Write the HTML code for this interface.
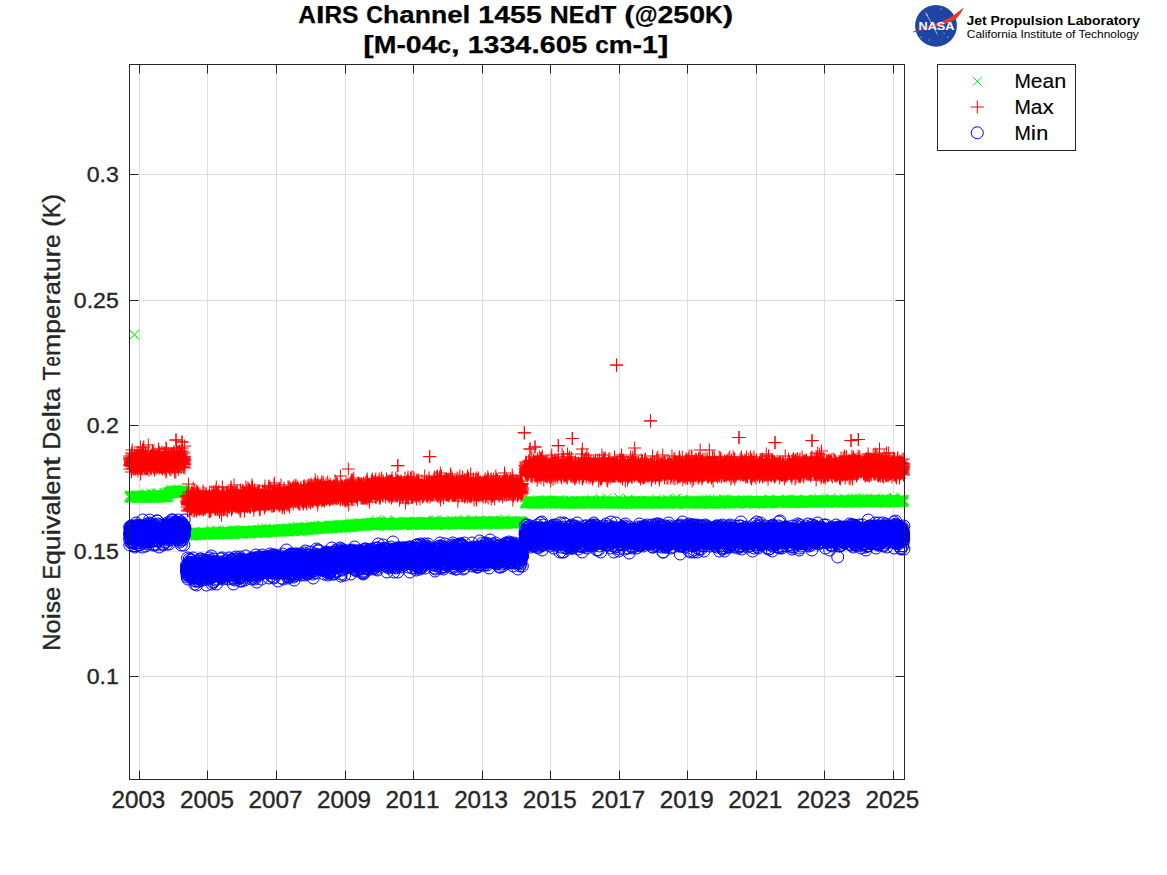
<!DOCTYPE html>
<html><head><meta charset="utf-8"><style>
html,body{margin:0;padding:0;background:#fff;overflow:hidden}
svg{display:block}
</style></head><body>
<svg width="1167" height="875" viewBox="0 0 1167 875">
<defs>
<marker id="mp" markerUnits="userSpaceOnUse" markerWidth="14" markerHeight="14" refX="7" refY="7" overflow="visible"><path d="M0.5 7H13.5M7 0.5V13.5" stroke="#f00" stroke-width="1" fill="none"/></marker>
<marker id="mx" markerUnits="userSpaceOnUse" markerWidth="14" markerHeight="14" refX="7" refY="7" overflow="visible"><path d="M2.5 2.5L11.5 11.5M11.5 2.5L2.5 11.5" stroke="#0f0" stroke-width="1" fill="none"/></marker>
<marker id="mo" markerUnits="userSpaceOnUse" markerWidth="14" markerHeight="14" refX="7" refY="7" overflow="visible"><circle cx="7" cy="7" r="6" stroke="#00f" stroke-width="1" fill="none"/></marker>
</defs>
<rect width="1167" height="875" fill="#fff"/>
<g stroke="#dfdfdf" stroke-width="1"><line x1="139.5" y1="64.5" x2="139.5" y2="779.5"/><line x1="207.5" y1="64.5" x2="207.5" y2="779.5"/><line x1="276.5" y1="64.5" x2="276.5" y2="779.5"/><line x1="345.5" y1="64.5" x2="345.5" y2="779.5"/><line x1="413.5" y1="64.5" x2="413.5" y2="779.5"/><line x1="482.5" y1="64.5" x2="482.5" y2="779.5"/><line x1="550.5" y1="64.5" x2="550.5" y2="779.5"/><line x1="619.5" y1="64.5" x2="619.5" y2="779.5"/><line x1="687.5" y1="64.5" x2="687.5" y2="779.5"/><line x1="756.5" y1="64.5" x2="756.5" y2="779.5"/><line x1="824.5" y1="64.5" x2="824.5" y2="779.5"/><line x1="893.5" y1="64.5" x2="893.5" y2="779.5"/><line x1="129.5" y1="174.5" x2="904.5" y2="174.5"/><line x1="129.5" y1="300.5" x2="904.5" y2="300.5"/><line x1="129.5" y1="425.5" x2="904.5" y2="425.5"/><line x1="129.5" y1="551.5" x2="904.5" y2="551.5"/><line x1="129.5" y1="676.5" x2="904.5" y2="676.5"/></g>
<path d="M129.5 497l.1-1 .1 1 .1 0 .1 0 .1-1 .1 0 .1 1 .1-2 0 1 .1 1 .1 0 .1 1 .1-1 .1 1 .1-2 .1 1 .1-1 .1 0 .1 2 .1-2 .1 0 .1 1 .1 0 .1 1 0 0 .1 0 .1 0 .1-1 .1 0 .1 1 .1-2 .1 2 .1-1 .1-1 .1 0 .1 1 .1 0 .1 0 .1 0 .1-1 0 1 .1-1 .1 1 .1 0 .1-1 .1 0 .1 1 .1 0 .1 0 .1-1 .1 0 .1 1 .1 0 .1 0 .1 0 .1-1 0 0 .1 1 .1 1 .1-2 .1-1 .1 2 .1 0 .1 0 .1 1 .1-1 .1-1 .1 1 .1-1 .1 1 .1 0 .1 0 0-1 .1 0 .1 0 .1 0 .1 1 .1 0 .1 1 .1-1 .1 0 .1 0 .1-1 .1 3 .1-2 .1-2 .1 2 .1 0 0-2 .1 1 .1 2 .1-2 .1 1 .1 1 .1-2 .1 0 .1 2 .1-1 .1-1 .1 2 .1-2 .1 2 .1-1 .1 1 0 0 .1-2 .1 0 .1 1 .1 0 .1 0 .1 1 .1 0 .1-2 .1 1 .1 0 .1 0 .1 0 .1 1 .1-2 .1 1 0 0 .1 0 .1-1 .1 1 .1-1 .1 2 .1-1 .1 0 .1-1 .1 0 .1-1 .1 1 .1 1 .1 0 .1 0 .1-1 .1 1 0 1 .1-2 .1 1 .1-1 .1 0 .1 2 .1-2 .1 0 .1 0 .1 0 .1 0 .1 2 .1-2 .1 0 .1 1 .1-1 0-1 .1 2 .1 0 .1-1 .1 0 .1 2 .1 0 .1-2 .1 1 .1 1 .1-2 .1 0 .1 1 .1-1 .1 1 .1-2 0 0 .1 1 .1 0 .1 0 .1 1 .1-2 .1 3 .1-2 .1-1 .1-2 .1 3 .1 0 .1 0 .1 0 .1 2 .1-1 0 0 .1-2 .1 3 .1-2 .1 1 .1-1 .1 0 .1 1 .1-1 .1 0 .1 1 .1-1 .1 1 .1 0 .1-1 .1 1 0 0 .1-1 .1 1 .1-1 .1 0 .1 2 .1-2 .1 2 .1-2 .1 1 .1-1 .1 1 .1-1 .1 1 .1 0 .1 0 0-1 .1 0 .1 1 .1 0 .1 1 .1-1 .1 0 .1 0 .1 0 .1-1 .1 0 .1 2 .1-5 .1 4 .1 0 .1-1 0 2 .1-1 .1-1 .1-1 .1 2 .1 0 .1 0 .1 0 .1-1 .1 1 .1-1 .1 1 .1-1 .1-1 .1 2 .1 0 0 1 .1-1 .1-1 .1 2 .1-1 .1 0 .1 0 .1 1 .1-1 .1-1 .1 0 .1 2 .1-2 .1 2 .1-1 .1 0 .1-1 0 0 .1 2 .1-1 .1-1 .1 1 .1 0 .1 0 .1-2 .1 2 .1-1 .1 0 .1 0 .1 0 .1 0 .1 0 .1 1 0 1 .1-2 .1 1 .1 0 .1-1 .1 0 .1-3 .1 2 .1 2 .1-2 .1 1 .1 1 .1-4 .1 5 .1-1 .1 0 0-1 .1 2 .1-1 .1 0 .1-1 .1 1 .1 1 .1-2 .1-1 .1 2 .1 0 .1 0 .1-1 .1 1 .1-1 .1 1 0-1 .1 0 .1 1 .1 1 .1-3 .1 2 .1 0 .1 1 .1-3 .1 1 .1 0 .1 1 .1-3 .1 3 .1 0 .1-1 0 0 .1 1 .1-1 .1 0 .1-1 .1 1 .1 0 .1 0 .1 1 .1-1 .1 1 .1-1 .1-1 .1 3 .1-1 .1 0 0 1 .1-2 .1 1 .1-2 .1 2 .1 0 .1-1 .1 1 .1-1 .1 1 .1 0 .1 0 .1 0 .1-1 .1-1 .1 1 0-1 .1 1 .1 1 .1-1 .1-3 .1 4 .1 0 .1-2 .1 2 .1-1 .1 1 .1-2 .1 3 .1-1 .1-1 .1 1 .1-4 0 3 .1 0 .1-1 .1 2 .1-1 .1 1 .1 0 .1-1 .1 1 .1 0 .1-1 .1 0 .1 1 .1-1 .1 0 .1 0 0 1 .1 0 .1-2 .1 1 .1 1 .1-5 .1 5 .1 0 .1 0 .1 1 .1-2 .1 0 .1 1 .1-1 .1 1 .1-1 0 0 .1-2 .1 1 .1-1 .1 0 .1 0 .1-2 .1 1 .1 0 .1 1 .1-1 .1 0 .1 0 .1 0 .1 0 .1 0 0-1 .1 0 .1 0 .1 1 .1-1 .1-1 .1 2 .1-1 .1 0 .1 0 .1 0 .1 0 .1-3 .1 4 .1 0 .1-1 0 0 .1 0 .1 0 .1 1 .1-2 .1 1 .1-1 .1 0 .1 1 .1-1 .1 2 .1 0 .1-2 .1 2 .1 0 .1-1 0 0 .1 0 .1 1 .1-1 .1-1 .1 1 .1 1 .1-2 .1 1 .1 0 .1 1 .1-2 .1 1 .1 1 .1-2 .1 1 0 1 .1-1 .1 0 .1-1 .1 2 .1-2 .1 2 .1-1 .1 1 .1-1 .1 0 .1-1 .1 1 .1-1 .1-1 .1 1 0 1 .1 0 .1 0 .1-1 .1 1 .1 0 .1 0 .1 0 .1 1 .1-3 .1 0 .1 1 .1 0 .1 2 .1-3 .1 2 .1 0 0 1 .1-2 .1 2 .1-2 .1 0 .1 2 .1-1 .1 0 .1 0 .1 0 .1-1 .1 1 .1 0 .1-1 .1 2 .1-2 0 1 .1 0 .1-1 .1 2 .1-3 .1 1 .1 0 .1 0 .1 1 .1 1 .1-2 .1 1 .1-1 .1 1 .1 0 .1 0 0 0 .1-1 .1 1 .1 0 .1-1 .1 0 .1 0 .1-1 .1 3 .1-2 .1 0 .1 1 .1-1 .1 2 .1-1 .1-1 0 0 .1 1 .1 0 .1 1 .1-3 .1 2 .1-1 .1 1 .1 1 .1-2 .1 1 .1-1 .1 1 .1-2 .1 1 .1 1 0-3 .1 2 .1 1 .1 1 .1 0 .1-2 .1 0 .1 0 .1-1 .1 2 .1 0 .1 0 .1-2 .1 1 .1 0 .1-1 0 1 .1 2 .1-1M186.5 536l.1-2 .1-1 .1 1 .1 0 .1 1 .1-1 .1 1 .1-2 0 1 .1 0 .1 0 .1 0 .1-1 .1 2 .1-1 .1 0 .1 1 .1-1 .1 0 .1 1 .1-1 .1 1 .1 0 .1 1 0-2 .1 0 .1 1 .1-2 .1 1 .1 0 .1 0 .1 0 .1 0 .1 1 .1-2 .1 2 .1-1 .1 0 .1 1 .1-1 0 1 .1 0 .1-1 .1 2 .1-3 .1 1 .1 0 .1 1 .1-1 .1 1 .1-2 .1 1 .1 1 .1-1 .1-1 .1 1 0 2 .1-1 .1-1 .1 0 .1 1 .1 1 .1-2 .1 0 .1-1 .1 0 .1 1 .1 1 .1 0 .1-1 .1 1 .1 0 0 0 .1-1 .1 1 .1-1 .1 1 .1-1 .1 1 .1-1 .1 2 .1-1 .1-1 .1-2 .1 2 .1-1 .1 2 .1-3 0 2 .1 1 .1-2 .1 0 .1 1 .1 0 .1 0 .1 0 .1 1 .1-2 .1 1 .1 1 .1 0 .1 1 .1-1 .1-1 0 0 .1-1 .1 1 .1 0 .1-1 .1 1 .1 0 .1 1 .1 0 .1 0 .1-3 .1 2 .1 0 .1 0 .1-1 .1 1 0 0 .1 0 .1-1 .1 2 .1-2 .1 1 .1 0 .1-1 .1 0 .1 2 .1-1 .1-1 .1 0 .1 1 .1 0 .1-1 .1 1 0 1 .1-1 .1-2 .1 2 .1-1 .1 0 .1 2 .1-2 .1 1 .1-2 .1 3 .1-2 .1 2 .1 0 .1 0 .1-1 0 0 .1 0 .1-1 .1 0 .1 1 .1-2 .1 2 .1 0 .1 0 .1 0 .1-2 .1 2 .1 0 .1-1 .1 1 .1 0 0 0 .1-1 .1 0 .1 1 .1 0 .1 0 .1-2 .1 0 .1 1 .1 1 .1 0 .1 1 .1-1 .1 0 .1 0 .1 0 0-1 .1 0 .1 2 .1-3 .1 2 .1 0 .1 0 .1 1 .1 0 .1-1 .1 0 .1-1 .1 1 .1 1 .1-1 .1 1 0 0 .1-2 .1 1 .1 0 .1 0 .1-1 .1 0 .1 1 .1-1 .1 1 .1-1 .1 1 .1-1 .1 0 .1 1 .1-1 0 2 .1-2 .1 1 .1-1 .1 1 .1 0 .1-1 .1 1 .1 0 .1 0 .1 1 .1-2 .1 1 .1 0 .1-1 .1 1 0-1 .1-1 .1 3 .1-1 .1 0 .1 0 .1 0 .1-1 .1 1 .1-1 .1 0 .1 0 .1 0 .1 0 .1 1 .1 0 0-1 .1 2 .1-2 .1 1 .1 0 .1-1 .1 2 .1-5 .1 3 .1 2 .1-3 .1 1 .1 0 .1 0 .1 1 .1 0 .1-1 0 1 .1 0 .1 0 .1-1 .1 1 .1 0 .1 0 .1-1 .1-1 .1 2 .1 0 .1 0 .1-1 .1 1 .1 0 .1-2 0 1 .1 0 .1 0 .1 2 .1-3 .1 1 .1 1 .1-1 .1 1 .1 0 .1-2 .1 1 .1 1 .1 0 .1-1 .1 1 0-1 .1 2 .1-3 .1 2 .1-1 .1 0 .1 1 .1-1 .1 1 .1 0 .1-1 .1-1 .1 0 .1 2 .1 0 .1-1 0 0 .1 0 .1-3 .1 2 .1 0 .1 2 .1 0 .1 1 .1-2 .1 1 .1-2 .1 1 .1 1 .1 0 .1 0 .1-1 0-1 .1 2 .1-1 .1 0 .1 1 .1-1 .1 1 .1-2 .1 1 .1 1 .1-2 .1 2 .1 0 .1-1 .1 2 .1-2 0 0 .1 0 .1 1 .1-2 .1 1 .1 0 .1 1 .1-2 .1 1 .1 0 .1-1 .1 2 .1 0 .1-1 .1 1 .1-1 0-1 .1 1 .1 0 .1 1 .1 0 .1 0 .1-1 .1-1 .1 2 .1-2 .1 2 .1-2 .1 2 .1 1 .1-1 .1-1 .1 0 0 0 .1 0 .1 0 .1 0 .1 1 .1 0 .1-2 .1 1 .1 0 .1 1 .1-1 .1-2 .1 2 .1 0 .1 1 .1-1 0-1 .1 1 .1 0 .1 0 .1 1 .1-1 .1 0 .1 0 .1 0 .1 0 .1-2 .1 2 .1 0 .1 1 .1 0 .1-1 0-1 .1 1 .1 0 .1-2 .1 2 .1-2 .1 3 .1-1 .1 0 .1-1 .1 1 .1 1 .1-1 .1-1 .1 0 .1 2 0-1 .1-1 .1 1 .1 0 .1-1 .1-2 .1 4 .1-2 .1 0 .1 0 .1 3 .1-2 .1 0 .1 0 .1 1 .1-1 0 0 .1 0 .1 0 .1 1 .1-1 .1-1 .1 1 .1 0 .1 0 .1 0 .1-1 .1 2 .1 0 .1-2 .1 2 .1-2 0 0 .1 1 .1 0 .1-1 .1 0 .1 1 .1 0 .1-1 .1 2 .1-1 .1 0 .1 1 .1-2 .1 0 .1 1 .1 0 0-1 .1 0 .1 1 .1 0 .1 0 .1 0 .1 0 .1-1 .1 0 .1 1 .1 0 .1 0 .1 0 .1-1 .1 0 .1 0 0-2 .1 2 .1 2 .1-4 .1 2 .1 2 .1-1 .1-1 .1 1 .1 0 .1-1 .1 2 .1-1 .1 1 .1-2 .1 0 .1 1 0 0 .1-1 .1 1 .1-1 .1 0 .1-1 .1 2 .1-1 .1 0 .1 1 .1 0 .1 1 .1 0 .1-1 .1 0 .1 0 0 1 .1-1 .1-1 .1 0 .1-1 .1 1 .1 1 .1-1 .1 1 .1 0 .1-2 .1 2 .1-2 .1 2 .1-2 .1 1 0 1 .1 0 .1-1 .1-1 .1 2 .1-1 .1 0 .1 0 .1-1 .1 0 .1 1 .1 1 .1 0 .1-3 .1 4 .1-2 0 0 .1 0 .1 1 .1 0 .1 1 .1-1 .1-1 .1 0 .1-2 .1 3 .1-1 .1 0 .1 1 .1 1 .1-2 .1 1 0-2 .1 2 .1-1 .1 2 .1-2 .1 1 .1 1 .1-2 .1 0 .1 0 .1-1 .1 2 .1 0 .1-1 .1 1 .1 0 0-1 .1 0 .1 0 .1-1 .1 3 .1-2 .1-1 .1 1 .1 1 .1-1 .1 2 .1 0 .1-1 .1-1 .1 1 .1 0 0-1 .1 0 .1-1 .1 1 .1-1 .1 0 .1 1 .1-2 .1 2 .1 1 .1-3 .1 3 .1-1 .1-1 .1 2 .1 0 0-1 .1 0 .1 0 .1 0 .1 0 .1 0 .1 1 .1 0 .1-1 .1 1 .1-1 .1 0 .1 0 .1-1 .1 3 .1-1 .1-1 0 0 .1 1 .1 0 .1-1 .1 0 .1 0 .1 0 .1 0 .1 0 .1 1 .1-2 .1 2 .1 0 .1-1 .1 1 .1 0 0 0 .1-1 .1-1 .1 2 .1 0 .1-1 .1 0 .1 0 .1 0 .1 0 .1 1 .1-1 .1-1 .1 1 .1 1 .1-1 0-1 .1 0 .1 1 .1 0 .1 2 .1-3 .1 3 .1-2 .1 1 .1 0 .1 0 .1-2 .1 2 .1-1 .1 0 .1 0 0 0 .1 0 .1 1 .1-1 .1 1 .1-1 .1 1 .1 0 .1 0 .1 0 .1-2 .1 0 .1 0 .1 1 .1 0 .1 0 0 0 .1-2 .1 2 .1 1 .1 0 .1-1 .1-1 .1-1 .1 1 .1 0 .1 1 .1 0 .1 0 .1 0 .1 0 .1 1 0-2 .1 1 .1 0 .1 0 .1 0 .1 0 .1-1 .1 0 .1 1 .1 1 .1-2 .1 0 .1 1 .1 1 .1-2 .1 1 0-1 .1 1 .1-1 .1 0 .1 0 .1 1 .1-1 .1-1 .1 2 .1 0 .1 0 .1 1 .1-1 .1 0 .1-1 .1 2 0-2 .1 1 .1 0 .1-1 .1 1 .1 0 .1 0 .1-1 .1 1 .1-2 .1 0 .1 2 .1-1 .1 1 .1 1 .1 0 .1-1 0 0 .1-2 .1 2 .1-2 .1 1 .1 1 .1 0 .1 0 .1-1 .1 1 .1-1 .1 1 .1 0 .1 0 .1 0 .1-1 0 1 .1-2 .1 0 .1 1 .1 1 .1 0 .1 0 .1 1 .1-1 .1-2 .1 2 .1-1 .1 1 .1-1 .1 1 .1 1 0-1 .1 0 .1-1 .1-1 .1 2 .1-4 .1 3 .1 0 .1 0 .1 0 .1 0 .1 0 .1 0 .1-1 .1 1 .1 1 0-1 .1 0 .1 1 .1-1 .1 0 .1 2 .1-2 .1 1 .1 1 .1-1 .1 0 .1 0 .1-1 .1 2 .1-1 .1-1 0 2 .1-1 .1 0 .1-1 .1 1 .1 1 .1-2 .1 1 .1 1 .1-2 .1 0 .1 1 .1-1 .1 2 .1-2 .1 0 0 0 .1-1 .1 2 .1-4 .1 2 .1 3 .1-2 .1 0 .1 0 .1-1 .1 0 .1 1 .1 1 .1 0 .1-1 .1 1 0 0 .1 0 .1-2 .1 1 .1 0 .1 1 .1-1 .1 0 .1 0 .1 0 .1-1 .1 1 .1 0 .1-1 .1 0 .1 1 .1 0 0 0 .1 1 .1-1 .1-2 .1 3 .1-1 .1 0 .1 1 .1-3 .1 1 .1 1 .1-1 .1 1 .1 0 .1 0 .1-1 0 1 .1-1 .1 1 .1 0 .1 0 .1 1 .1-1 .1 0 .1 1 .1 0 .1 0 .1-2 .1 2 .1-1 .1-1 .1 0 0 1 .1-1 .1 1 .1 0 .1 0 .1 0 .1 0 .1-1 .1 2 .1-1 .1-1 .1 1 .1 0 .1 0 .1-2 .1 2 0 0 .1 1 .1-2 .1 1 .1 0 .1 0 .1-1 .1 0 .1 2 .1-1 .1-1 .1 0 .1 0 .1 0 .1 1 .1-2 0 3 .1-2 .1 0 .1 1 .1 0 .1-1 .1 0 .1 1 .1 1 .1-1 .1 0 .1-1 .1 1 .1-1 .1 1 .1 0 0 0 .1 0 .1 0 .1-1 .1 0 .1 1 .1 0 .1-1 .1 0 .1 1 .1-1 .1 1 .1-1 .1-1 .1 3 .1-1 0 0 .1-1 .1 2 .1-1 .1-1 .1 1 .1-1 .1 0 .1 0 .1 0 .1 0 .1 1 .1-1 .1 2 .1-1 .1 0 0 0 .1-1 .1 1 .1 0 .1 0 .1-2 .1 1 .1 0 .1 1 .1 0 .1 0 .1 0 .1 0 .1 1 .1 0 .1-2 .1 0 0 1 .1-1 .1 2 .1-2 .1-1 .1 0 .1 1 .1 0 .1 0 .1-1 .1 2 .1-1 .1 0 .1-1 .1 2 .1-1 0 0 .1 1 .1-1 .1 0 .1-1 .1 1 .1 0 .1 0 .1 0 .1 0 .1 1 .1-1 .1 2 .1-2 .1-1 .1 3 0-1 .1 0 .1-2 .1 1 .1 0 .1-1 .1 0 .1 0 .1 1 .1 1 .1 0 .1 0 .1-1 .1 1 .1-1 .1-1 0 1 .1 0 .1 0 .1 1 .1 0 .1-1 .1 1 .1-1 .1 1 .1-2 .1-1 .1 2 .1 0 .1 0 .1-1 .1 2 0-1 .1 1 .1 1 .1-1 .1-3 .1 1 .1 1 .1 0 .1 1 .1 1 .1-3 .1 1 .1 0 .1-1 .1 1 .1 1 0 0 .1 0 .1-1 .1 0 .1 0 .1 1 .1-1 .1 1 .1-1 .1-1 .1 1 .1-1 .1 3 .1-3 .1 1 .1 0 0 0 .1 0 .1 0 .1 0 .1 0 .1-1 .1-1 .1 2 .1 0 .1 0 .1 0 .1-1 .1 0 .1 1 .1 0 .1-1 0 1 .1 0 .1 0 .1 1 .1-1 .1-1 .1 1 .1 0 .1 0 .1-1 .1 1 .1 1 .1-1 .1 0 .1-3 .1 3 .1 1 0-1 .1 1 .1 0 .1-3 .1 1 .1 1 .1 1 .1-1 .1-1 .1 0 .1 0 .1 2 .1-2 .1 0 .1 2 .1-1 0-1 .1 2 .1-1 .1-1 .1 1 .1-1 .1 0 .1 1 .1 0 .1 0 .1-2 .1 2 .1 0 .1 0 .1-1 .1 1 0-1 .1 0 .1 1 .1 0 .1 0 .1 0 .1-1 .1 0 .1 1 .1 0 .1 0 .1-4 .1 3 .1 2 .1-1 .1-3 0 2 .1 1 .1-1 .1 0 .1-1 .1 3 .1 0 .1-2 .1 0 .1 1 .1-1 .1 1 .1-1 .1 0 .1 0 .1 2 0 0 .1-2 .1 0 .1 0 .1 1 .1-1 .1 0 .1 1 .1-2 .1 2 .1-1 .1 1 .1 0 .1 1 .1-2 .1 0 0 2 .1-2 .1 2 .1-2 .1 0 .1 2 .1-2 .1 1 .1-2 .1 2 .1 1 .1-3 .1 0 .1 1 .1 1 .1 0 0-2 .1 1 .1 2 .1-3 .1 1 .1 1 .1-1 .1 0 .1 0 .1 1 .1-1 .1 1 .1 0 .1-2 .1 3 .1-1 0-1 .1 0 .1 0 .1 0 .1 0 .1-1 .1 1 .1-1 .1-1 .1 1 .1 0 .1 2 .1-1 .1-1 .1 0 .1 1 .1 0 0 0 .1 0 .1 0 .1 0 .1 0 .1 0 .1 1 .1 0 .1-1 .1-1 .1 2 .1-1 .1 0 .1-1 .1 1 .1 1 0 0 .1-1 .1 0 .1-1 .1 0 .1-1 .1 1 .1 1 .1 1 .1 0 .1-3 .1 3 .1-2 .1 2 .1-2 .1 1 0 0 .1 0 .1-1 .1 1 .1-1 .1 2 .1-1 .1-1 .1 0 .1 2 .1-2 .1 1 .1 0 .1 0 .1-1 .1 1 0-1 .1 0 .1 0 .1 1 .1-1 .1 0 .1 1 .1 1 .1-1 .1-4 .1 2 .1 2 .1 0 .1-1 .1 1 .1-1 0 1 .1 0 .1 0 .1-1 .1 0 .1 0 .1 0 .1 1 .1 1 .1-1 .1 0 .1 0 .1 0 .1-1 .1 0 .1 0 0 1 .1-1 .1 0 .1 0 .1 1 .1-2 .1 2 .1 0 .1-1 .1 2 .1-2 .1 1 .1-2 .1 1 .1 1 .1 0 0-1 .1 1 .1 0 .1-2 .1 1 .1 1 .1 0 .1-3 .1 3 .1-1 .1 0 .1 0 .1 0 .1 0 .1 0 .1 0 .1 1 0 0 .1-1 .1-1 .1 2 .1-1 .1 0 .1 1 .1 0 .1 0 .1-2 .1 0 .1 2 .1-1 .1 1 .1-1 .1 0 0-1 .1 1 .1 1 .1-2 .1 2 .1-2 .1 1 .1-1 .1 1 .1-1 .1 1 .1 0 .1-1 .1 1 .1 0 .1 0 0 0 .1-1 .1 1 .1-1 .1 2 .1-1 .1 1 .1-2 .1 1 .1 1 .1-1 .1 0 .1 0 .1 0 .1 0 .1 0 0 0 .1-2 .1 2 .1 1 .1-2 .1 1 .1 1 .1-1 .1-1 .1 1 .1-1 .1-1 .1 2 .1 0 .1-1 .1 1 0 0 .1 0 .1-3 .1 1 .1 2 .1-2 .1 1 .1 1 .1 0 .1-1 .1 0 .1 1 .1 1 .1-1 .1-1 .1 1 0 0 .1-2 .1 1 .1 1 .1-1 .1 2 .1-2 .1 0 .1 0 .1 1 .1-1 .1 0 .1 1 .1 1 .1-2 .1 0 0 0 .1 0 .1 1 .1-1 .1 0 .1 1 .1-1 .1 0 .1 0 .1 1 .1-1 .1 1 .1 0 .1-2 .1 2 .1 0 0-1 .1 1 .1-1 .1 1 .1 1 .1-1 .1 1 .1 0 .1-1 .1 0 .1-1 .1 1 .1-1 .1 1 .1 0 .1-2 .1 2 0-1 .1 0 .1 1 .1-1 .1 1 .1 0 .1-1 .1 1 .1 0 .1 0 .1-1 .1 1 .1-1 .1 0 .1 1 .1-1 0 0 .1 0 .1-2 .1 2 .1 0 .1 0 .1 0 .1 0 .1-1 .1 0 .1 1 .1 1 .1-2 .1 2 .1-1 .1 0 0 0 .1 0 .1 1 .1-2 .1 2 .1-1 .1-1 .1 1 .1-1 .1 0 .1 2 .1 1 .1-2 .1 0 .1 0 .1 0 0 0 .1 0 .1 0 .1-1 .1-1 .1 1 .1 3 .1-2 .1 0 .1-1 .1 0 .1 1 .1 0 .1 1 .1 0 .1 0 0-2 .1-1 .1 2 .1 0 .1 0 .1 0 .1 0 .1 0 .1-1 .1 1 .1 0 .1 0 .1 0 .1-1 .1 1 .1-1 0 1 .1 0 .1 0 .1 0 .1 0 .1 1 .1-1 .1-1 .1 1 .1 0 .1 0 .1 0 .1-1 .1 1 .1 0 .1-2 0 3 .1-2 .1 2 .1-1 .1-2 .1 2 .1-1 .1 1 .1 0 .1 0 .1 0 .1 1 .1 0 .1-1 .1 0 .1-1 0 1 .1 0 .1 0 .1-1 .1-1 .1 1 .1 0 .1 0 .1 1 .1-1 .1 0 .1 1 .1 1 .1-2 .1-1 .1 1 .1 0 0 1 .1-1 .1-1 .1 0 .1 0 .1 1 .1-1 .1 2 .1 0 .1-1 .1 1 .1-1 .1 2 .1-2 .1 1 .1-2 0 2 .1-1 .1 1 .1-1 .1 1 .1-1 .1 1 .1-1 .1 0 .1 1 .1-1 .1 0 .1 0 .1 1 .1-1 .1 2 0-1 .1-2 .1 2 .1 0 .1 0 .1 0 .1-1 .1-1 .1 2 .1-1 .1-1 .1 2 .1 0 .1 0 .1 0 .1 0 0-1 .1 1 .1 1 .1-3 .1 2 .1-1 .1 2 .1-1 .1-1 .1 0 .1 0 .1 0 .1 0 .1 0 .1-1 .1 1 0 1 .1-1 .1 1 .1-2 .1 1 .1 1 .1-1 .1 1 .1-1 .1 0 .1 1 .1-1 .1 1 .1 0 .1-2 .1 0 0 0 .1 1 .1 0 .1 0 .1 0 .1 1 .1 0 .1-1 .1-1 .1 0 .1 2 .1 0 .1-1 .1-1 .1 1 .1 0 0-1 .1 1 .1 0 .1-1 .1 3 .1-1 .1-2 .1 1 .1 0 .1-1 .1-1 .1 3 .1-1 .1-1 .1 1 .1 0 0 0 .1 0 .1 0 .1 0 .1-1 .1 2 .1-3 .1 3 .1-2 .1-1 .1 1 .1 1 .1 0 .1 0 .1 1 .1-4 .1 3 0-2 .1 1 .1 2 .1-2 .1 1 .1 0 .1 0 .1 0 .1-1 .1 0 .1 2 .1-2 .1 1 .1 0 .1 1 .1-2 0 0 .1 1 .1 0 .1 1 .1-1 .1 0 .1-1 .1 0 .1 1 .1 0 .1 0 .1-1 .1 0 .1-1 .1 1 .1 0 0 0 .1 0 .1 0 .1 1 .1 0 .1-1 .1-1 .1 0 .1 2 .1 0 .1 0 .1-2 .1 1 .1 0 .1 1 .1 0 0 0 .1 0 .1-2 .1 1 .1 0 .1 0 .1 1 .1-1 .1 0 .1 0 .1 0 .1-2 .1 1 .1 2 .1-1 .1 0 0 0 .1 1 .1-1 .1 0 .1 0 .1-1 .1 2 .1-1 .1 1 .1 0 .1-1 .1-2 .1 2 .1 0 .1 0 .1 0 0 0 .1 2 .1-3 .1 1 .1 0 .1 0 .1 0 .1-1 .1 1 .1-2 .1 2 .1 1 .1-1 .1 0 .1 0 .1 0 0 0 .1-1 .1 1 .1 0 .1 1 .1 0 .1-2 .1 0 .1 2 .1-2 .1 1 .1 0 .1-1 .1 0 .1 0 .1 1 .1 0 0 1 .1-2 .1 0 .1 1 .1 0 .1 0 .1 1 .1-2 .1 0 .1 1 .1-1 .1 0 .1 1 .1 1 .1-1 .1 0 0 1 .1-2 .1 0 .1 1 .1 0 .1-1 .1 0 .1 1 .1 0 .1-1 .1 1 .1-1 .1 1 .1-1 .1 0 .1 1 0-1 .1 2 .1-3 .1 2 .1-1 .1 1 .1 0 .1 1 .1-2 .1 0 .1 1 .1 0 .1-1 .1 1 .1-1 .1 0 0 0 .1 0 .1 1 .1 0 .1 0 .1-1 .1 0 .1 0 .1-1 .1 0 .1 1 .1 0 .1 0 .1 0 .1 1 .1-1 0 1 .1 0 .1 0 .1-1 .1 0 .1 1 .1 1 .1-1 .1 0 .1 0 .1-2 .1 1 .1 1 .1-1 .1 0 .1-1 0 1 .1 0 .1 0 .1 0 .1 0 .1-1 .1 2 .1-2 .1 2 .1-2 .1 1 .1 1 .1 0 .1 0 .1-2 .1 0 0 2 .1 0 .1-1 .1-1 .1-1 .1 2 .1 1 .1 0 .1-1 .1 0 .1 1 .1 0 .1 0 .1 0 .1 0 .1-1 0 0 .1 0 .1-1 .1 1 .1-1 .1 1 .1 0 .1 0 .1 0 .1 1 .1-1 .1-1 .1 2 .1-3 .1 2 .1-1 .1 0 0-1 .1 2 .1 0 .1 0 .1-1 .1 2 .1 0 .1-1 .1 0 .1 1 .1 1 .1-2 .1 0 .1-2 .1 2 .1 0 0-4 .1 6 .1-2 .1 1 .1-1 .1 0 .1 0 .1-2 .1 1 .1 1 .1-1 .1 0 .1-1 .1 2 .1 0 .1 0 0 0 .1-1 .1 0 .1 2 .1-1 .1 0 .1 0 .1 1 .1 0 .1-1 .1 1 .1-1 .1-1 .1 1 .1 0 .1-1 0 0 .1 1 .1 0 .1-1 .1 2 .1-1 .1-1 .1 1 .1 1 .1-2 .1 1 .1 0 .1 0 .1 1 .1-1 .1 0 0 0 .1 0 .1 0 .1-3 .1 3 .1 0 .1-1 .1 2 .1-1 .1 1 .1-2 .1 1 .1 0 .1 1 .1-1 .1 0 0-1 .1 0 .1 0 .1 1 .1-1 .1 1 .1-1 .1 2 .1 0 .1-1 .1 1 .1-1 .1 1 .1-1 .1 0 .1 0 0-1 .1 0 .1 0 .1 1 .1-1 .1 1 .1-1 .1 2 .1-1 .1 0 .1 0 .1-1 .1 0 .1 1 .1-1 .1 0 0 3 .1-2 .1-2 .1 2 .1 0 .1 0 .1 0 .1 0 .1 0 .1 0 .1-2 .1 2 .1-1 .1 1 .1 1 .1-1 .1-4 0 3 .1 1 .1 0 .1-1 .1 2 .1-2 .1 1 .1 0 .1-1 .1 1 .1 2 .1-1 .1 1 .1-4 .1-1 .1 3 0 0 .1 0 .1 0 .1 0 .1-1 .1 0 .1 0 .1 0 .1 0 .1 2 .1-1 .1 0 .1 0 .1 1 .1-1 .1 1 0-1 .1 1 .1-2 .1 0 .1 1 .1 0 .1-1 .1 0 .1 1 .1 0 .1 0 .1 0 .1 1 .1-1 .1 0 .1 0 0-1 .1 1 .1 0 .1-1 .1 3 .1-3 .1 0 .1 0 .1 0 .1 1 .1 0 .1-1 .1 0 .1 2 .1-2 .1 1 0-1 .1 2 .1-2 .1 1 .1 0 .1 0 .1 0 .1-1 .1 0 .1 2 .1-2 .1 0 .1 2 .1-1 .1-1 .1 1 0 1 .1 1 .1-2 .1 0 .1 0 .1 0 .1 0 .1-1 .1 1 .1-1 .1 1 .1 0 .1 0 .1-1 .1 1 .1-2 0 1 .1 0 .1 1 .1 0 .1-1 .1-2 .1 3 .1 0 .1 0 .1 0 .1-1 .1-1 .1 2 .1 0 .1 0 .1 1 0-2 .1 2 .1-1 .1 0 .1-1 .1 0 .1 1 .1 0 .1-2 .1 1 .1 2 .1-1 .1 0 .1-1 .1-1 .1 3 .1-2 0 1 .1 0 .1-1 .1 1 .1 0 .1 0 .1-1 .1 0 .1 1 .1 0 .1-1 .1 0 .1 1 .1 0 .1 0 .1 0 0-1 .1 1 .1 0 .1 0 .1 0 .1 0 .1-1 .1 0 .1 0 .1 0 .1 1 .1 0 .1-1 .1 2 .1-2 .1 1 0 1 .1 0 .1 0 .1-1 .1 1 .1-3 .1 3 .1-2 .1 1 .1-2 .1 1 .1 1 .1 0 .1 0 .1 0 .1-1 0 1 .1 0 .1 0 .1 0 .1-1 .1 0 .1 2 .1-1 .1 0 .1 0 .1-1 .1-1 .1 1 .1 1 .1 1 .1-1 0 0 .1 1 .1-2 .1 2 .1-1 .1-1 .1 0 .1-1 .1 2 .1-1 .1 0 .1 1 .1-1 .1 2 .1-1 .1-1 0 0 .1 1 .1 0 .1 0 .1-2 .1 3 .1-2 .1 1 .1-1 .1-2 .1 3 .1-2 .1 2 .1-1 .1 1 .1-1 0-1 .1 0 .1 2 .1-1 .1 0 .1 1 .1 0 .1-1 .1 0 .1 1 .1 0 .1 0 .1-1 .1 1 .1-2 .1 1 .1 1 0 0 .1 0 .1 0 .1-1 .1-1 .1 1 .1 1 .1 0 .1 0 .1 0 .1 0 .1 0 .1-1 .1 0 .1 1 .1 1 0-1 .1-1 .1 1 .1 0 .1 1 .1-3 .1 2 .1-1 .1 1 .1 0 .1 1 .1-2 .1 0 .1 0 .1 2 .1 0 0 0 .1-2 .1 2 .1-2 .1-1 .1 1 .1 0 .1 0 .1 0 .1 1 .1 0 .1 0 .1-1 .1 1 .1 0 .1 0 0-2 .1 3 .1-2 .1 1 .1 0 .1-1 .1-2 .1 2 .1 1 .1-2 .1 1 .1 2 .1-2 .1 1 .1 0 .1 0 0-1 .1 1 .1 1 .1-2 .1 0 .1 2 .1-2 .1 0 .1 2 .1-1 .1-1 .1-1 .1 2 .1 0 .1 0 .1-1 0 0 .1 1 .1-2 .1 0 .1 2 .1 0 .1-1 .1 2 .1-2 .1 0 .1 1 .1-1 .1 1 .1 0 .1-1 .1-1 0 2 .1-1 .1 0 .1 1 .1 0 .1 0 .1 0 .1 0 .1-2 .1 2 .1-1 .1 2 .1 0 .1 0 .1-1 .1-1 0 1 .1-1 .1 0 .1-1 .1 3 .1 0 .1-2 .1 0 .1-1 .1 2 .1-1 .1 2 .1-1 .1 1 .1-1 .1 0 .1 0 0 0 .1 0 .1-1 .1 0 .1-1 .1 2 .1-1 .1 1 .1-1 .1 0 .1 0 .1 2 .1-1 .1 0 .1-1 .1-1 0 3 .1-2 .1 0 .1 0 .1 2 .1-2 .1 0 .1 1 .1-1 .1 0 .1 0 .1 1 .1 0 .1 0 .1 0 .1-2 0 0 .1-1 .1 3 .1 0 .1 0 .1-2 .1 2 .1-2 .1 2 .1-1 .1 2 .1-1 .1 0 .1 0 .1-1 .1 0 0-1 .1 2 .1-1 .1 0 .1 0 .1 2 .1-1 .1-1 .1 0 .1 1 .1-1 .1-1 .1 2 .1-1 .1 0 .1-1 0 1 .1 0 .1-1 .1 0 .1 0 .1 2 .1-1 .1 1 .1 0 .1 0 .1-1 .1 2 .1-2 .1 0 .1 0 .1-1 0 2 .1-1 .1 1 .1 0 .1-1 .1-1 .1 1 .1 1 .1-1 .1 2 .1-2 .1 1 .1-1 .1 1 .1 0 .1 0 0-1 .1 0 .1 0 .1 0 .1 1 .1 0 .1 0 .1-2 .1 1 .1 0 .1 0 .1 2 .1-2 .1 1 .1-1 .1 0 0 0 .1 1 .1-1 .1 0 .1 0 .1 0 .1 0 .1-1 .1 2 .1 0 .1 0 .1-1 .1-1 .1 1 .1-3 .1 4 .1 0 0-3 .1 3 .1 0 .1-2 .1 0 .1 2 .1-2 .1 2 .1-1 .1-1 .1 1 .1 1 .1-1 .1 1 .1-3 .1 2 0 0 .1 0 .1 0 .1-2 .1 3 .1 0 .1 1 .1-1 .1 1 .1-1 .1 1 .1-2 .1 0 .1 1 .1-4 .1 3 0-1 .1 3 .1-3 .1 2 .1 0 .1 0 .1-1 .1 1 .1 0 .1 0 .1-1 .1 1 .1 0 .1 0 .1-1 .1 2 0-1 .1 0 .1 1 .1-1 .1 0 .1-2 .1 1 .1-1 .1 1 .1 1 .1-1 .1 1 .1-1 .1 0 .1 0 .1 1 0-1 .1 0 .1 0 .1-1 .1 2 .1-1 .1 0 .1 1 .1-1 .1 0 .1-1 .1 2 .1 0 .1-1 .1 1 .1-1 0 2 .1-2 .1 0 .1 0 .1-2 .1 2 .1 2 .1-2 .1 1 .1-2 .1 2 .1-1 .1 0 .1 0 .1-1 .1 0 0 1 .1 0 .1 1 .1-1 .1 0 .1-1 .1 2 .1 0 .1-1 .1 1 .1 1 .1-1 .1-1 .1 1 .1 0 .1-2 0 0 .1 2 .1 1 .1-1 .1-1 .1 0 .1-1 .1 1 .1 0 .1 2 .1 0 .1-1 .1-1 .1 2 .1-2 .1 0 .1 0 0 0 .1-1 .1 2 .1-1 .1 1 .1 0 .1-2 .1 0 .1 1 .1-1 .1 1 .1-1 .1 2 .1 1 .1-2 .1 1 0-1 .1 0 .1 0 .1 0 .1 0 .1 0 .1 0 .1 0 .1 0 .1 1 .1 0 .1-1 .1 1 .1 0 .1-2 .1 2 0-2 .1 0 .1 2 .1-1 .1 0 .1 1 .1 0 .1-1 .1-1 .1 2 .1-1 .1 0 .1 1 .1-2 .1 2 .1-2 0 0 .1 1 .1 0 .1 0 .1 0 .1 0 .1 0 .1 0 .1 0 .1 1 .1-1 .1-1 .1-2 .1 4 .1-1 .1 0 0 1 .1-1 .1 1 .1-1 .1 1 .1 0 .1-1 .1-1 .1 1 .1 1 .1-1 .1-1 .1 1 .1 0 .1 0 .1 1 0-1 .1-1 .1 1 .1 1 .1 0 .1 0 .1-2 .1 0 .1 1 .1-1 .1 1 .1 1 .1-1 .1 0 .1 0 .1 0 0 0 .1 0 .1-1 .1 1 .1 1 .1-1 .1 1 .1-3 .1 3 .1 0 .1-1 .1 0 .1 0 .1 1 .1 0 .1-2 .1 0 0 2 .1-1 .1-1 .1 1 .1 0 .1-2 .1 2 .1-1 .1 1 .1 0 .1 0 .1 1 .1-2 .1 0 .1 1 .1 1 0-1 .1 0 .1 0 .1 1 .1 0 .1 0 .1-2 .1 1 .1 0 .1 0 .1 1 .1-3 .1 2 .1 1 .1 0 .1 0 0-1 .1 0 .1 0 .1 1 .1 0 .1-1 .1-1 .1 3 .1-2 .1 0 .1-1 .1 3 .1-2 .1 0 .1 1 .1 0 0-2 .1 2 .1-1 .1 0 .1 0 .1 1 .1 0 .1-2 .1 0 .1 1 .1-2 .1 3 .1-1 .1 1 .1-1 .1-1 0-1 .1 2 .1 0 .1 1 .1-1 .1 0 .1 1 .1-1 .1-2 .1 3 .1-1 .1 0 .1-1 .1 0 .1 1 .1 0 0 0 .1-1 .1 0 .1 1 .1-4 .1 5 .1 0 .1-2 .1 1 .1 0 .1-1 .1 3 .1-3 .1 2 .1 0 .1-4 0 2 .1 1 .1 1 .1-1 .1 0 .1-1 .1 2 .1-1 .1 1 .1-1 .1 0 .1 1 .1 0 .1-2 .1 1 .1 0 0-1 .1 0 .1 0 .1 0 .1 1 .1 0 .1-1 .1 1 .1 0 .1 1 .1-2 .1 1 .1 0 .1 0 .1 1 .1-1 .1-1 0 1 .1-1 .1 3 .1-1 .1-1 .1 1 .1-1 .1 0 .1-1 .1 1 .1-1 .1 2 .1-1 .1 1 .1 0 .1-1 0 0 .1 0 .1 0 .1 0 .1 0 .1 1 .1-1 .1 2 .1-3 .1 2 .1-2 .1 1 .1 0 .1 0 .1 1 .1 0 0-1 .1-1 .1-1 .1 2 .1-1 .1 0 .1 1 .1 0 .1-1 .1 1 .1 0 .1 2 .1-2 .1 1 .1-1 .1 1 0-1 .1 0 .1-1 .1 1 .1 1 .1-3 .1 2 .1 0 .1-1 .1 2 .1-2 .1 2 .1 0 .1-1 .1 1 .1-1 0-1 .1 0 .1 0 .1-1 .1 4 .1-2 .1-2 .1 2 .1-1 .1 0 .1 0 .1 1 .1 0 .1-1 .1 1 .1 1 0 0 .1-1 .1 0 .1 0 .1 0 .1-1 .1 2 .1-1 .1-2 .1 2 .1 0 .1 1 .1 0 .1 0 .1-2 .1-1 0 2 .1-1 .1 1 .1-1 .1 3 .1-3 .1 1 .1-1 .1 0 .1 1 .1 0 .1 0 .1 0 .1 0 .1-1 .1 1 0 1 .1-1 .1 0 .1-3 .1 0 .1 3 .1 0 .1 0 .1 0 .1 0 .1 0 .1 0 .1-1 .1 2 .1-1 .1 1 .1-2 0 1 .1 0 .1-2 .1 2 .1-1 .1 1 .1 0 .1 1 .1-1 .1 0 .1 0 .1 0 .1 0 .1 0 .1 0 .1-2 0 2 .1-1 .1 0 .1 2 .1 0 .1-2 .1 2 .1-2 .1 1 .1 0 .1 0 .1 1 .1-1 .1-1 .1 0 .1 1 0-1 .1 1 .1 0 .1-1 .1 0 .1 1 .1 0 .1 1 .1-1 .1-1 .1 3 .1-2 .1-1 .1 0 .1 0 .1 1 0 1 .1-1 .1-1 .1 1 .1 0 .1 0 .1-1 .1 0 .1-1 .1 2 .1 0 .1-1 .1 1 .1 0 .1 0 .1 0 0 0 .1-1 .1 2 .1 0 .1-2 .1 1 .1-1 .1 0 .1 2 .1-2 .1 1 .1-2 .1 2 .1 0 .1 0 .1 1 0 0 .1-1 .1 0 .1-1 .1 0 .1 0 .1 1 .1 1 .1-1 .1-1 .1 0 .1 1 .1 0 .1 1 .1-2 .1-1 0 3 .1-2 .1-1 .1 1 .1 1 .1-1 .1 2 .1-1 .1 0 .1-1 .1 0 .1 0 .1 1 .1 1 .1-1 .1-1 0 1 .1-1 .1 1 .1 0 .1 1 .1-3 .1 1 .1 3 .1-2 .1 0 .1 0 .1 0 .1 0 .1-2 .1 1 .1-2 .1 2 0 0 .1 1 .1 0 .1 0 .1-2 .1 2 .1 1 .1-2 .1 1 .1-1 .1 2 .1-2 .1 0 .1 2 .1 0 .1-3 0 2 .1-1 .1 2 .1 0 .1-1 .1-1 .1 0 .1 0 .1-1 .1 3 .1 0 .1-1 .1 0 .1 1 .1-4 .1 4 0-2 .1 1 .1 0 .1 0 .1-2 .1 2 .1-1 .1 1 .1-1 .1 0 .1 0 .1 1 .1 0 .1 0 .1-1 .1 1 0 0 .1 0 .1 0 .1-1 .1 0 .1 1 .1 0 .1 1 .1-2 .1 1 .1 0 .1-1 .1 0 .1 1 .1-1 .1 2 0-2 .1 0 .1 2 .1-1 .1-2 .1 2 .1 0 .1 0 .1 0 .1 0 .1-2 .1 1 .1 1 .1-1 .1 0 .1 1 0 1 .1 0 .1-2 .1 0 .1 0 .1 1 .1-1 .1 2 .1-1 .1-1 .1 0 .1 1 .1-1 .1 1 .1 0 .1 1 0-2 .1-1 .1 2 .1-2 .1 3 .1-2 .1 2 .1-1 .1 0 .1 1 .1-2 .1 0 .1 2 .1-1 .1-1 .1-1 .1 2 0-1 .1 0 .1 0 .1 0 .1 1 .1 1 .1-2 .1 0 .1 2 .1-2 .1 1 .1 0 .1-1 .1 0 .1 2 .1-2 0 1 .1-4 .1 3 .1 0 .1 1 .1-1 .1 0 .1 0 .1 0 .1 1 .1-1 .1 0 .1 1 .1 1 .1-1 .1 1 0-2 .1 1 .1 0 .1 0 .1 1 .1-2 .1 1 .1-1 .1 2 .1-2 .1 1 .1-1 .1 1 .1-1 .1 1 .1 0 0-1 .1 2 .1-1 .1-2 .1 2 .1 0 .1-1 .1 1 .1 1 .1-2 .1 1 .1-1 .1 0 .1 0 .1 1 .1 0 0-1 .1 1 .1 0 .1-1 .1 0 .1 1 .1 0 .1 0 .1-1 .1 1 .1 0 .1 1 .1-1 .1-1 .1 0 .1 0 0 1 .1-2 .1 2 .1 0 .1-1 .1 0 .1 0 .1-1 .1 3 .1-2 .1 0 .1 1 .1 0 .1 0 .1 1 .1-2 0 0 .1 1 .1 0 .1-1 .1 2 .1-2 .1 1 .1 0 .1 0 .1-1 .1 1 .1 0 .1 1 .1-1 .1-1 .1 0 0 0 .1-1 .1 1 .1 0 .1 0 .1-1 .1 2 .1 0 .1 0 .1 0 .1-1 .1-1 .1 2 .1 0 .1 0 .1 0 .1 0 0 0 .1-1 .1 1 .1-1 .1 0 .1 0 .1 0 .1-1 .1 3 .1-1 .1-1 .1 0 .1 0 .1 0 .1 1 .1-1 0 0 .1 1 .1 0 .1 0 .1-1 .1 1 .1-1 .1-1 .1 2 .1 0 .1-1 .1 0 .1 1 .1-1 .1 1 .1-2 0 1 .1 0 .1 0 .1 1 .1 0 .1 0 .1 0 .1 0 .1 0 .1 0 .1 0 .1 0 .1-1 .1 0 .1 1 .1-1 0-1 .1 3 .1-2 .1-1 .1 2 .1-2 .1 2 .1-1 .1-1 .1 1 .1 1 .1 0 .1-2 .1 1 .1 0 .1 0 0 0 .1 1 .1-1 .1 1 .1-1 .1 0 .1 1 .1-1 .1 2 .1-1M525 503l.1 1 .1-1 .1-1 .1 1 .1-2 .1 3 .1-1 .1-1 0 0 .1-1 .1 2 .1 0 .1-1 .1 0 .1 0 .1 1 .1-2 .1 2 .1 1 .1-3 .1 1 .1-1 .1 1 .1 1 0-1 .1 1 .1-1 .1 0 .1 0 .1 1 .1-1 .1 0 .1 0 .1 2 .1-2 .1 1 .1-1 .1-1 .1 2 .1 0 0-1 .1 1 .1-1 .1 1 .1-1 .1 1 .1-1 .1-1 .1 2 .1 0 .1 0 .1 0 .1-1 .1 1 .1-1 .1 0 0 1 .1 0 .1 0 .1 0 .1 1 .1-1 .1-2 .1 1 .1 0 .1 0 .1 0 .1 0 .1 0 .1 1 .1-1 .1 1 0 0 .1 0 .1 1 .1-1 .1-2 .1 1 .1 0 .1 1 .1 1 .1-1 .1-1 .1 0 .1 0 .1 0 .1-1 .1 1 0 0 .1-1 .1 1 .1 0 .1 0 .1 1 .1 0 .1 1 .1-2 .1 0 .1 1 .1 1 .1-2 .1 1 .1 0 .1 0 0-1 .1 0 .1 1 .1 1 .1-3 .1 2 .1 1 .1-2 .1 1 .1-1 .1 1 .1-1 .1 1 .1 0 .1-1 .1 0 0 0 .1 1 .1-1 .1 1 .1-2 .1 1 .1 0 .1 1 .1-1 .1 0 .1 0 .1 1 .1-1 .1 1 .1 0 .1 1 .1-4 0 3 .1 1 .1-2 .1 0 .1 1 .1-1 .1 0 .1 1 .1-1 .1 0 .1 0 .1 0 .1 0 .1 1 .1-2 .1 2 0-1 .1 2 .1-2 .1 0 .1 2 .1-2 .1 1 .1-1 .1 1 .1 0 .1-3 .1 2 .1 0 .1 0 .1 0 .1 0 0 0 .1 0 .1 0 .1 0 .1 1 .1 0 .1-1 .1 1 .1-1 .1 0 .1 0 .1-1 .1 1 .1 1 .1-1 .1 2 0-1 .1-1 .1 0 .1 2 .1-3 .1 2 .1-1 .1 1 .1-1 .1-1 .1 1 .1 1 .1-2 .1 2 .1-1 .1-2 0 3 .1 0 .1-1 .1 0 .1 0 .1 0 .1 1 .1-3 .1 3 .1-1 .1 1 .1-2 .1 1 .1 2 .1-2 .1 1 0 0 .1-2 .1 2 .1-1 .1 2 .1-1 .1 0 .1 0 .1-1 .1 0 .1 1 .1-1 .1 0 .1-2 .1 1 .1 1 0 2 .1-1 .1-2 .1 3 .1-4 .1 2 .1 1 .1 0 .1 0 .1 0 .1-2 .1 2 .1 0 .1-1 .1 1 .1 0 0-2 .1 2 .1-2 .1 1 .1 1 .1-1 .1 0 .1 1 .1-1 .1-1 .1 0 .1 1 .1 0 .1 1 .1 0 .1 0 .1-1 0 0 .1 2 .1-1 .1-1 .1 1 .1 0 .1 0 .1-1 .1-1 .1 2 .1 0 .1-1 .1 1 .1-1 .1 2 .1-3 0 1 .1 1 .1-1 .1 1 .1 1 .1-2 .1 1 .1-1 .1 0 .1 1 .1 1 .1-1 .1-1 .1 1 .1 0 .1 0 0-1 .1 1 .1 0 .1-1 .1 0 .1 0 .1 1 .1-2 .1 0 .1 1 .1 1 .1 0 .1-1 .1 0 .1 0 .1-1 0 1 .1 1 .1 0 .1-1 .1 1 .1 0 .1 0 .1-2 .1 1 .1 1 .1-1 .1 1 .1-1 .1 1 .1-1 .1 0 0 0 .1-1 .1 2 .1 0 .1-1 .1 1 .1-2 .1 2 .1 1 .1-3 .1 1 .1-1 .1 2 .1 0 .1-2 .1 2 0-1 .1 2 .1-1 .1 0 .1 0 .1-2 .1 2 .1-3 .1 3 .1 0 .1 0 .1-1 .1 0 .1 0 .1 0 .1 0 0 0 .1 1 .1 0 .1 0 .1-1 .1 1 .1 1 .1-1 .1-1 .1 0 .1 0 .1-2 .1 3 .1-1 .1 1 .1-1 .1 0 0 1 .1 0 .1 0 .1 0 .1 0 .1 0 .1-1 .1-1 .1 1 .1 1 .1-2 .1 1 .1 1 .1 1 .1 0 .1-1 0-1 .1 1 .1-1 .1 1 .1-1 .1 1 .1-1 .1 0 .1-1 .1 1 .1 0 .1 0 .1 0 .1 0 .1 0 .1 1 0-3 .1 2 .1 0 .1 1 .1 0 .1-1 .1 1 .1 0 .1 0 .1 0 .1 1 .1-1 .1-1 .1 2 .1-1 .1-1 0 0 .1 1 .1 0 .1-1 .1 0 .1 1 .1 0 .1-1 .1 0 .1 1 .1-1 .1 0 .1 1 .1-1 .1 0 .1 0 0 0 .1 2 .1-2 .1 0 .1 1 .1-1 .1 1 .1-3 .1 2 .1 0 .1 1 .1-2 .1 0 .1 1 .1 1 .1 1 0-3 .1 3 .1-2 .1 1 .1 1 .1-1 .1-1 .1 0 .1 0 .1 0 .1 0 .1 1 .1-1 .1 1 .1 1 .1-1 0 0 .1-1 .1 1 .1 0 .1-1 .1 1 .1 0 .1 0 .1-2 .1 2 .1 0 .1 1 .1 0 .1-2 .1 1 .1 0 0 0 .1 1 .1-2 .1 1 .1 0 .1-2 .1 1 .1 1 .1-2 .1 2 .1-1 .1-1 .1 2 .1-1 .1 1 .1 1 .1-1 0 0 .1-1 .1 1 .1-1 .1 2 .1-3 .1 1 .1 1 .1 0 .1 1 .1-1 .1 1 .1-2 .1 2 .1-2 .1 2 0-1 .1 0 .1 0 .1-1 .1 0 .1 1 .1-1 .1 0 .1 1 .1 0 .1 0 .1 0 .1 0 .1-1 .1 1 .1 1 0-2 .1 2 .1-3 .1 1 .1 2 .1-2 .1 0 .1 1 .1-1 .1 2 .1-2 .1 0 .1 0 .1-1 .1 2 .1-1 0 1 .1 0 .1 0 .1 0 .1 0 .1-1 .1 1 .1 0 .1-1 .1 1 .1-2 .1 1 .1 0 .1 2 .1 0 .1 0 0-1 .1 0 .1-1 .1 1 .1-2 .1 2 .1-1 .1 0 .1 1 .1-1 .1 2 .1 0 .1-2 .1 1 .1 0 .1 0 0 0 .1 0 .1 1 .1-3 .1 2 .1-1 .1 1 .1 0 .1-1 .1 0 .1 1 .1 0 .1-1 .1 1 .1 1 .1-2 0 1 .1-1 .1-1 .1 1 .1 0 .1 1 .1 0 .1-1 .1 0 .1-1 .1 2 .1 0 .1-1 .1 0 .1 1 .1 0 0-2 .1 0 .1 2 .1 0 .1-1 .1-1 .1 2 .1-1 .1 1 .1-1 .1 1 .1 0 .1 0 .1-1 .1 0 .1 1 .1 0 0-1 .1 1 .1-2 .1 2 .1-1 .1 1 .1-1 .1 0 .1 0 .1 2 .1 0 .1-2 .1 1 .1-1 .1-1 .1 0 0 1 .1 1 .1 0 .1-1 .1 0 .1 1 .1-1 .1-1 .1 3 .1-2 .1 0 .1 0 .1 0 .1 0 .1 1 .1 0 0 0 .1-2 .1 1 .1-1 .1 2 .1-1 .1 1 .1 0 .1 1 .1-2 .1 0 .1 0 .1 1 .1-1 .1 1 .1-1 0 0 .1-1 .1 1 .1 0 .1 1 .1-1 .1-1 .1 1 .1-1 .1 1 .1 0 .1 2 .1-1 .1 0 .1-2 .1 3 0-2 .1 0 .1 1 .1-2 .1 1 .1 1 .1 0 .1 0 .1 0 .1 0 .1-4 .1 3 .1 0 .1 1 .1 0 .1 0 0 1 .1-3 .1 1 .1 1 .1 0 .1-1 .1-1 .1 1 .1 1 .1 0 .1-2 .1 2 .1 0 .1 0 .1-1 .1 1 0 0 .1-1 .1 0 .1-1 .1 2 .1-1 .1 1 .1-2 .1 1 .1 1 .1-1 .1 0 .1 0 .1 1 .1 0 .1 0 0 0 .1-1 .1 1 .1 0 .1-1 .1 0 .1 1 .1 0 .1 1 .1-1 .1-1 .1 1 .1-1 .1 1 .1-1 .1 1 .1-1 0 0 .1 1 .1 0 .1 0 .1-1 .1 2 .1-2 .1 0 .1-1 .1 0 .1 2 .1-1 .1 1 .1-2 .1 2 .1 1 0 0 .1-2 .1 1 .1 0 .1-1 .1 0 .1 1 .1 1 .1-1 .1-1 .1 1 .1-2 .1 2 .1-1 .1 1 .1-1 0 1 .1-1 .1 1 .1 0 .1-2 .1 1 .1 1 .1 0 .1 0 .1 0 .1-1 .1 0 .1 1 .1-4 .1 3 .1 1 0 0 .1-1 .1 0 .1 0 .1 0 .1-1 .1 3 .1-2 .1-1 .1 2 .1-1 .1 0 .1 0 .1 1 .1-2 .1 2 0 1 .1-2 .1 1 .1-1 .1 0 .1 0 .1 0 .1 2 .1 0 .1-1 .1-1 .1 1 .1-1 .1 1 .1 0 .1 0 0-1 .1 0 .1 0 .1 1 .1-1 .1 1 .1 0 .1 0 .1-1 .1 0 .1-1 .1 3 .1-1 .1 1 .1-2 .1 2 0-2 .1-1 .1 2 .1 0 .1-1 .1 1 .1-1 .1 0 .1-1 .1-3 .1 5 .1-2 .1 1 .1 1 .1 0 .1-1 .1 1 0-1 .1-1 .1 1 .1 1 .1 0 .1-1 .1-1 .1 2 .1 0 .1-2 .1 1 .1 0 .1 0 .1-1 .1 1 .1 1 0 0 .1-1 .1 0 .1 0 .1 1 .1-1 .1 0 .1 1 .1 0 .1-1 .1 1 .1-1 .1 1 .1 0 .1-1 .1-1 0 1 .1 1 .1-1 .1 2 .1 0 .1-2 .1 0 .1-1 .1 1 .1 0 .1 0 .1 0 .1 1 .1 0 .1-2 .1 1 0 1 .1-1 .1 0 .1 1 .1 0 .1 0 .1 0 .1-1 .1 0 .1 0 .1 0 .1 0 .1 0 .1 1 .1 1 .1-1 0 0 .1-1 .1 0 .1-1 .1 0 .1 2 .1-1 .1 1 .1 0 .1 0 .1 0 .1 1 .1-2 .1 2 .1-1 .1-1 0 1 .1-1 .1 1 .1 0 .1 0 .1 0 .1-1 .1 1 .1-2 .1 2 .1 0 .1-1 .1 0 .1 0 .1 0 .1 0 0 1 .1 0 .1 0 .1-1 .1 0 .1 2 .1-2 .1-1 .1 2 .1 0 .1 1 .1-1 .1 0 .1-1 .1 0 .1 0 0 0 .1 0 .1 1 .1 0 .1 0 .1 1 .1 0 .1-2 .1 1 .1 1 .1-1 .1-5 .1 5 .1-1 .1 0 .1 0 .1 0 0 0 .1 0 .1 0 .1 0 .1 0 .1 1 .1 0 .1-1 .1 1 .1-1 .1 1 .1 0 .1-2 .1 1 .1-2 .1 3 0-1 .1 0 .1 2 .1-2 .1 0 .1 0 .1 0 .1 1 .1-1 .1 2 .1-2 .1 2 .1-2 .1 0 .1-1 .1 1 0 1 .1 0 .1 0 .1 1 .1-1 .1 0 .1-2 .1 3 .1 0 .1-1 .1-2 .1 1 .1 1 .1-1 .1 0 .1 0 0 1 .1 0 .1-1 .1 0 .1 1 .1-1 .1 1 .1-2 .1 0 .1 1 .1 0 .1 0 .1 0 .1 0 .1 2 .1-2 0 0 .1 0 .1 0 .1 2 .1-2 .1 1 .1-1 .1 1 .1 1 .1-2 .1 2 .1-2 .1-1 .1 2 .1-1 .1 0 0 0 .1 2 .1 0 .1-2 .1 0 .1 1 .1-1 .1 0 .1 1 .1-4 .1 3 .1 0 .1 0 .1-1 .1 1 .1 0 0 0 .1 0 .1 0 .1 0 .1-2 .1 2 .1 1 .1 1 .1-1 .1 0 .1 0 .1 1 .1-2 .1 1 .1 0 .1-1 0 0 .1 0 .1 0 .1 1 .1-1 .1 1 .1-1 .1 1 .1 0 .1-1 .1 2 .1-1 .1 0 .1 0 .1-1 .1 0 .1 0 0 0 .1-1 .1 1 .1 1 .1-1 .1 0 .1 0 .1 2 .1-1 .1 0 .1 0 .1 1 .1-2 .1 0 .1 0 .1 0 0 0 .1 1 .1-1 .1 0 .1 1 .1 0 .1 0 .1 0 .1-1 .1-1 .1 2 .1-1 .1 1 .1-1 .1 2 .1-2 0 0 .1 0 .1 1 .1 0 .1-1 .1 1 .1 0 .1-2 .1 1 .1 0 .1-1 .1 1 .1 0 .1-1 .1 1 .1 0 0 1 .1-3 .1 4 .1 0 .1-1 .1-1 .1 0 .1-1 .1 1 .1 1 .1-1 .1 2 .1-1 .1 0 .1 0 .1-1 0 0 .1 1 .1 0 .1 0 .1-2 .1 3 .1-2 .1-1 .1 2 .1-1 .1 1 .1 0 .1-2 .1 0 .1 1 .1 0 0-1 .1 1 .1 1 .1 0 .1-1 .1 1 .1-1 .1 1 .1-2 .1 0 .1 3 .1-2 .1-1 .1 2 .1 0 .1-1 0 2 .1-1 .1-2 .1 2 .1-1 .1 1 .1 1 .1-3 .1 2 .1-1 .1 1 .1 0 .1 1 .1-1 .1 0 .1-1 0 1 .1-1 .1 1 .1 0 .1-1 .1 1 .1 0 .1 0 .1 1 .1-1 .1-2 .1 1 .1 1 .1-1 .1 0 .1 0 .1 0 0 0 .1-1 .1 1 .1 0 .1 2 .1-1 .1-1 .1 0 .1 1 .1-1 .1 0 .1 0 .1 1 .1-2 .1 1 .1 0 0 1 .1 0 .1-1 .1 1 .1 0 .1 0 .1 0 .1 0 .1 0 .1-2 .1 1 .1 0 .1 0 .1 1 .1 0 .1 0 0-1 .1 0 .1 1 .1 0 .1 0 .1-1 .1-1 .1 1 .1 1 .1-1 .1 0 .1 1 .1 0 .1-2 .1 3 .1-1 0 1 .1-1 .1 0 .1 0 .1-1 .1 2 .1-2 .1 0 .1 0 .1 1 .1-2 .1 0 .1 1 .1 0 .1 0 .1-1 0 1 .1 0 .1 0 .1-1 .1 2 .1-1 .1-1 .1 2 .1 0 .1 0 .1-2 .1 1 .1 0 .1 0 .1 1 .1-1 0 0 .1 0 .1 1 .1 0 .1 0 .1-2 .1 1 .1 1 .1-1 .1 2 .1-2 .1 0 .1 1 .1-1 .1 1 .1 0 0-1 .1 1 .1-1 .1 2 .1-2 .1 0 .1 1 .1-1 .1 1 .1-1 .1 2 .1-1 .1-1 .1 0 .1 0 .1 0 .1-1 0 2 .1-1 .1 2 .1-1 .1 0 .1-1 .1 0 .1-1 .1 1 .1 2 .1 0 .1-2 .1 1 .1-2 .1 2 .1-1 0 0 .1 0 .1 1 .1-1 .1-3 .1 4 .1 1 .1 0 .1 0 .1-2 .1 0 .1-1 .1 2 .1-1 .1 1 .1 0 0 0 .1 0 .1 0 .1-1 .1 0 .1 2 .1-1 .1 0 .1-1 .1 0 .1 2 .1-1 .1-1 .1 1 .1 0 .1-1 0 0 .1 0 .1 0 .1 1 .1 0 .1 0 .1 0 .1 0 .1 0 .1 1 .1-2 .1 0 .1 0 .1 0 .1 0 .1 1 0 0 .1-1 .1-1 .1 1 .1 1 .1-2 .1 1 .1 1 .1 1 .1-2 .1 1 .1-2 .1 1 .1 1 .1-1 .1 1 0-1 .1 1 .1 0 .1 0 .1 0 .1-1 .1 1 .1 0 .1 0 .1-1 .1 1 .1 0 .1-1 .1-1 .1 1 .1 1 0-2 .1 0 .1 2 .1 1 .1-2 .1-1 .1 1 .1 0 .1 1 .1 0 .1 0 .1 0 .1-1 .1 0 .1 2 .1-1 0 0 .1 0 .1-1 .1 0 .1 1 .1 0 .1 0 .1 0 .1-1 .1 0 .1 0 .1 0 .1 0 .1 1 .1-2 .1 1 .1 1 0-1 .1 1 .1 0 .1 0 .1 0 .1-1 .1 1 .1-1 .1 0 .1-1 .1 2 .1-3 .1-1 .1 4 .1-1 .1 0 0 0 .1-1 .1 1 .1 0 .1 0 .1 1 .1 0 .1 1 .1-1 .1-1 .1 1 .1 0 .1 0 .1-2 .1 1 .1 0 0-1 .1 1 .1 1 .1 1 .1-1 .1 0 .1-2 .1 1 .1 1 .1-1 .1 0 .1 1 .1 0 .1 0 .1-2 .1 2 0 0 .1 0 .1-1 .1 0 .1 1 .1 1 .1-2 .1 1 .1 0 .1-1 .1 1 .1 0 .1-1 .1 0 .1 1 .1-1 0 0 .1 1 .1-1 .1 0 .1 0 .1 0 .1 0 .1 1 .1 0 .1-1 .1 1 .1 0 .1-3 .1 4 .1-1 .1 0 0 0 .1-2 .1 2 .1-3 .1 3 .1-1 .1 0 .1 1 .1-2 .1-2 .1 5 .1-2 .1 0 .1 1 .1-1 .1 2 0-2 .1 0 .1 1 .1 0 .1-1 .1 0 .1 1 .1 1 .1-2 .1 1 .1 0 .1 1 .1-1 .1 0 .1-5 .1 6 0-2 .1 2 .1-2 .1 2 .1-2 .1 1 .1-1 .1 0 .1 1 .1 0 .1-2 .1 1 .1 1 .1-2 .1 2 .1 1 .1-2 0 0 .1 0 .1 1 .1-1 .1 0 .1 1 .1-2 .1 2 .1 0 .1 0 .1 1 .1-3 .1 1 .1 1 .1-1 .1 1 0 0 .1 0 .1-1 .1 0 .1 1 .1 0 .1 0 .1 0 .1-1 .1 1 .1 0 .1 0 .1-1 .1 1 .1-1 .1 0 0 0 .1 1 .1-1 .1 1 .1-1 .1 1 .1 0 .1-1 .1-1 .1 1 .1 0 .1 0 .1 1 .1-1 .1-3 .1 4 0-1 .1 0 .1 1 .1-1 .1 1 .1 0 .1-2 .1 3 .1-2 .1-1 .1 1 .1 1 .1-1 .1 1 .1-1 .1 0 0 1 .1 0 .1-1 .1 0 .1 2 .1-1 .1-1 .1 0 .1 1 .1-1 .1 0 .1 0 .1 0 .1-1 .1 1 .1 1 0-1 .1 1 .1 0 .1-1 .1 0 .1 1 .1 0 .1-1 .1 1 .1 0 .1-1 .1 2 .1-1 .1 0 .1-1 .1 1 0 0 .1 0 .1-1 .1 0 .1 0 .1 0 .1 2 .1-2 .1 0 .1 1 .1-1 .1 1 .1-1 .1 1 .1-1 .1-1 0 1 .1-1 .1 2 .1 0 .1 0 .1-1 .1 0 .1 1 .1 1 .1-2 .1-2 .1 3 .1-1 .1 1 .1 0 .1 0 .1-2 0 1 .1 1 .1 1 .1-2 .1 1 .1 0 .1 0 .1 0 .1-1 .1-1 .1 2 .1-1 .1 1 .1-2 .1 1 .1 0 0 1 .1-1 .1 0 .1 1 .1 0 .1-1 .1 0 .1-2 .1 2 .1 0 .1 0 .1 1 .1 0 .1 0 .1 0 .1-2 0 2 .1-1 .1 2 .1-2 .1 1 .1 0 .1 0 .1-1 .1 1 .1-1 .1 0 .1 0 .1-1 .1 3 .1-1 .1-1 0 0 .1 0 .1 0 .1 1 .1-3 .1 3 .1-1 .1 1 .1-2 .1 2 .1-1 .1 1 .1-1 .1 0 .1-1 .1 0 0 2 .1-1 .1 1 .1-1 .1 1 .1-1 .1 0 .1 1 .1-1 .1 0 .1 0 .1 2 .1-1 .1 0 .1 0 .1 0 0 0 .1-1 .1 1 .1 0 .1-1 .1 0 .1-1 .1 2 .1-1 .1 1 .1-1 .1 0 .1 1 .1-1 .1 1 .1 0 0 0 .1-1 .1 0 .1 0 .1 2 .1 0 .1-3 .1 1 .1 1 .1-2 .1 3 .1-3 .1 2 .1 1 .1-1 .1 0 .1 0 0-1 .1 1 .1-1 .1 2 .1-1 .1 0 .1-1 .1 1 .1 0 .1-1 .1 0 .1 1 .1 0 .1-1 .1 0 .1 1 0 0 .1 0 .1-1 .1 1 .1 1 .1-1 .1-2 .1 2 .1 0 .1-2 .1 1 .1 1 .1 0 .1-1 .1 0 .1 1 0 1 .1-2 .1 1 .1 0 .1 0 .1-1 .1-2 .1 2 .1-1 .1 2 .1 0 .1 1 .1 0 .1-2 .1 0 .1 1 0-1 .1 0 .1 1 .1-1 .1 0 .1-1 .1-2 .1 3 .1 0 .1 0 .1 0 .1-1 .1 2 .1 0 .1 0 .1-1 0 0 .1 1 .1 0 .1-2 .1 1 .1 0 .1 2 .1-2 .1-1 .1 2 .1-1 .1 1 .1 1 .1-1 .1-1 .1 1 0-1 .1 1 .1-2 .1 1 .1 0 .1 0 .1 1 .1-1 .1 0 .1 1 .1-2 .1 0 .1-2 .1 4 .1 0 .1-1 0-1 .1 1 .1 2 .1-2 .1 0 .1 0 .1 0 .1-1 .1 2 .1 0 .1-1 .1 0 .1 1 .1 1 .1-1 .1-2 0 3 .1-2 .1 1 .1 0 .1 0 .1 0 .1 0 .1-1 .1-2 .1 3 .1-1 .1 1 .1-1 .1 0 .1 1 .1-1 .1 1 0 0 .1 1 .1-2 .1-1 .1 1 .1 0 .1 1 .1-1 .1-1 .1 1 .1 1 .1 0 .1 0 .1 0 .1-1 .1 0 0 1 .1-1 .1-1 .1 1 .1 1 .1-1 .1 1 .1-2 .1 2 .1-1 .1 0 .1-1 .1 0 .1 1 .1-1 .1 1 0 1 .1 0 .1-1 .1 1 .1-1 .1-1 .1 1 .1 2 .1-2 .1 1 .1 0 .1 0 .1 0 .1-1 .1 0 .1 0 0 0 .1-1 .1 1 .1 1 .1 0 .1-1 .1 1 .1 0 .1 0 .1 0 .1-1 .1 2 .1-1 .1-1 .1 0 .1 1 0 0 .1 1 .1-2 .1 1 .1-2 .1 1 .1 0 .1 1 .1 0 .1 0 .1 0 .1 0 .1-1 .1 0 .1 1 .1 0 0-1 .1 2 .1-3 .1 1 .1 0 .1 2 .1 0 .1-1 .1-1 .1 0 .1 0 .1 1 .1-1 .1 0 .1 0 .1-1 0 1 .1 0 .1 0 .1-1 .1 1 .1 0 .1-1 .1 2 .1 0 .1-1 .1 0 .1-3 .1 4 .1 0 .1-2 .1 3 0 0 .1-1 .1-3 .1 3 .1-1 .1-3 .1 3 .1 0 .1 0 .1-1 .1 1 .1 0 .1 1 .1-2 .1 2 .1-1 .1 2 0-2 .1 0 .1-2 .1 3 .1-1 .1 0 .1 1 .1-1 .1 1 .1 0 .1-1 .1 1 .1 0 .1-1 .1 0 .1 1 0-1 .1-1 .1 2 .1-1 .1 1 .1-1 .1-1 .1-2 .1 3 .1-1 .1 1 .1 1 .1-1 .1 0 .1 1 .1-1 0 0 .1 0 .1 1 .1-3 .1 2 .1 1 .1-1 .1 1 .1-1 .1 1 .1-1 .1-1 .1 2 .1 1 .1-3 .1 2 0 0 .1-1 .1-1 .1 1 .1 1 .1 0 .1-1 .1-1 .1 2 .1-1 .1 0 .1 0 .1-1 .1 0 .1-1 .1 2 0 0 .1 0 .1 0 .1 0 .1 0 .1 1 .1-1 .1 1 .1-1 .1 0 .1 0 .1 0 .1 1 .1 0 .1 0 .1-1 0 0 .1 1 .1-1 .1 1 .1-1 .1-1 .1 1 .1 1 .1-1 .1 0 .1-1 .1 3 .1-2 .1-2 .1 2 .1 1 0-2 .1 0 .1 1 .1 1 .1-2 .1 1 .1 0 .1 0 .1-1 .1 0 .1 1 .1 1 .1 0 .1-1 .1 0 .1-1 0 1 .1 1 .1-1 .1 2 .1-1 .1 0 .1-2 .1 1 .1 0 .1 0 .1-1 .1 2 .1-1 .1-1 .1 1 .1 1 .1 0 0 0 .1-1 .1 0 .1 0 .1 1 .1-1 .1 0 .1-1 .1 1 .1 0 .1 2 .1-2 .1 0 .1-1 .1 0 .1 1 0 1 .1 1 .1-2 .1 1 .1-1 .1 0 .1 1 .1-1 .1 0 .1 1 .1-2 .1 2 .1-1 .1 0 .1-1 .1 2 0-1 .1-1 .1 2 .1-1 .1 0 .1 0 .1 1 .1-3 .1 2 .1 1 .1-1 .1 0 .1 0 .1 1 .1 0 .1-2 0 1 .1 0 .1 0 .1 0 .1 0 .1 0 .1 0 .1 0 .1 0 .1 0 .1-2 .1 2 .1 0 .1-1 .1-1 .1 2 0-1 .1 1 .1 1 .1-1 .1 0 .1 1 .1 0 .1-2 .1-1 .1 3 .1-1 .1-1 .1 1 .1 0 .1 0 .1 0 0-1 .1 1 .1 0 .1 1 .1-1 .1 1 .1-1 .1 0 .1 1 .1 0 .1 0 .1 0 .1-1 .1 0 .1-1 .1 3 0-2 .1-1 .1 1 .1 1 .1 0 .1 0 .1 0 .1 0 .1-2 .1 1 .1-3 .1 3 .1-1 .1 1 .1 1 .1-2 .1 1 0 0 .1-1 .1 1 .1 1 .1 0 .1 0 .1-2 .1 2 .1-1 .1 1 .1-1 .1 0 .1 0 .1 0 .1 0 .1 1 0-2 .1 1 .1 0 .1-1 .1 1 .1 1 .1-1 .1 1 .1 0 .1 0 .1-1 .1 1 .1-1 .1 0 .1 1 .1-1 0 0 .1 0 .1 1 .1 0 .1-2 .1 1 .1 0 .1 0 .1-1 .1 1 .1 0 .1 1 .1-1 .1 1 .1-1 .1 1 0-2 .1 1 .1-1 .1 1 .1 1 .1-1 .1-1 .1 2 .1-1 .1-2 .1 2 .1 1 .1-1 .1 0 .1 2 .1-1 0 0 .1 0 .1-2 .1 3 .1-2 .1 1 .1 1 .1-1 .1 0 .1-1 .1 0 .1-1 .1 3 .1-2 .1-1 .1 1 0 1 .1 0 .1-1 .1 0 .1 1 .1 0 .1 0 .1 0 .1 0 .1-2 .1 2 .1-2 .1 1 .1-1 .1 1 .1 1 0-1 .1-1 .1 1 .1 1 .1 0 .1-2 .1 2 .1 0 .1-2 .1 0 .1 1 .1 0 .1 1 .1-1 .1-1 .1 2 0 0 .1-1 .1 0 .1 1 .1 0 .1-2 .1 0 .1 2 .1-1 .1 1 .1-1 .1 0 .1-1 .1 1 .1 1 .1-1 .1-1 0 1 .1 0 .1-2 .1 3 .1-2 .1 1 .1 0 .1 1 .1-1 .1 1 .1-1 .1-1 .1 0 .1 0 .1 1 .1 0 0 0 .1 0 .1-2 .1 2 .1 0 .1 0 .1 0 .1-1 .1 2 .1-2 .1 1 .1 0 .1 1 .1-1 .1 1 .1-1 0 0 .1-1 .1 1 .1 1 .1-1 .1 0 .1 0 .1 0 .1-1 .1 1 .1-1 .1-1 .1 2 .1 0 .1 0 .1-1 0 2 .1 0 .1-1 .1 0 .1-1 .1 2 .1-1 .1 1 .1-1 .1 1 .1-1 .1-1 .1 0 .1 1 .1 1 .1-1 0 1 .1-2 .1 1 .1 0 .1 1 .1 1 .1-1 .1 1 .1-2 .1 0 .1 1 .1-2 .1 1 .1-1 .1 2 .1 1 0-1 .1-1 .1-1 .1 1 .1 0 .1-1 .1 2 .1 0 .1-1 .1-1 .1 1 .1 0 .1 1 .1 1 .1-5 .1 3 0-2 .1 1 .1 2 .1 0 .1 0 .1-1 .1 0 .1-1 .1 2 .1-1 .1 0 .1 0 .1 2 .1-1 .1 0 .1-2 0 1 .1 0 .1-1 .1 2 .1-1 .1 0 .1-2 .1 3 .1-2 .1 1 .1 1 .1 0 .1-1 .1 0 .1-1 .1 0 .1 1 0-1 .1 1 .1 0 .1-1 .1 1 .1 0 .1 0 .1 0 .1 1 .1-1 .1 1 .1-1 .1 0 .1-1 .1 2 .1-2 0 0 .1 0 .1 0 .1 1 .1 0 .1 0 .1 0 .1-1 .1 0 .1 1 .1 1 .1-1 .1-1 .1 1 .1-1 .1 1 0-1 .1 1 .1 0 .1 0 .1 0 .1 0 .1-1 .1 2 .1-1 .1 1 .1-1 .1-1 .1-1 .1 1 .1 1 .1 0 0 0 .1 0 .1 0 .1-1 .1 1 .1-1 .1 1 .1 0 .1-1 .1 0 .1 0 .1 2 .1 0 .1-1 .1 1 .1-1 0-2 .1 2 .1-1 .1 1 .1-2 .1 2 .1 1 .1-1 .1 1 .1-2 .1 1 .1 0 .1-1 .1 0 .1 1 .1 0 0 0 .1 0 .1-1 .1 0 .1 0 .1 1 .1 0 .1 0 .1 1 .1 0 .1 0 .1 0 .1 0 .1-1 .1-1 .1 1 0 0 .1 0 .1-1 .1 0 .1 0 .1 2 .1-1 .1 0 .1-1 .1 1 .1 0 .1-1 .1-1 .1 2 .1-1 .1 1 0-1 .1 2 .1-1 .1 0 .1 0 .1 0 .1 0 .1-1 .1 1 .1 0 .1 0 .1 0 .1 0 .1-1 .1 1 .1 1 .1-2 0 1 .1 0 .1 0 .1 0 .1-1 .1 1 .1-1 .1 1 .1 0 .1-1 .1 1 .1 0 .1 0 .1 0 .1-1 .1-1 0 1 .1 1 .1 1 .1-1 .1 0 .1 0 .1-3 .1 3 .1 0 .1 1 .1-2 .1 2 .1-1 .1-1 .1 0 .1 1 0 0 .1 0 .1 0 .1-2 .1 1 .1 0 .1 2 .1-1 .1-1 .1-1 .1 2 .1-2 .1 0 .1 3 .1-1 .1-1 0 0 .1 1 .1 0 .1-1 .1 1 .1-1 .1 0 .1 1 .1 0 .1 0 .1-1 .1 2 .1-1 .1 0 .1-1 .1 1 0-1 .1 2 .1-1 .1-1 .1 0 .1 0 .1 0 .1 1 .1 1 .1-2 .1 1 .1-3 .1 2 .1 0 .1 1 .1 0 0-1 .1 0 .1 1 .1-1 .1 1 .1 1 .1-1 .1 1 .1-1 .1 0 .1 0 .1 0 .1 1 .1 0 .1-2 .1 1 0 0 .1 0 .1 0 .1 1 .1-3 .1 2 .1 1 .1-2 .1 0 .1 1 .1-1 .1 1 .1 2 .1-1 .1-3 .1 1 .1 1 0-1 .1 0 .1 1 .1 0 .1 0 .1 1 .1-1 .1-1 .1 1 .1-1 .1-1 .1 0 .1 2 .1 0 .1 0 .1-1 0 0 .1 1 .1 0 .1 1 .1-1 .1-1 .1 1 .1-1 .1-1 .1 1 .1 1 .1 1 .1-2 .1 1 .1 0 .1 1 0-1 .1 0 .1-1 .1 2 .1-2 .1 1 .1 0 .1-1 .1 2 .1-1 .1 0 .1 0 .1-1 .1 2 .1-1 .1-1 0 1 .1 0 .1 0 .1 0 .1-1 .1 2 .1-1 .1-1 .1 2 .1-1 .1 1 .1-1 .1-2 .1 3 .1-2 .1 0 0 1 .1 1 .1-1 .1 1 .1-2 .1 1 .1-1 .1 0 .1 1 .1-1 .1 0 .1 2 .1-1 .1 0 .1-1 .1 1 0-2 .1 2 .1 0 .1 0 .1 1 .1-1 .1-1 .1 1 .1 0 .1-1 .1 0 .1 1 .1 0 .1 0 .1-1 .1 1 0 0 .1-1 .1 1 .1 1 .1-2 .1 0 .1 1 .1-2 .1 0 .1 3 .1 0 .1-1 .1-2 .1 2 .1 0 .1-1 0-1 .1-1 .1 3 .1 0 .1 0 .1 0 .1 0 .1 1 .1-1 .1-1 .1 0 .1 1 .1-2 .1 0 .1 3 .1-3 .1 3 0-1 .1 0 .1 0 .1 0 .1 0 .1 0 .1-1 .1 0 .1 1 .1-2 .1 2 .1 1 .1-1 .1 0 .1 0 .1 0 0-1 .1 0 .1-1 .1 1 .1 1 .1 1 .1-1 .1-1 .1 0 .1 1 .1 1 .1-1 .1 0 .1 1 .1-2 .1 1 0-1 .1 0 .1-1 .1 1 .1 0 .1 1 .1-1 .1 1 .1-1 .1 1 .1-1 .1 1 .1 1 .1-2 .1 1 .1 1 0-2 .1 0 .1 1 .1 0 .1 0 .1-1 .1 2 .1-2 .1 2 .1-1 .1-1 .1 0 .1 2 .1-1 .1 0 .1 1 0-1 .1 0 .1 0 .1 1 .1-1 .1 0 .1-1 .1 0 .1 1 .1-2 .1 2 .1-1 .1-1 .1 1 .1 1 .1-1 0 1 .1 0 .1 0 .1 0 .1-1 .1 1 .1 0 .1-2 .1 2 .1 1 .1-2 .1-1 .1 2 .1 0 .1 1 .1-3 0 2 .1 0 .1-1 .1 1 .1-1 .1 1 .1 0 .1 0 .1 0 .1-1 .1 1 .1-2 .1 1 .1-1 .1 2 .1-1 0 0 .1 1 .1-1 .1 2 .1-2 .1 0 .1 1 .1 0 .1 0 .1 1 .1-1 .1-4 .1 3 .1 0 .1 0 .1 1 .1 0 0 0 .1 0 .1-1 .1 0 .1 1 .1-1 .1 1 .1 0 .1 0 .1 0 .1-2 .1 2 .1-2 .1 3 .1-1 .1-1 0 1 .1-1 .1 1 .1 0 .1 0 .1-1 .1 0 .1 0 .1 1 .1 0 .1-1 .1 0 .1 1 .1 1 .1-3 .1 2 0 0 .1 1 .1-2 .1 1 .1-2 .1 1 .1-1 .1 2 .1-1 .1-1 .1 3 .1-2 .1 1 .1 0 .1 0 .1 0 0-1 .1 0 .1 2 .1 0 .1-3 .1 1 .1 0 .1 0 .1 1 .1-1 .1 2 .1-2 .1 2 .1-1 .1 0 .1-1 0 0 .1 0 .1-1 .1 2 .1 0 .1-1 .1 1 .1-1 .1 1 .1 1 .1-1 .1 1 .1-1 .1-1 .1 0 .1 1 0-1 .1-1 .1 1 .1 2 .1-2 .1 0 .1 1 .1 0 .1 0 .1-1 .1-1 .1 1 .1 0 .1 1 .1-1 .1 0 0 1 .1-1 .1 1 .1 0 .1 1 .1-1 .1 1 .1-2 .1 1 .1-1 .1 0 .1 0 .1-1 .1 1 .1-2 .1 2 0 0 .1 1 .1-1 .1 1 .1 0 .1-1 .1 0 .1-1 .1 1 .1 1 .1 0 .1-4 .1 3 .1 0 .1 0 .1-1 .1 2 0-1 .1 0 .1 0 .1 1 .1-1 .1 1 .1-2 .1 1 .1 1 .1 0 .1-1 .1 1 .1-1 .1 0 .1 1 .1-1 0 1 .1-1 .1 0 .1 1 .1 0 .1-2 .1 0 .1 1 .1-1 .1 1 .1 0 .1 1 .1 0 .1 0 .1-1 .1 1 0-1 .1 1 .1 1 .1 0 .1-1 .1-1 .1 0 .1 1 .1-1 .1 0 .1 1 .1 0 .1-1 .1 1 .1-2 .1 2 0-1 .1 1 .1-2 .1 2 .1-1 .1 0 .1-1 .1 0 .1 1 .1 0 .1-1 .1 2 .1-1 .1 2 .1 0 .1-1 0-1 .1 2 .1-1 .1-1 .1 1 .1 0 .1-2 .1 0 .1 1 .1 1 .1 0 .1 0 .1 0 .1-1 .1 1 .1-1 0 1 .1 0 .1 0 .1-1 .1 1 .1 0 .1-1 .1 1 .1-2 .1 1 .1 1 .1 0 .1 0 .1-1 .1 0 .1 1 0-1 .1 0 .1 1 .1 0 .1-1 .1-1 .1 2 .1 1 .1-2 .1 1 .1-1 .1 2 .1-1 .1-1 .1 1 .1 0 .1 0 0-2 .1 2 .1 1 .1-2 .1 1 .1 0 .1 0 .1 1 .1-2 .1 0 .1 0 .1 0 .1 0 .1 1 .1 0 .1-1 0 1 .1-1 .1 1 .1-1 .1-1 .1 1 .1 0 .1 1 .1 0 .1 1 .1-2 .1 1 .1 0 .1-4 .1 3 .1-1 0 2 .1 0 .1-2 .1 2 .1-2 .1 0 .1 1 .1 0 .1 0 .1-1 .1 2 .1 0 .1 0 .1-1 .1 1 .1-1 0 0 .1 0 .1-1 .1 1 .1 0 .1-1 .1 2 .1-1 .1 1 .1-1 .1-1 .1 1 .1 1 .1-1 .1-1 .1 3 0-2 .1-1 .1 3 .1-2 .1 1 .1-1 .1 2 .1-1 .1 0 .1-1 .1 2 .1-1 .1 0 .1 1 .1-3 .1 1 0 0 .1 0 .1-1 .1 1 .1 0 .1 0 .1 0 .1 1 .1 0 .1-1 .1 0 .1 1 .1 0 .1-1 .1 2 .1-3 0 2 .1-1 .1-1 .1 1 .1 1 .1 0 .1-3 .1 3 .1 0 .1-1 .1 1 .1-2 .1 1 .1 0 .1 1 .1 0 0 0 .1 1 .1-1 .1-1 .1 1 .1-1 .1 1 .1-1 .1 1 .1-1 .1 1 .1 0 .1 0 .1 0 .1-1 .1 0 .1 0 0 0 .1 2 .1-2 .1 1 .1-1 .1 1 .1 0 .1-2 .1 3 .1-1 .1-1 .1 1 .1-1 .1 0 .1 1 .1 0 0-4 .1 3 .1 1 .1 1 .1-2 .1 1 .1-1 .1 1 .1 1 .1-1 .1-1 .1 0 .1 0 .1 0 .1 0 .1 0 0 0 .1-1 .1 1 .1 0 .1-1 .1 2 .1-2 .1 1 .1-2 .1 2 .1 0 .1 0 .1 0 .1 0 .1 0 .1 0 0 0 .1 1 .1 0 .1 0 .1-1 .1 1 .1-1 .1 1 .1-1 .1 1 .1-1 .1-3 .1 3 .1 0 .1 0 .1 0 0-1 .1 1 .1 1 .1-1 .1 0 .1-1 .1 1 .1 0 .1 1 .1-1 .1 0 .1 0 .1 1 .1-1 .1 0 .1-1 0 2 .1 0 .1-1 .1 2 .1-1 .1-2 .1 1 .1 0 .1 0 .1 1 .1 0 .1-1 .1 1 .1-1 .1 1 .1-1 0 1 .1-4 .1 3 .1 0 .1-1 .1 2 .1 0 .1-1 .1 1 .1-1 .1-1 .1 2 .1 0 .1 0 .1 0 .1-3 0 3 .1-1 .1 1 .1-2 .1 1 .1 0 .1 0 .1-1 .1 1 .1 1 .1-1 .1 1 .1 0 .1 0 .1 0 .1-2 .1 2 0-1 .1 0 .1 0 .1 2 .1-2 .1 0 .1 1 .1-1 .1 0 .1 1 .1 0 .1-1 .1 1 .1 0 .1-2 .1 0 0 1 .1 0 .1 1 .1 0 .1-1 .1 0 .1 1 .1-1 .1 0 .1-2 .1 1 .1 1 .1 0 .1 1 .1 0 .1 0 0 0 .1-1 .1 0 .1 1 .1-1 .1 1 .1 0 .1-1 .1 2 .1-1 .1 0 .1 0 .1-1 .1 0 .1 0 .1-1 0 2 .1-1 .1 1 .1-1 .1-1 .1 1 .1 0 .1 1 .1 0 .1 0 .1-2 .1 2 .1 0 .1-1 .1 1 .1-1 0 0 .1 0 .1-1 .1 0 .1 0 .1 1 .1 1 .1-1 .1-1 .1 0 .1 1 .1 1 .1 1 .1-1 .1-1 .1-1 0 1 .1 1 .1-2 .1 2 .1 0 .1-1 .1 0 .1-1 .1 2 .1-1 .1-1 .1 2 .1 0 .1-4 .1 4 .1-2 0 1 .1-1 .1 2 .1 0 .1-1 .1 0 .1 0 .1 2 .1-1 .1-2 .1 0 .1 1 .1 0 .1 0 .1 0 .1-1 0 0 .1 2 .1-1 .1 0 .1 0 .1 1 .1-1 .1 1 .1 1 .1-2 .1 1 .1 1 .1-1 .1 0 .1-1 .1 0 .1 1 0-1 .1 0 .1 0 .1-1 .1 1 .1-2 .1 2 .1-1 .1 2 .1-2 .1 2 .1-1 .1 1 .1 0 .1 0 .1 0 0-1 .1 0 .1 1 .1 0 .1-1 .1 0 .1-1 .1-1 .1 4 .1-1 .1-1 .1 0 .1-1 .1 1 .1 1 .1 0 0-1 .1 0 .1 0 .1 0 .1 0 .1 0 .1 0 .1 1 .1-1 .1-1 .1 0 .1 1 .1 0 .1 1 .1-1 .1-1 0 3 .1-2 .1-2 .1 0 .1 2 .1-1 .1 0 .1 2 .1 0 .1-1 .1 1 .1-1 .1 0 .1 0 .1 1 .1-1 0 2 .1-1 .1-1 .1 0 .1 0 .1 2 .1 0 .1-2 .1 0 .1 0 .1 1 .1-1 .1 1 .1-2 .1 2 .1-4 0 3 .1 1 .1-1 .1 0 .1 0 .1-1 .1 3 .1-1 .1-1 .1 1 .1 0 .1-1 .1-1 .1 1 .1-1 .1 1 0 0 .1 0 .1 0 .1 0 .1 0 .1 0 .1 1 .1-1 .1-1 .1 1 .1 0 .1-1 .1 1 .1 0 .1 0 .1 0 .1 1 0-1 .1 1 .1-1 .1 0 .1 0 .1 0 .1 0 .1 0 .1-1 .1 1 .1-1 .1 0 .1 1 .1 0 .1 0 .1-1 0 1 .1 0 .1 0 .1 0 .1 1 .1-1 .1-1 .1 2 .1-2 .1 0 .1 2 .1-1 .1 0 .1-1 .1 3 .1-2 0 0 .1 0 .1 0 .1 0 .1 1 .1-1 .1 0 .1 0 .1 1 .1 0 .1-1 .1-1 .1 2 .1-1 .1-1 .1 1 0 1 .1 0 .1-2 .1-3 .1 4 .1 0 .1-3 .1 1 .1 3 .1-1 .1 0 .1-2 .1 3 .1 0 .1-1 .1-1 0 3 .1-3 .1 0 .1 2 .1-1 .1-2 .1 0 .1 3 .1-2 .1 2 .1-1 .1 0 .1 0 .1 0 .1 1 .1 0 0-2 .1 2 .1-1 .1 0 .1 0 .1 0 .1 0 .1 1 .1-1 .1 0 .1 0 .1 1 .1-1 .1 0 .1 1 .1-2 0 1 .1 1 .1-1 .1 0 .1 0 .1 0 .1 0 .1 0 .1 0 .1-1 .1 0 .1 2 .1 0 .1-1 .1 2 .1-3 0 1 .1 0 .1 0 .1 0 .1-1 .1 0 .1 1 .1 1 .1-1 .1 0 .1 0 .1-1 .1 0 .1 0 .1 1 .1 1 .1-1 0-1 .1 2 .1-2 .1 1 .1 0 .1 1 .1-1 .1 0 .1-1 .1 3 .1-2 .1 0 .1-2 .1 3 .1-1 .1 0 0 0 .1 1 .1-2 .1 1 .1 0 .1 0 .1 0 .1-1 .1 0 .1 3 .1-1 .1 0 .1-2 .1 0 .1 0 .1 1M134.4 334.7l0 0" fill="none" stroke="none" marker-start="url(#mx)" marker-mid="url(#mx)" marker-end="url(#mx)"/>
<path d="M129.5 458l.1 0 .1 2 .1 5 .1 4 .1-4 .1-9 .1 9 .1 1 0-4 .1-2 .1 3 .1 0 .1-1 .1 3 .1-5 .1 3 .1-1 .1 1 .1-2 .1 3 .1 8 .1-7 .1-12 .1 13 0-4 .1-6 .1 9 .1-11 .1-4 .1 9 .1-1 .1 2 .1 0 .1-1 .1 7 .1 2 .1-6 .1 4 .1 3 .1-5 0-2 .1-3 .1 6 .1 1 .1-5 .1 8 .1-11 .1 8 .1 0 .1-3 .1-5 .1 7 .1-10 .1 3 .1 6 .1 2 0-10 .1 11 .1-9 .1 9 .1-1 .1-1 .1 4 .1-4 .1 0 .1-5 .1 1 .1-5 .1 1 .1 2 .1 0 .1 5 0 4 .1-5 .1-1 .1-4 .1 7 .1-2 .1-6 .1 5 .1-4 .1-5 .1 12 .1-5 .1 7 .1-11 .1 3 .1 1 0 2 .1 9 .1-8 .1-3 .1-2 .1 5 .1 1 .1 1 .1-3 .1-4 .1 4 .1 6 .1-11 .1 7 .1-9 .1 8 0-5 .1 9 .1-7 .1 4 .1-3 .1-2 .1 1 .1 7 .1 0 .1 1 .1-6 .1-15 .1 15 .1 12 .1-11 .1 2 0-4 .1-2 .1 5 .1 4 .1-8 .1 6 .1 1 .1-5 .1-7 .1 9 .1-7 .1 7 .1 5 .1-3 .1-9 .1 6 .1 3 0-8 .1-8 .1 14 .1 1 .1-14 .1 6 .1 5 .1 4 .1-5 .1 5 .1-18 .1 10 .1 2 .1 3 .1-16 .1 17 0-7 .1 7 .1 0 .1 1 .1 2 .1-8 .1-2 .1 5 .1 6 .1-8 .1 0 .1-2 .1 2 .1 2 .1-3 .1 4 0-2 .1 0 .1 0 .1-7 .1 10 .1 4 .1-4 .1 5 .1-9 .1 8 .1-6 .1 2 .1-6 .1 6 .1-2 .1-1 0-1 .1-4 .1 9 .1-3 .1-3 .1-2 .1 10 .1 2 .1-5 .1-4 .1 4 .1-1 .1 3 .1-3 .1-18 .1 18 0-1 .1 1 .1 2 .1-5 .1 4 .1 2 .1-5 .1 9 .1-8 .1-3 .1 2 .1 0 .1 2 .1-4 .1 3 .1 1 0 0 .1 1 .1-1 .1-6 .1 2 .1 2 .1-5 .1 1 .1 10 .1 0 .1-5 .1 7 .1-7 .1 6 .1-3 .1-2 0-8 .1 11 .1-8 .1 5 .1-5 .1 3 .1-4 .1 2 .1 2 .1-4 .1 8 .1-14 .1 6 .1 5 .1 2 .1-3 0-4 .1-5 .1 15 .1-2 .1-3 .1-2 .1-6 .1 13 .1-14 .1 8 .1 6 .1-10 .1 11 .1-4 .1-4 .1 3 .1 3 0 4 .1-9 .1 3 .1 2 .1 3 .1-7 .1-8 .1 5 .1-2 .1 7 .1-2 .1 3 .1-5 .1 6 .1 1 .1-8 0-1 .1-3 .1 3 .1 6 .1-4 .1 1 .1-1 .1 8 .1-11 .1 8 .1-3 .1-7 .1 3 .1 2 .1 3 .1 3 0-7 .1 7 .1 1 .1 0 .1-10 .1 1 .1 6 .1 1 .1 1 .1-4 .1-3 .1-10 .1 9 .1-2 .1 10 .1-3 0-4 .1-5 .1-2 .1 11 .1-2 .1 7 .1-6 .1 5 .1-5 .1-8 .1 1 .1 6 .1 0 .1 6 .1-3 .1-3 0 5 .1-3 .1-1 .1 0 .1 0 .1 0 .1-4 .1 3 .1 0 .1 4 .1-4 .1 7 .1-7 .1 2 .1 3 .1-14 0 14 .1-5 .1 2 .1-2 .1 8 .1-3 .1-3 .1-4 .1 5 .1-7 .1 9 .1-2 .1-1 .1-1 .1-1 .1 6 0-3 .1-6 .1 7 .1-6 .1 3 .1 4 .1-13 .1 10 .1-10 .1 11 .1-4 .1 0 .1-1 .1 10 .1-7 .1 5 .1-11 0 2 .1 3 .1 6 .1-11 .1 5 .1-3 .1-1 .1 1 .1-10 .1 24 .1-6 .1-3 .1 8 .1-8 .1-3 .1 2 0-13 .1 17 .1-2 .1 1 .1-5 .1 5 .1-7 .1 2 .1 0 .1 4 .1 1 .1-4 .1-3 .1 3 .1-3 .1-4 0 1 .1 7 .1 5 .1-13 .1 10 .1-8 .1 1 .1 1 .1 1 .1-3 .1 10 .1-9 .1 10 .1-10 .1 8 .1-4 0 2 .1 6 .1-5 .1-4 .1-3 .1 2 .1-4 .1 4 .1 5 .1 0 .1-6 .1 6 .1 6 .1-12 .1 2 .1 1 0 3 .1-7 .1 1 .1 3 .1-1 .1 1 .1-6 .1-1 .1 8 .1-1 .1 7 .1-5 .1-4 .1 6 .1-7 .1 9 0-6 .1 6 .1-5 .1-6 .1-2 .1 3 .1 8 .1-3 .1 1 .1-4 .1 3 .1-7 .1-3 .1 4 .1 1 .1 2 0 4 .1-8 .1-2 .1 13 .1-5 .1 11 .1-8 .1 1 .1-5 .1 0 .1-5 .1 13 .1-5 .1-3 .1 1 .1 0 0 1 .1-3 .1 13 .1-9 .1-6 .1-1 .1 6 .1-1 .1-13 .1 5 .1 9 .1 1 .1-7 .1 7 .1-4 .1 1 .1-3 0 10 .1-4 .1 0 .1-2 .1-2 .1 5 .1-12 .1 7 .1 5 .1-12 .1 11 .1 3 .1 3 .1-6 .1-2 .1 1 0 3 .1-2 .1 2 .1 1 .1-1 .1-5 .1 2 .1-2 .1-7 .1-2 .1 11 .1-3 .1 2 .1 1 .1-2 .1-5 0 0 .1 9 .1-2 .1 0 .1-6 .1 4 .1-1 .1 8 .1-7 .1-3 .1-3 .1 13 .1-6 .1-3 .1-3 .1 4 0 2 .1-9 .1 9 .1 0 .1 1 .1-11 .1-3 .1 16 .1 0 .1-4 .1 3 .1 0 .1-1 .1-1 .1-3 .1 2 0 2 .1 5 .1-10 .1 7 .1-5 .1 8 .1-14 .1 7 .1 4 .1-1 .1 1 .1-3 .1-4 .1 0 .1-11 .1 13 0 6 .1-5 .1 8M186.5 497l.1-1 .1 6 .1-6 .1 5 .1 6 .1-11 .1 6 .1-3 0 5 .1 0 .1 7 .1-7 .1-1 .1 2 .1 5 .1-6 .1-3 .1-3 .1 1 .1-15 .1 10 .1-2 .1 10 .1 2 0-5 .1 4 .1-7 .1 5 .1 1 .1-1 .1 1 .1 0 .1 7 .1-4 .1 4 .1 2 .1-9 .1-6 .1 12 .1 1 0-5 .1 0 .1-8 .1 7 .1 1 .1-6 .1 4 .1 0 .1-1 .1 2 .1-5 .1 7 .1 4 .1-2 .1-15 .1 13 0-2 .1 3 .1-7 .1 2 .1 3 .1-5 .1-6 .1 14 .1-6 .1 0 .1-5 .1 8 .1 2 .1 5 .1-23 .1 10 0 5 .1-5 .1 6 .1-5 .1 4 .1 4 .1-5 .1 0 .1-7 .1 9 .1-5 .1 8 .1 1 .1 3 .1-8 .1-13 0 15 .1-8 .1-2 .1 11 .1 3 .1-6 .1 3 .1 0 .1-2 .1-2 .1-3 .1 7 .1-3 .1 5 .1-5 .1 2 0-8 .1 8 .1-5 .1 11 .1-20 .1 13 .1-5 .1 2 .1-6 .1 5 .1 6 .1 3 .1-16 .1 13 .1-14 .1 3 0 0 .1 3 .1 8 .1-4 .1-7 .1 0 .1 3 .1 7 .1-5 .1 5 .1 1 .1 3 .1-9 .1 9 .1-7 .1 4 .1-8 0 2 .1 5 .1 4 .1-1 .1-11 .1 11 .1-13 .1 10 .1 3 .1-7 .1 7 .1-10 .1 10 .1 0 .1-9 .1 4 0-2 .1 0 .1 0 .1 8 .1-6 .1 0 .1 2 .1 1 .1-6 .1-1 .1 6 .1-7 .1 5 .1-1 .1-2 .1-2 0 11 .1-5 .1-2 .1 2 .1 4 .1-15 .1 12 .1-14 .1 14 .1-6 .1 0 .1 11 .1-2 .1-11 .1 8 .1-4 0-3 .1 2 .1 5 .1-3 .1-2 .1 2 .1 5 .1-8 .1 5 .1-1 .1 2 .1-12 .1 15 .1 1 .1-3 .1-7 0 2 .1-5 .1 1 .1 5 .1 5 .1-5 .1-2 .1 5 .1-7 .1-4 .1 3 .1 2 .1 4 .1-4 .1-2 .1 10 0-8 .1 5 .1-4 .1 6 .1 0 .1-5 .1-3 .1 6 .1-2 .1 0 .1 4 .1-6 .1-2 .1 8 .1-4 .1 4 0 0 .1-3 .1-6 .1 1 .1-2 .1 4 .1 11 .1-8 .1-6 .1 9 .1 0 .1 5 .1-15 .1-4 .1 20 .1-9 0 3 .1-3 .1 3 .1-3 .1-2 .1 1 .1 4 .1-2 .1 2 .1 5 .1-1 .1-7 .1-4 .1 3 .1 4 .1-2 .1-4 0-3 .1 7 .1-1 .1 4 .1-15 .1 9 .1 4 .1 2 .1-11 .1 3 .1 6 .1-9 .1 6 .1-1 .1-5 .1 11 0-8 .1 5 .1-1 .1 1 .1-12 .1 8 .1 0 .1 2 .1-6 .1 0 .1 5 .1-1 .1 0 .1 1 .1 3 .1 3 0-1 .1 2 .1-13 .1 7 .1-9 .1 11 .1 1 .1-14 .1 18 .1-7 .1 4 .1-3 .1 6 .1-8 .1-3 .1 5 0-1 .1 2 .1-2 .1-15 .1 16 .1 4 .1-9 .1 6 .1-9 .1 6 .1-5 .1 4 .1-7 .1 1 .1 8 .1 1 0 5 .1 1 .1-8 .1-1 .1 4 .1-1 .1-6 .1 11 .1-6 .1 3 .1 0 .1-11 .1 11 .1-7 .1-7 .1 13 0-5 .1 3 .1 5 .1-9 .1 4 .1 10 .1-13 .1 0 .1 4 .1 6 .1-11 .1 5 .1 2 .1 0 .1-1 .1-1 0 4 .1-5 .1 0 .1 2 .1 1 .1-3 .1 4 .1-5 .1 3 .1 11 .1-17 .1 6 .1-3 .1 0 .1 0 .1-8 .1 2 0 8 .1-6 .1 5 .1-15 .1 11 .1 1 .1-1 .1-5 .1 11 .1 3 .1-5 .1 8 .1-14 .1 7 .1-2 .1 2 0 5 .1-15 .1 6 .1 6 .1 3 .1-14 .1 15 .1-7 .1-4 .1 7 .1-1 .1-2 .1 4 .1-1 .1-4 .1 4 0-5 .1 1 .1 7 .1-7 .1 0 .1 1 .1-1 .1-2 .1 1 .1 2 .1-1 .1-1 .1 3 .1-10 .1 6 .1-6 0 10 .1-6 .1 7 .1-4 .1-3 .1 11 .1-12 .1 15 .1-15 .1 10 .1 2 .1-10 .1 3 .1-6 .1 7 .1 5 0-15 .1 14 .1-10 .1 3 .1 5 .1-3 .1-3 .1 6 .1 1 .1-4 .1-2 .1-1 .1 9 .1-4 .1-7 .1 7 0-2 .1 6 .1-12 .1 9 .1-7 .1 4 .1 0 .1 2 .1-6 .1 5 .1-5 .1 1 .1-6 .1-1 .1 7 .1-11 0 2 .1 13 .1 1 .1 5 .1-4 .1 6 .1-5 .1 0 .1-5 .1-3 .1 1 .1 9 .1 1 .1-15 .1 0 .1 12 0-8 .1 6 .1-4 .1-6 .1 2 .1 9 .1-4 .1 0 .1 5 .1-8 .1 7 .1-5 .1-1 .1 6 .1-19 .1 14 .1-2 0 0 .1 5 .1 2 .1-9 .1 6 .1 5 .1-12 .1 8 .1-4 .1-2 .1-4 .1 9 .1 0 .1 0 .1 0 .1 4 0-4 .1 6 .1-8 .1 4 .1 0 .1 3 .1-9 .1 1 .1 4 .1-2 .1 0 .1-8 .1 6 .1 6 .1-13 .1 16 0-12 .1 5 .1-3 .1 5 .1 1 .1-8 .1 2 .1 4 .1-4 .1 4 .1 6 .1-1 .1-4 .1-3 .1 6 .1 1 0 1 .1 1 .1-13 .1 9 .1-1 .1 3 .1-8 .1-1 .1 0 .1-1 .1 2 .1 6 .1 0 .1 7 .1-6 .1-2 0-1 .1-3 .1-9 .1 8 .1 2 .1 11 .1-10 .1 6 .1-10 .1 0 .1 9 .1-10 .1 4 .1 4 .1-6 .1 0 0 4 .1 3 .1-6 .1 5 .1-4 .1-9 .1 14 .1-1 .1-10 .1-3 .1 11 .1-5 .1 2 .1 3 .1-11 .1 6 0 0 .1 9 .1-11 .1 4 .1 0 .1-4 .1-2 .1 11 .1-11 .1 6 .1 4 .1-2 .1-4 .1 14 .1-3 .1-4 0-11 .1 9 .1 4 .1-10 .1 2 .1 1 .1 5 .1-7 .1 2 .1 2 .1 2 .1-6 .1-10 .1 14 .1 5 .1-10 .1 4 0 2 .1 4 .1-5 .1 3 .1 1 .1-6 .1-1 .1 1 .1 0 .1 3 .1-3 .1 5 .1-5 .1 6 .1 2 .1-3 0-4 .1-12 .1 12 .1 5 .1 0 .1-12 .1 10 .1 1 .1-7 .1 8 .1-15 .1 7 .1 2 .1-10 .1 9 .1 5 0-3 .1 0 .1-5 .1-4 .1 2 .1 13 .1 1 .1-7 .1 7 .1 0 .1-10 .1 0 .1 2 .1 4 .1-6 .1-5 0 2 .1 3 .1 1 .1 4 .1-4 .1-2 .1 2 .1 3 .1 0 .1-7 .1 5 .1-14 .1 3 .1 13 .1-1 .1 5 0-3 .1-12 .1-3 .1 18 .1-2 .1-4 .1-4 .1 6 .1-2 .1-2 .1 0 .1-4 .1 13 .1-7 .1-4 .1 15 0-17 .1 12 .1-6 .1 2 .1-6 .1 2 .1-7 .1 11 .1 5 .1-7 .1-4 .1 5 .1-6 .1 4 .1-4 .1 6 0 5 .1-9 .1 0 .1 2 .1 0 .1 0 .1 7 .1-1 .1-3 .1-3 .1-2 .1 3 .1 4 .1-5 .1 0 .1-3 0 5 .1 2 .1 0 .1-7 .1 2 .1-1 .1-1 .1 1 .1-2 .1 8 .1 0 .1-9 .1 9 .1 1 .1-2 .1-4 .1 1 0 0 .1 0 .1 5 .1-12 .1 6 .1-2 .1 4 .1-1 .1 4 .1 4 .1 2 .1-17 .1 5 .1 7 .1-3 .1-3 0 13 .1-1 .1-12 .1-2 .1 3 .1-1 .1 0 .1 2 .1-2 .1 0 .1 2 .1 0 .1-3 .1-1 .1 8 .1 0 0-4 .1 4 .1-2 .1-2 .1-3 .1 4 .1-3 .1 6 .1-3 .1-5 .1 0 .1 2 .1-6 .1 6 .1 4 .1 2 0-3 .1-1 .1 1 .1-8 .1 9 .1-3 .1 2 .1 0 .1 4 .1-7 .1 5 .1 0 .1 0 .1-2 .1 0 .1 8 0-3 .1-5 .1 3 .1-13 .1 13 .1-4 .1-13 .1 10 .1-3 .1 8 .1-4 .1 1 .1 2 .1 0 .1 6 .1-7 0 5 .1-1 .1-2 .1 1 .1-2 .1-3 .1 1 .1-3 .1 2 .1 1 .1-1 .1-3 .1 9 .1-7 .1 6 .1 0 0-5 .1 4 .1-1 .1 4 .1-5 .1 5 .1-7 .1 4 .1-10 .1 5 .1 7 .1-7 .1 8 .1-4 .1-7 .1-7 .1 1 0 15 .1-4 .1 6 .1-7 .1 1 .1 6 .1-5 .1 1 .1-2 .1 2 .1-1 .1 3 .1-4 .1 3 .1-13 .1 15 0-6 .1 0 .1-4 .1 8 .1-3 .1 1 .1 1 .1 3 .1 3 .1-6 .1-3 .1 2 .1-1 .1 4 .1 1 .1-2 0-1 .1-9 .1 11 .1 0 .1-5 .1 1 .1 3 .1-9 .1 14 .1-12 .1 2 .1-2 .1 3 .1 2 .1-6 .1 13 0-6 .1 1 .1-3 .1 2 .1 4 .1-4 .1-15 .1 9 .1-11 .1 17 .1 5 .1-5 .1 5 .1-3 .1-9 .1 0 0 5 .1 4 .1-10 .1 8 .1-5 .1 5 .1 2 .1-7 .1 2 .1-2 .1 0 .1 5 .1-4 .1 3 .1 3 .1-9 0 10 .1-6 .1 4 .1 2 .1-10 .1 5 .1 5 .1-11 .1 3 .1 2 .1 6 .1-11 .1 4 .1 5 .1-2 .1-4 0 4 .1-7 .1 13 .1-14 .1 3 .1 0 .1 5 .1-1 .1-1 .1-8 .1 4 .1 0 .1 11 .1-5 .1 5 .1-8 0 2 .1-9 .1 12 .1 5 .1-12 .1 1 .1 2 .1 7 .1-12 .1 4 .1-3 .1 8 .1-6 .1 1 .1 3 .1-14 .1 17 0-3 .1 1 .1-3 .1 0 .1-2 .1 3 .1 6 .1-10 .1 6 .1-2 .1-2 .1 12 .1-14 .1 4 .1 8 .1-3 0-4 .1 3 .1-5 .1-3 .1 3 .1 4 .1-5 .1-1 .1 9 .1-6 .1-3 .1 9 .1-9 .1 3 .1-10 .1 17 0-15 .1 4 .1 7 .1 7 .1-6 .1-6 .1 5 .1-2 .1-1 .1 4 .1-6 .1 1 .1-2 .1 2 .1-1 .1 3 0 4 .1-10 .1 3 .1-1 .1 1 .1 0 .1-4 .1 6 .1-1 .1-4 .1 2 .1 2 .1 7 .1-6 .1 0 .1-4 0 11 .1-8 .1-4 .1 0 .1 1 .1-1 .1 5 .1 2 .1-2 .1-11 .1 7 .1 2 .1 9 .1-11 .1 2 .1 4 0-4 .1 2 .1-1 .1-9 .1-1 .1 8 .1 5 .1-7 .1 8 .1-6 .1 12 .1-7 .1-2 .1-2 .1-3 .1 3 0-7 .1 8 .1 3 .1 1 .1-3 .1-9 .1 8 .1-2 .1-5 .1 8 .1 3 .1-8 .1 4 .1-5 .1 7 .1-4 0 0 .1 5 .1-3 .1-1 .1 1 .1-8 .1 9 .1-10 .1 12 .1-1 .1-4 .1-4 .1 5 .1 2 .1-6 .1 1 .1-2 0 13 .1-9 .1-7 .1 6 .1-1 .1-4 .1 9 .1-12 .1 11 .1-3 .1 3 .1-4 .1 3 .1-6 .1 5 .1 2 0 1 .1-1 .1 4 .1-5 .1 4 .1-13 .1 9 .1-2 .1-5 .1 9 .1 1 .1 1 .1-15 .1 17 .1-10 .1-2 0 6 .1-1 .1 2 .1-8 .1 8 .1 2 .1-7 .1-3 .1 11 .1-2 .1 0 .1-6 .1 0 .1-5 .1 4 .1 10 0 1 .1-7 .1 1 .1-2 .1 4 .1-1 .1 4 .1-12 .1 0 .1 8 .1-5 .1 12 .1-5 .1-7 .1 11 .1-4 0-1 .1-5 .1 4 .1-3 .1 4 .1-3 .1 1 .1 8 .1-10 .1 0 .1 5 .1-9 .1 8 .1-2 .1 0 .1 0 0-7 .1 6 .1 0 .1-8 .1 10 .1 0 .1-1 .1-1 .1 5 .1-4 .1-5 .1 6 .1-2 .1 7 .1-5 .1-4 0 2 .1 6 .1-10 .1 6 .1-1 .1 3 .1 1 .1-7 .1 0 .1 9 .1-8 .1 6 .1 4 .1-17 .1 11 .1-5 0 1 .1 1 .1-9 .1 6 .1-4 .1 14 .1-8 .1 1 .1 2 .1-5 .1-3 .1 10 .1-1 .1-12 .1 15 .1 0 .1-5 0 3 .1 1 .1-5 .1-3 .1 3 .1-3 .1 3 .1-2 .1 4 .1-2 .1-1 .1-1 .1 10 .1-12 .1 7 .1 6 0-10 .1 0 .1-8 .1 12 .1-9 .1 5 .1 1 .1 3 .1-4 .1-4 .1 5 .1 0 .1-7 .1 10 .1-1 .1 2 0-5 .1 6 .1 1 .1-16 .1 8 .1-4 .1 5 .1 0 .1 8 .1-8 .1-1 .1-3 .1-3 .1 11 .1-2 .1-2 0-5 .1 3 .1-4 .1 7 .1-7 .1 3 .1 11 .1-9 .1 10 .1-6 .1-5 .1 8 .1-2 .1-14 .1 13 .1-1 0-1 .1 3 .1 1 .1-5 .1-8 .1 8 .1 0 .1 4 .1 3 .1-8 .1-6 .1 7 .1 1 .1 1 .1 4 .1-4 0 5 .1-6 .1 3 .1 0 .1 3 .1-8 .1 6 .1-2 .1-2 .1-6 .1-1 .1 7 .1 0 .1-1 .1-10 .1 12 0 1 .1-7 .1 2 .1 1 .1 5 .1 1 .1-2 .1 1 .1-5 .1-13 .1 11 .1 6 .1-13 .1 10 .1 0 .1 4 .1-4 0-8 .1 13 .1-7 .1 7 .1-3 .1 2 .1-3 .1 3 .1 2 .1-11 .1 9 .1-13 .1 17 .1-3 .1-3 .1-11 0 9 .1-1 .1 3 .1-14 .1 23 .1-13 .1 8 .1-7 .1-4 .1-4 .1 5 .1 5 .1 1 .1-1 .1 3 .1-3 0 5 .1-6 .1 3 .1-6 .1-4 .1 8 .1 2 .1-3 .1 1 .1 2 .1-2 .1-8 .1 8 .1 1 .1-3 .1-7 0 11 .1-8 .1 8 .1-1 .1 1 .1 0 .1-5 .1-4 .1 5 .1-9 .1 14 .1-2 .1-2 .1 3 .1-15 .1 19 0-9 .1 5 .1 2 .1 0 .1-6 .1-1 .1-3 .1 2 .1-1 .1 3 .1 4 .1-8 .1-4 .1-3 .1 13 .1 5 0-6 .1-4 .1 1 .1 8 .1-5 .1 0 .1-6 .1 6 .1 0 .1 1 .1 6 .1-5 .1-3 .1-2 .1-5 .1 13 0-9 .1 5 .1-6 .1 0 .1 0 .1 6 .1 3 .1-7 .1 5 .1-5 .1 5 .1-4 .1-8 .1 11 .1 4 .1-9 0 7 .1 2 .1-4 .1-3 .1 1 .1 1 .1-6 .1 3 .1 3 .1-2 .1 3 .1-3 .1 6 .1-16 .1 15 .1-1 .1 1 0-1 .1-2 .1 3 .1-11 .1 9 .1-2 .1 5 .1-5 .1-1 .1 5 .1-1 .1-1 .1-5 .1-3 .1 0 .1 4 0 9 .1-7 .1 2 .1-1 .1 5 .1-15 .1 5 .1 9 .1-12 .1 6 .1 1 .1-3 .1 0 .1 9 .1-4 .1-3 0 1 .1-2 .1 3 .1 0 .1-2 .1-4 .1 5 .1 0 .1 4 .1 1 .1-8 .1 7 .1-3 .1 3 .1-9 .1 2 0 8 .1-4 .1 2 .1-3 .1 6 .1-1 .1-2 .1-9 .1 9 .1-10 .1 6 .1 4 .1-10 .1 4 .1 4 .1 1 0-6 .1-3 .1 6 .1-4 .1 3 .1 0 .1 3 .1-5 .1 9 .1-6 .1 4 .1 1 .1-16 .1 11 .1 2 .1 0 0-7 .1 11 .1-5 .1 0 .1 2 .1-7 .1-4 .1 8 .1 2 .1-2 .1-4 .1 2 .1 7 .1-14 .1 16 .1-5 0-4 .1 5 .1-3 .1-4 .1 10 .1-4 .1-10 .1 8 .1 2 .1 1 .1 0 .1-3 .1 3 .1-2 .1 2 .1 1 0-8 .1 4 .1 6 .1-4 .1-3 .1 0 .1 3 .1-2 .1-1 .1 3 .1-3 .1-1 .1 1 .1 3 .1-2 .1-5 .1 2 0 4 .1 7 .1-1 .1-23 .1 15 .1 5 .1-1 .1-5 .1 4 .1 0 .1-9 .1 7 .1 2 .1-1 .1 1 .1-6 0 5 .1 1 .1-3 .1 2 .1-6 .1 10 .1 2 .1-6 .1 5 .1-6 .1-5 .1-1 .1 8 .1 4 .1-5 .1-3 0 5 .1 2 .1-5 .1-4 .1 4 .1 0 .1 4 .1 0 .1-7 .1 9 .1-4 .1-1 .1 3 .1-4 .1-6 .1 5 0 7 .1-3 .1-2 .1-6 .1 14 .1-8 .1 4 .1-8 .1 7 .1-6 .1 10 .1-8 .1 1 .1 3 .1-1 .1-7 0-4 .1 3 .1 9 .1-6 .1 7 .1-8 .1 6 .1 3 .1-7 .1 10 .1-12 .1 7 .1 3 .1-12 .1 1 .1-2 0 6 .1-6 .1 2 .1 4 .1 1 .1-6 .1 7 .1-25 .1 22 .1 8 .1-4 .1 10 .1-10 .1-9 .1 8 .1 2 0-5 .1 1 .1 1 .1-1 .1-4 .1 7 .1-7 .1 5 .1 3 .1-5 .1-6 .1 2 .1 1 .1 2 .1 4 .1 2 0-13 .1 13 .1-7 .1 8 .1-2 .1-11 .1-2 .1 10 .1-12 .1 18 .1-8 .1 8 .1-2 .1-1 .1-5 .1 3 .1-2 0 0 .1 8 .1-4 .1 0 .1-15 .1 12 .1-6 .1 8 .1-4 .1-6 .1 4 .1 9 .1-7 .1-4 .1 8 .1-16 0 13 .1-2 .1 8 .1-6 .1 2 .1-5 .1 1 .1 7 .1-3 .1-6 .1 5 .1-4 .1 4 .1 0 .1-1 .1 5 0-3 .1-3 .1 2 .1-4 .1 4 .1 4 .1-4 .1 4 .1 1 .1-5 .1 3 .1-8 .1 2 .1 8 .1-5 .1 2 0 1 .1-2 .1-3 .1 0 .1 6 .1-5 .1 2 .1 7 .1-11 .1 4 .1-8 .1 6 .1 3 .1-7 .1 8 .1-11 0-1 .1 8 .1-3 .1-2 .1 7 .1 1 .1 0 .1-4 .1 0 .1-6 .1 10 .1-9 .1 9 .1-6 .1 6 .1-7 0 7 .1-9 .1 6 .1-5 .1 4 .1 3 .1-3 .1 4 .1-7 .1 6 .1-3 .1 5 .1-11 .1 14 .1-6 .1 1 0-6 .1 5 .1-3 .1 2 .1-7 .1 14 .1-2 .1-8 .1 4 .1 1 .1-3 .1-4 .1 2 .1-1 .1-1 .1 12 .1-6 0-1 .1 2 .1-3 .1 2 .1-1 .1 4 .1 3 .1-15 .1 6 .1 2 .1 3 .1 0 .1-9 .1 11 .1 1 .1-2 0 3 .1-6 .1-3 .1 3 .1 0 .1-4 .1 10 .1-8 .1 4 .1 0 .1-1 .1-5 .1 0 .1 3 .1-8 .1 12 0 3 .1-1 .1-10 .1 0 .1-6 .1 16 .1-1 .1-2 .1-6 .1 4 .1 3 .1-3 .1 6 .1-5 .1-14 .1 8 0 3 .1 2 .1-10 .1 3 .1 8 .1-9 .1 15 .1-9 .1 1 .1 3 .1 1 .1-9 .1 10 .1-10 .1-1 .1 0 0 4 .1 1 .1 3 .1 2 .1-4 .1 0 .1 11 .1-5 .1-7 .1 6 .1-4 .1 0 .1 3 .1-6 .1 7 .1-8 0 3 .1 3 .1-2 .1-6 .1 3 .1 6 .1-3 .1 3 .1-8 .1 1 .1-6 .1 11 .1-12 .1 11 .1-3 .1 5 0-2 .1-2 .1 1 .1 6 .1-10 .1-8 .1 12 .1-1 .1-9 .1 9 .1-1 .1-2 .1-3 .1 10 .1-11 .1 8 0-1 .1 3 .1-10 .1 3 .1 7 .1-9 .1 4 .1 2 .1-1 .1-1 .1-2 .1 6 .1-4 .1 5 .1-11 .1 9 .1-1 0 0 .1 4 .1 1 .1-5 .1-6 .1 13 .1-16 .1 6 .1 10 .1-18 .1 9 .1-1 .1 1 .1 3 .1 6 .1-11 0 1 .1-1 .1 4 .1-6 .1-1 .1 5 .1 6 .1-1 .1-1 .1-1 .1 3 .1 0 .1 1 .1-5 .1 3 .1-11 0 5 .1 2 .1 1 .1-7 .1 2 .1 9 .1-7 .1 6 .1-3 .1 4 .1-2 .1-10 .1 8 .1-11 .1 19 .1-5 0-1 .1 0 .1-1 .1-5 .1 1 .1 1 .1 0 .1 6 .1 4 .1-13 .1 11 .1-4 .1-3 .1 1 .1-2 .1-2 0 1 .1 7 .1-6 .1-8 .1 2 .1 5 .1 2 .1 2 .1-13 .1 10 .1-2 .1 2 .1 5 .1 0 .1 1 .1-7 0 6 .1 2 .1-8 .1 4 .1 2 .1 2 .1 1 .1-13 .1-2 .1 2 .1 3 .1 0 .1 2 .1-1 .1 2 .1 1 0-3 .1-1 .1 1 .1 3 .1 0 .1-4 .1 4 .1-3 .1 4 .1-4 .1 6 .1-4 .1 4 .1-4 .1-6 .1 14 0-7 .1-6 .1 0 .1 9 .1-1 .1 1 .1 0 .1-2 .1 0 .1-8 .1 11 .1-15 .1 3 .1 7 .1-5 .1-3 .1 3 0 1 .1-3 .1 8 .1-1 .1 2 .1 2 .1 1 .1-6 .1 2 .1 1 .1-4 .1 1 .1 8 .1-9 .1 1 .1 5 0-1 .1-10 .1 3 .1 8 .1-3 .1 2 .1-2 .1 7 .1-4 .1 0 .1-12 .1 14 .1-4 .1-3 .1 4 .1-6 0 5 .1 3 .1-12 .1 13 .1-3 .1-5 .1-1 .1 8 .1-5 .1 0 .1-8 .1 10 .1-10 .1 8 .1-8 .1 8 0 9 .1-8 .1 5 .1-1 .1-5 .1-11 .1 12 .1-6 .1-3 .1 4 .1 9 .1-2 .1 4 .1-6 .1 0 .1 6 0-2 .1-4 .1 0 .1 0 .1 1 .1 0 .1-2 .1 0 .1-5 .1 6 .1 0 .1 1 .1-2 .1-2 .1 1 .1 1 0 3 .1-6 .1 0 .1-2 .1 2 .1 6 .1 4 .1-5 .1 3 .1-3 .1-2 .1 1 .1 1 .1-13 .1 10 .1-5 0 8 .1-4 .1 9 .1-13 .1 6 .1 3 .1-2 .1 5 .1-8 .1-1 .1-5 .1 12 .1-2 .1 0 .1-9 .1 1 0 10 .1 3 .1-16 .1 10 .1-5 .1 2 .1-5 .1 5 .1 1 .1-2 .1-4 .1 10 .1-10 .1 7 .1 2 .1 3 .1-6 0-5 .1 1 .1-1 .1 12 .1-8 .1 13 .1-15 .1 7 .1-8 .1 8 .1-9 .1 7 .1-1 .1-3 .1 6 .1-7 0 2 .1 10 .1-10 .1-2 .1-4 .1 11 .1 1 .1-11 .1 0 .1 2 .1 4 .1 5 .1-4 .1-5 .1 7 .1 0 0 4 .1-9 .1 11 .1-9 .1 3 .1 0 .1 0 .1 3 .1-5 .1 7 .1 0 .1-9 .1 7 .1-9 .1 7 .1-4 0 0 .1 3 .1-8 .1 10 .1-3 .1-7 .1 4 .1-3 .1 8 .1-6 .1 2 .1 4 .1-7 .1-7 .1 7 .1 2 0 4 .1-1 .1 2 .1 11 .1-13 .1-3 .1 3 .1-1 .1-1 .1 5 .1-1 .1-3 .1-7 .1 3 .1 13 .1-8 0 4 .1-4 .1 4 .1-3 .1-8 .1 4 .1 10 .1-8 .1-1 .1 2 .1-10 .1 10 .1-6 .1 4 .1-11 .1 21 0-11 .1 8 .1 3 .1-17 .1 11 .1-7 .1 3 .1-2 .1 4 .1-1 .1-3 .1 0 .1 6 .1 2 .1-11 .1 5 .1 5 0-9 .1 6 .1 3 .1-1 .1 2 .1-7 .1 1 .1-9 .1 10 .1-10 .1 0 .1 15 .1-6 .1-1 .1-2 .1-8 0 9 .1 8 .1-4 .1 2 .1 5 .1-8 .1 8 .1-6 .1-3 .1-2 .1 4 .1 1 .1 4 .1-9 .1 6 .1 0 0 5 .1-6 .1 6 .1-8 .1-12 .1 10 .1 2 .1-4 .1 1 .1 6 .1-4 .1 2 .1 6 .1-4 .1-13 .1 7 0 8 .1-7 .1 5 .1 2 .1-7 .1 6 .1 1 .1-5 .1 3 .1-5 .1 4 .1 1 .1 4 .1-10 .1 2 .1 5 0-7 .1 5 .1-5 .1 3 .1 1 .1 2 .1-9 .1 1 .1 3 .1 12 .1-19 .1 13 .1-9 .1 4 .1-4 .1 4 0 7 .1-14 .1 9 .1-1 .1 0 .1 4 .1 0 .1 2 .1-4 .1 0 .1 2 .1-8 .1 2 .1 1 .1 8 .1-16 0 3 .1 3 .1-1 .1 8 .1 2 .1-4 .1-6 .1 6 .1-5 .1 2 .1 5 .1-2 .1-3 .1 11 .1-14 .1 4 0 1 .1-2 .1 5 .1-7 .1 6 .1-6 .1 5 .1 2 .1-6 .1 1 .1 6 .1-5 .1 1 .1 2 .1-5 .1 6 .1-8 0 2 .1 0 .1-6 .1 5 .1 4 .1 1 .1 0 .1 6 .1-3 .1-6 .1 4 .1-5 .1 3 .1 1 .1-2 .1 7 0-10 .1 1 .1 3 .1 2 .1-3 .1 2 .1 4 .1-6 .1 3 .1 2 .1-3 .1-8 .1 11 .1-2 .1-16 .1 15 0 2 .1 0 .1-2 .1-5 .1 3 .1-1 .1 1 .1-1 .1 1 .1-3 .1 5 .1-1 .1 1 .1-1 .1-1 .1-1 0-1 .1 9 .1-15 .1 14 .1-4 .1-5 .1 1 .1-3 .1 1 .1 6 .1-8 .1 3 .1 8 .1 1 .1-4 .1-5 0 11 .1-8 .1-4 .1 4 .1-4 .1 9 .1 0 .1-7 .1-1 .1 0 .1-2 .1 7 .1-13 .1 13 .1 0 .1-10 0 11 .1-3 .1-2 .1 6 .1 0 .1-8 .1-1 .1 13 .1-4 .1-2 .1-1 .1 0 .1 0 .1-2 .1 7 .1 0 0-3 .1-2 .1 0 .1 0 .1-3 .1 3 .1-3 .1 4 .1-8 .1 12 .1-7 .1-5 .1 9 .1-2 .1 4 .1-9 0 10 .1-12 .1 2 .1 5 .1 2 .1-3 .1 2 .1-3 .1 6 .1-4 .1 1 .1-2 .1-2 .1-2 .1-5 .1 6 .1 4 0 5 .1-5 .1 0 .1 1 .1-14 .1 12 .1-4 .1 3 .1 0 .1 0 .1 1 .1 2 .1-6 .1-1 .1 1 .1 1 0-2 .1-1 .1 10 .1-10 .1 8 .1-3 .1 5 .1-11 .1 10 .1-15 .1 12 .1-1 .1 4 .1-5 .1 8 .1-7 0-3 .1 6 .1 3 .1-1 .1-2 .1-15 .1 20 .1-10 .1 1 .1 7 .1-3 .1 4 .1-5 .1-10 .1 11 .1 0 0-3 .1-3 .1 8 .1-6 .1 1 .1 5 .1-5 .1 9 .1-11 .1 4 .1-6 .1-3 .1 6 .1-10 .1 11 .1 6 0-3 .1-11 .1 2 .1 8 .1-17 .1 27 .1-9 .1 2 .1-7 .1 10 .1 0 .1-5 .1-2 .1 0 .1 1 .1-3 0 3 .1-14 .1 14 .1-6 .1-2 .1 2 .1-2 .1 8 .1-3 .1 4 .1-3 .1 4 .1-2 .1-1 .1-3 .1 7 0-3 .1 4 .1-4 .1-5 .1-3 .1 16 .1-7 .1-3 .1 3 .1-10 .1 12 .1-11 .1 6 .1-1 .1 1 .1 4 0-1 .1-8 .1 9 .1-5 .1-1 .1 0 .1 1 .1-7 .1 11 .1-8 .1 5 .1-6 .1 7 .1-6 .1 7 .1 4 .1-7 0-3 .1-3 .1 11 .1-9 .1 11 .1 1 .1-16 .1 6 .1 2 .1-2 .1-5 .1 7 .1-1 .1 3 .1 3 .1-1 0 4 .1-15 .1 11 .1-1 .1-2 .1-2 .1 2 .1-6 .1-2 .1 12 .1-2 .1-4 .1 9 .1-1 .1 2 .1-3 0-4 .1-10 .1 10 .1 4 .1-2 .1 3 .1-2 .1-4 .1 0 .1-6 .1 8 .1-7 .1 6 .1 1 .1 2 .1-18 0 19 .1-8 .1 7 .1-6 .1-5 .1-5 .1 7 .1 4 .1-1 .1-1 .1 5 .1 2 .1-4 .1-4 .1 4 .1 1 0 5 .1-16 .1 16 .1-8 .1-4 .1-1 .1 14 .1-5 .1-4 .1 3 .1 0 .1 0 .1 5 .1 1 .1-4 .1 0 0-1 .1 3 .1-10 .1 10 .1-2 .1-8 .1 12 .1-7 .1-1 .1 6 .1-5 .1 7 .1-10 .1 4 .1 6 .1-3 0 3 .1-7 .1-4 .1 6 .1 1 .1 0 .1-4 .1 7 .1-1 .1 1 .1-6 .1-3 .1 1 .1 7 .1-5 .1 2 .1-6 0 4 .1-7 .1 2 .1 5 .1-1 .1 1 .1-10 .1 12 .1 2 .1-1 .1-7 .1 3 .1 14 .1-9 .1-5 .1 1 0 0 .1-1 .1 2 .1-4 .1 1 .1 6 .1 1 .1 3 .1-5 .1 0 .1-12 .1 11 .1 0 .1-3 .1-5 .1 6 0 3 .1-1 .1-2 .1-12 .1 16 .1-5 .1 5 .1-2 .1-3 .1 3 .1 3 .1-5 .1 1 .1-8 .1 5 .1 1 0 2 .1 3 .1 1 .1-5 .1 2 .1 3 .1-7 .1 3 .1 0 .1-8 .1 15 .1-7 .1 6 .1-12 .1-6 .1 15 0-8 .1 1 .1-5 .1 7 .1 4 .1-4 .1-1 .1-2 .1 0 .1 5 .1-1 .1-1 .1-5 .1 8 .1-4 .1 8 0-8 .1 7 .1 4 .1-6 .1-7 .1-4 .1 10 .1 2 .1 3 .1 0 .1-5 .1 4 .1-10 .1 5 .1-1 .1 1 0 7 .1-11 .1 3 .1 6 .1-7 .1-1 .1 8 .1-11 .1-2 .1 11 .1-4 .1-3 .1 7 .1-7 .1-4 .1 11 0-2 .1-11 .1 18 .1-4 .1-17 .1 9 .1 7 .1-5 .1 4 .1-7 .1 0 .1-3 .1 11 .1-14 .1 6 .1 7 .1 3 0-10 .1 8 .1 4 .1-11 .1 6 .1-5 .1 4 .1-3 .1 7 .1 2 .1-8 .1-2 .1-2 .1 4 .1-3 .1 5 0 2 .1-8 .1 5 .1 6 .1-12 .1-9 .1 23 .1-7 .1 3 .1-2 .1-6 .1 9 .1-4 .1-3 .1 1 .1-4 0 12 .1-10 .1 5 .1-1 .1-6 .1 7 .1 1 .1-2 .1-3 .1 1 .1-2 .1 5 .1 0 .1-2 .1 2 .1-1 0-6 .1 4 .1-9 .1 9 .1 3 .1-1 .1-6 .1 6 .1 10 .1-7 .1-4 .1-4 .1 0 .1 5 .1 5 .1-3 0-4 .1-4 .1 9 .1-5 .1 3 .1-8 .1-1 .1 10 .1-11 .1 11 .1-6 .1 8 .1-4 .1 8 .1-8 .1-1 0-11 .1 15 .1-6 .1 13 .1-9 .1 5 .1-12 .1 6 .1-2 .1 3 .1 0 .1-1 .1-10 .1 7 .1 3 .1-2 0-4 .1 11 .1-5 .1-3 .1 5 .1-12 .1-2 .1 15 .1-5 .1-1 .1 5 .1 4 .1-10 .1 8 .1-5 .1-1 0-5 .1 2 .1 7 .1-5 .1 3 .1 4 .1-6 .1-2 .1-4 .1 13 .1-13 .1 7 .1 4 .1-5 .1 2 .1-3 .1-4 0 4 .1 4 .1 1 .1-4 .1-1 .1 0 .1 2 .1 1 .1 0 .1 3 .1 1 .1-4 .1 3 .1 3 .1-12 .1 6 0-3 .1 3 .1 3 .1-2 .1-4 .1 3 .1 5 .1-2 .1-5 .1 9 .1-8 .1-6 .1 6 .1 5 .1-7 .1-1 0 7 .1-3 .1 2 .1-6 .1-5 .1 1 .1 8 .1-4 .1 1 .1 6 .1 0 .1-6 .1 3 .1-11 .1 11 .1 0 0-7 .1 14 .1-6 .1-6 .1 11 .1-10 .1 6 .1-7 .1 5 .1 0 .1 2 .1-11 .1 13 .1-9 .1 1 .1 4 0-3 .1 9 .1-3 .1-8 .1 1 .1 2 .1 1 .1-5 .1 2 .1 0 .1-9 .1 12 .1-9 .1 18 .1-19 .1 10 0-7 .1 10 .1-3 .1 4 .1-7 .1 6 .1-6 .1 4 .1 4 .1-5 .1-1 .1 0 .1 1 .1-3 .1 4 .1 0 0 0 .1-4 .1 5 .1-1 .1 0 .1-1 .1 0 .1 4 .1-10 .1 12 .1-15 .1 7 .1 4 .1-8 .1 16 .1-20 0 7 .1-1 .1 7 .1-1 .1-1 .1-1 .1 7 .1-8 .1 0 .1-5 .1 9 .1-4 .1 8 .1-5 .1 2 .1 1 .1-6 0-1 .1-4 .1 7 .1 4 .1-1 .1-14 .1 11 .1-6 .1 1 .1 10 .1-4 .1 0 .1-2 .1 1 .1 0 .1 5 0-10 .1 0 .1 14 .1-8 .1 2 .1-3 .1-8 .1 8 .1 4 .1-13 .1 9 .1-2 .1 2 .1 1 .1-15 .1 11 0 1 .1-8 .1 4 .1 8 .1 1 .1 0 .1 0 .1-14 .1 8 .1 1 .1 1 .1-3 .1 8 .1-7 .1 0 .1-7 0 10 .1-5 .1 4 .1 0 .1-2 .1-4 .1 5 .1 0 .1-2 .1 5 .1-7 .1 0 .1 9 .1-7 .1 1 .1 8 0-3 .1 4 .1-9 .1-2 .1 7 .1-1 .1-9 .1 4 .1-2 .1 7 .1-5 .1 3 .1 0 .1 4 .1-2 .1-3 0 2 .1 2 .1-1 .1-6 .1 9 .1 0 .1-6 .1 6 .1-3 .1-6 .1 5 .1-1 .1-5 .1 6 .1-2 .1 4 0-7 .1 6 .1-6 .1 4 .1-5 .1 4 .1 7 .1-7 .1 9 .1-14 .1 2 .1 1 .1-5 .1 7 .1 2 .1-2 .1 2 0-3 .1-2 .1 4 .1 5 .1-7 .1-5 .1 8 .1-12 .1 10 .1-7 .1-8 .1 20 .1 2 .1-11 .1-8 .1 14 0 2 .1-5 .1 2 .1-8 .1 11 .1-1 .1-5 .1 3 .1-2 .1 1 .1 1 .1 3 .1-4 .1-1 .1 6 .1-1 0 3 .1-16 .1 12 .1-10 .1 8 .1-6 .1 2 .1-3 .1 7 .1-7 .1 9 .1-1 .1-3 .1 1 .1-2 .1 4 0-1 .1 0 .1 5 .1-6 .1-1 .1 6 .1-4 .1-4 .1 2 .1 5 .1 0 .1-8 .1 9 .1-2 .1-7 .1-2 0 8 .1-8 .1 4 .1-2 .1 8 .1-6 .1 2 .1-6 .1 2 .1 4 .1 5 .1-5 .1-1 .1-8 .1 7 .1 0 0 5 .1-1 .1 0 .1-4 .1-4 .1 9 .1-7 .1 10 .1-5 .1-1 .1-3 .1 3 .1-13 .1 16 .1-1 .1 3 0 1 .1 0 .1-16 .1 22 .1-18 .1-1 .1 9 .1 2 .1-11 .1 15 .1-3 .1-4 .1-6 .1 7 .1 2 .1 0 0-5 .1-1 .1-3 .1 9 .1-9 .1 9 .1-2 .1-6 .1 1 .1 8 .1-8 .1 6 .1-4 .1 6 .1-7 .1 2 .1-3 0 7 .1-7 .1 7 .1-2 .1-7 .1 5 .1 0 .1 2 .1-5 .1-3 .1 2 .1 4 .1 0 .1 0 .1-7 .1 3 0 3 .1 4 .1-5 .1 8 .1 2 .1-5 .1 1 .1-6 .1-1 .1-2 .1-1 .1 4 .1 0 .1 0 .1 1 .1 7 0-9 .1 6 .1-5 .1 2 .1 4 .1-8 .1 0 .1 2 .1-2 .1 7 .1-2 .1-2 .1 6 .1-4 .1 3 .1-16 0 10 .1 5 .1-7 .1-3 .1 11 .1 1 .1-9 .1 2 .1 7 .1 3 .1-4 .1-7 .1 7 .1 2 .1-8 .1 5 0-15 .1 8 .1 3 .1 4 .1-7 .1 5 .1-5 .1 4 .1 2 .1 3M525 466l.1 3 .1 4 .1-1 .1-6 .1 5 .1-6 .1 4 .1-7 0 12 .1 0 .1-7 .1 1 .1-5 .1 1 .1 7 .1-2 .1 4 .1-3 .1-1 .1 2 .1-2 .1-1 .1 7 .1-3 0-1 .1-3 .1 3 .1-4 .1 9 .1-9 .1 7 .1-3 .1 2 .1 1 .1-7 .1 7 .1-4 .1 1 .1-4 .1 4 0-10 .1 8 .1 1 .1 1 .1-10 .1 4 .1 6 .1 0 .1-6 .1 5 .1-4 .1 4 .1 2 .1-7 .1 6 .1-5 0 5 .1 0 .1-4 .1-4 .1 7 .1 6 .1-9 .1 5 .1-1 .1-3 .1 0 .1 7 .1-2 .1-7 .1 5 .1-14 0 18 .1-11 .1 8 .1 5 .1-12 .1 4 .1 0 .1 0 .1-4 .1 4 .1 0 .1 2 .1-4 .1 4 .1-2 .1 2 0 1 .1-12 .1 11 .1-6 .1 0 .1 2 .1-4 .1-1 .1 9 .1-7 .1 7 .1-3 .1-3 .1 7 .1-9 .1 7 0 1 .1 5 .1-15 .1 8 .1-3 .1 1 .1 5 .1 3 .1 0 .1 0 .1-10 .1 3 .1 5 .1-8 .1-3 .1 14 0-8 .1 5 .1-2 .1 1 .1-4 .1 5 .1-2 .1-4 .1 6 .1 7 .1-13 .1 9 .1-2 .1-15 .1 10 .1 1 .1 2 0-5 .1 3 .1-3 .1 5 .1-2 .1-8 .1 3 .1 5 .1-6 .1 11 .1-1 .1 3 .1-4 .1-2 .1-14 .1 10 0 3 .1-1 .1 0 .1 5 .1-7 .1-1 .1 7 .1-5 .1 0 .1 3 .1-5 .1 9 .1-11 .1-5 .1 11 .1 8 0-19 .1 10 .1 6 .1-3 .1 1 .1 1 .1-15 .1 12 .1-13 .1 8 .1-2 .1 5 .1 3 .1 1 .1-17 .1 15 0 0 .1-4 .1 0 .1 3 .1 5 .1-10 .1 2 .1 5 .1-5 .1 0 .1 4 .1-5 .1 1 .1 5 .1 8 .1-19 0 11 .1 1 .1 2 .1-8 .1 1 .1 5 .1-3 .1 2 .1-2 .1-2 .1 5 .1-11 .1 5 .1 0 .1 8 .1 1 0-11 .1 7 .1-1 .1 1 .1-3 .1 0 .1 2 .1-3 .1 0 .1-6 .1 11 .1-8 .1-1 .1 2 .1 11 .1-9 0-1 .1 4 .1 3 .1-4 .1-3 .1 8 .1 1 .1-5 .1-5 .1 0 .1 5 .1 1 .1-1 .1-1 .1 0 .1-3 0-1 .1 7 .1-2 .1-6 .1 7 .1-6 .1 4 .1 3 .1-3 .1-4 .1-1 .1 12 .1-6 .1-6 .1 3 .1 7 .1-4 0-3 .1 0 .1-3 .1 5 .1-2 .1-2 .1 6 .1-7 .1 16 .1-15 .1 6 .1-1 .1 0 .1-13 .1 12 .1 0 0 3 .1 4 .1-5 .1-17 .1 12 .1 5 .1-2 .1-1 .1 0 .1-2 .1 4 .1-10 .1 9 .1 3 .1-6 .1 12 0-11 .1-4 .1 3 .1 4 .1-6 .1-2 .1 4 .1 4 .1 3 .1-2 .1-1 .1 3 .1-4 .1-1 .1-5 .1 9 0-2 .1 3 .1-13 .1 12 .1-8 .1-5 .1 18 .1-13 .1 6 .1-7 .1 6 .1-6 .1 10 .1-7 .1-5 .1 4 0 1 .1-3 .1 4 .1 6 .1-7 .1 6 .1-3 .1-7 .1 1 .1 8 .1-5 .1-4 .1 4 .1-5 .1 8 .1 4 0-9 .1 10 .1-8 .1 10 .1-8 .1 2 .1 0 .1-4 .1-6 .1 9 .1 4 .1-4 .1-10 .1 4 .1 6 .1 1 0 0 .1-4 .1-2 .1 4 .1 1 .1 3 .1 0 .1-1 .1-5 .1 6 .1-6 .1 2 .1 7 .1-4 .1-4 .1 3 .1 3 0-9 .1 1 .1 5 .1 3 .1-5 .1-7 .1 7 .1 1 .1-4 .1 12 .1-11 .1 1 .1 0 .1 3 .1 0 .1-17 0 20 .1-8 .1 5 .1-2 .1-8 .1 9 .1 2 .1-7 .1 4 .1 4 .1-6 .1 5 .1-3 .1 1 .1 3 .1-16 0 9 .1 4 .1 6 .1-6 .1-10 .1 15 .1-3 .1-1 .1 0 .1 1 .1-5 .1 3 .1 6 .1-2 .1-5 .1-1 0 6 .1-6 .1 6 .1-2 .1-6 .1 5 .1 4 .1-3 .1 1 .1-8 .1 6 .1-2 .1 8 .1-8 .1 6 .1-11 0 8 .1-2 .1-3 .1 0 .1 2 .1 3 .1 2 .1 4 .1-9 .1 2 .1-17 .1 13 .1 3 .1-2 .1 6 .1-9 0 9 .1-7 .1-8 .1 13 .1 0 .1-6 .1-2 .1 10 .1-8 .1 0 .1-3 .1 7 .1-6 .1 9 .1-6 .1 2 0-12 .1 6 .1 9 .1-1 .1-1 .1-1 .1-3 .1 0 .1 2 .1-6 .1 5 .1 5 .1 4 .1-6 .1-1 .1 7 0-2 .1-3 .1 4 .1-17 .1 14 .1-5 .1-2 .1 4 .1 4 .1 2 .1-3 .1-4 .1 2 .1 0 .1-7 .1 4 .1 6 0-4 .1 1 .1 7 .1-4 .1-2 .1 2 .1-2 .1-4 .1 5 .1 0 .1 4 .1-2 .1 0 .1 0 .1-7 .1 5 0-3 .1-4 .1 8 .1-7 .1 10 .1-3 .1 5 .1 1 .1-3 .1-8 .1-6 .1 12 .1-4 .1 1 .1-9 .1 4 0 2 .1 5 .1-2 .1-4 .1 10 .1-2 .1 1 .1-5 .1 1 .1 1 .1-7 .1 3 .1 3 .1 2 .1-7 .1-2 0 7 .1-3 .1 0 .1 3 .1 0 .1-2 .1 3 .1-1 .1-3 .1-4 .1 6 .1 1 .1-1 .1-6 .1-2 .1 11 0-8 .1 7 .1-6 .1 1 .1-3 .1 13 .1-3 .1-4 .1 1 .1 1 .1-8 .1 9 .1-2 .1-5 .1 6 .1-1 0 2 .1-9 .1 7 .1-2 .1-4 .1 5 .1 1 .1 0 .1-5 .1 1 .1 1 .1 1 .1-5 .1 1 .1 1 .1-3 0-10 .1 14 .1-4 .1-6 .1 20 .1-11 .1 7 .1-25 .1 24 .1 6 .1-17 .1 3 .1 12 .1-2 .1-3 .1 4 0-9 .1-3 .1 6 .1 6 .1-4 .1-7 .1 5 .1-7 .1 12 .1-12 .1-2 .1 10 .1-1 .1 3 .1 0 .1-2 .1-11 0 5 .1 0 .1 5 .1-6 .1 0 .1 7 .1 2 .1-1 .1-4 .1-1 .1 2 .1-11 .1 18 .1-4 .1 0 .1 1 0-14 .1 14 .1 0 .1-3 .1 0 .1 7 .1-22 .1 17 .1-7 .1 5 .1-6 .1 6 .1 4 .1-4 .1 4 .1-8 0-2 .1 0 .1 3 .1-1 .1 2 .1-9 .1 14 .1-6 .1-8 .1 16 .1-11 .1 2 .1 7 .1 5 .1-13 .1 1 0 9 .1-2 .1-9 .1 10 .1-10 .1 2 .1 4 .1 1 .1-10 .1 8 .1 6 .1-7 .1 7 .1-5 .1-1 .1 5 0-1 .1 4 .1-15 .1 9 .1 1 .1 2 .1-7 .1 7 .1-3 .1-2 .1 3 .1 3 .1-7 .1 2 .1 4 .1-3 0-1 .1-4 .1 13 .1-15 .1 6 .1 5 .1-5 .1 5 .1-4 .1 4 .1-9 .1 7 .1 4 .1-2 .1-14 .1 5 0 8 .1-1 .1-10 .1 9 .1-5 .1 5 .1-2 .1 2 .1 1 .1-7 .1 7 .1-8 .1 5 .1 1 .1-3 .1 4 0 1 .1-4 .1-9 .1 9 .1-1 .1-4 .1 11 .1-3 .1-1 .1-4 .1 3 .1-2 .1-3 .1 7 .1 3 .1-6 .1-1 0-4 .1 1 .1 9 .1-5 .1-3 .1 3 .1 4 .1-5 .1 1 .1 3 .1-12 .1 11 .1-3 .1 2 .1-2 .1-2 0 8 .1-4 .1-2 .1 13 .1-12 .1 4 .1 2 .1-5 .1-2 .1 1 .1 2 .1 1 .1-12 .1 4 .1 6 .1-5 0 5 .1 8 .1-9 .1 5 .1-4 .1 5 .1 0 .1 4 .1-6 .1 3 .1-2 .1-6 .1 6 .1 2 .1-1 .1 4 0-12 .1 3 .1 8 .1-9 .1 1 .1-15 .1 12 .1 2 .1 8 .1-6 .1-4 .1 1 .1 5 .1-6 .1 1 .1 7 0-13 .1 8 .1-12 .1 3 .1 11 .1-5 .1-3 .1 10 .1-1 .1-5 .1 1 .1 4 .1-4 .1-2 .1 7 .1-9 0 8 .1-14 .1 13 .1 3 .1-2 .1-1 .1 2 .1-3 .1-2 .1-11 .1 12 .1 2 .1 4 .1-4 .1-7 .1 4 0-5 .1 2 .1 3 .1-1 .1 4 .1 1 .1-2 .1 1 .1 1 .1-2 .1 9 .1-9 .1-1 .1-3 .1 4 .1 0 .1-2 0 1 .1 3 .1 8 .1-16 .1 6 .1-7 .1 7 .1-2 .1 8 .1-6 .1-1 .1 3 .1-11 .1 6 .1-9 .1 14 0-6 .1 2 .1 1 .1-5 .1 1 .1 7 .1 0 .1 1 .1-7 .1-8 .1 10 .1 9 .1-8 .1 3 .1-9 .1 6 0 0 .1 2 .1 1 .1-4 .1 7 .1-5 .1-5 .1 5 .1-2 .1-3 .1-2 .1 4 .1-3 .1 5 .1 4 .1 2 0-3 .1-5 .1 0 .1 8 .1-7 .1 3 .1-9 .1 0 .1 6 .1-2 .1 2 .1 6 .1 0 .1-4 .1-7 .1 2 0-2 .1 4 .1 2 .1 6 .1 0 .1-4 .1-6 .1 5 .1 0 .1 4 .1-18 .1 11 .1 8 .1-5 .1 0 .1 3 0-5 .1 0 .1 3 .1-8 .1 3 .1-2 .1 8 .1-2 .1 5 .1-5 .1 1 .1-7 .1 9 .1-10 .1 7 .1-6 0-2 .1 4 .1 3 .1-1 .1 2 .1-7 .1 0 .1 11 .1-2 .1-10 .1 5 .1-6 .1 8 .1 0 .1 0 .1-3 0 8 .1-1 .1-2 .1 4 .1-2 .1 1 .1 0 .1-8 .1 6 .1-2 .1-1 .1-4 .1 1 .1-7 .1 11 .1-3 .1 8 0-5 .1 2 .1 0 .1-6 .1 4 .1-2 .1 0 .1-1 .1-8 .1 7 .1 9 .1-14 .1 14 .1-1 .1-3 .1 5 0-3 .1-2 .1-3 .1-12 .1 15 .1-17 .1 17 .1-3 .1 3 .1 2 .1-6 .1 4 .1 1 .1-7 .1 13 .1-8 0-9 .1 7 .1-8 .1 11 .1 3 .1-7 .1-4 .1 0 .1-4 .1 6 .1 9 .1 0 .1-4 .1-1 .1-6 .1 5 0-1 .1 2 .1 0 .1 3 .1-6 .1-3 .1 4 .1 1 .1 2 .1 3 .1-11 .1 2 .1 16 .1-16 .1 11 .1-4 0-2 .1-2 .1 2 .1-3 .1 0 .1 2 .1 6 .1-1 .1-6 .1 5 .1 1 .1-7 .1 2 .1 4 .1-7 .1 9 0-2 .1 2 .1-1 .1-11 .1 0 .1 17 .1-11 .1 1 .1-2 .1 6 .1 2 .1-14 .1 8 .1 0 .1 7 .1-2 0-7 .1 2 .1-2 .1 3 .1 0 .1 5 .1-3 .1 2 .1-4 .1 0 .1-7 .1 10 .1-8 .1 3 .1 3 .1 0 0-2 .1 2 .1 0 .1-15 .1 12 .1 5 .1-5 .1 0 .1-9 .1 11 .1-1 .1 3 .1-9 .1 12 .1-2 .1-6 .1 1 0 8 .1-6 .1-8 .1 5 .1 1 .1 8 .1-9 .1 5 .1-10 .1-2 .1 2 .1-6 .1 15 .1 2 .1-5 .1 2 0-2 .1 4 .1-6 .1-1 .1 6 .1 1 .1-9 .1-4 .1 11 .1-3 .1-1 .1-1 .1 10 .1-11 .1 0 .1-17 0 21 .1 4 .1-4 .1-5 .1 8 .1-17 .1 19 .1-2 .1-8 .1 7 .1 3 .1 0 .1-3 .1-2 .1 2 .1 3 0-1 .1-1 .1-2 .1 0 .1 3 .1-5 .1 4 .1-8 .1 6 .1 0 .1 2 .1 3 .1-8 .1 2 .1 2 .1-1 0 3 .1 2 .1-7 .1-4 .1 0 .1 8 .1 0 .1-1 .1 4 .1-12 .1 9 .1-5 .1 6 .1 4 .1-5 .1 2 0-8 .1 9 .1-6 .1 7 .1-9 .1-1 .1 10 .1-5 .1-1 .1 1 .1 4 .1-2 .1-1 .1 1 .1 6 .1-14 0-1 .1 8 .1-8 .1 5 .1 3 .1 0 .1-2 .1 2 .1 2 .1-14 .1 13 .1 3 .1-11 .1 1 .1 7 .1-5 0 6 .1 3 .1-6 .1-10 .1 10 .1-2 .1-3 .1 0 .1 7 .1-1 .1 6 .1-13 .1 4 .1 1 .1 5 .1-1 .1 3 0-2 .1-1 .1-7 .1 3 .1-3 .1-4 .1 14 .1-8 .1 4 .1-9 .1-4 .1 14 .1 3 .1-3 .1 1 .1-10 0 6 .1-12 .1 10 .1 6 .1-7 .1 0 .1-1 .1 7 .1-9 .1 9 .1-2 .1-4 .1 1 .1 3 .1 3 .1-12 0 8 .1-5 .1-2 .1 6 .1-5 .1 3 .1 3 .1-1 .1 0 .1 6 .1-10 .1-2 .1 8 .1 4 .1-9 .1-1 0 4 .1 0 .1-1 .1 3 .1-7 .1 2 .1 1 .1 4 .1 4 .1-1 .1-7 .1 2 .1-2 .1 4 .1-2 .1 4 0-5 .1 5 .1-6 .1 0 .1 0 .1-4 .1 7 .1 1 .1-3 .1 3 .1-5 .1 8 .1-12 .1 10 .1-7 .1 6 0-1 .1 3 .1 6 .1-5 .1 0 .1-3 .1 0 .1-8 .1 13 .1-9 .1 2 .1 5 .1-3 .1-16 .1 14 .1 0 0 5 .1-7 .1 1 .1 0 .1-1 .1 8 .1-10 .1 5 .1 1 .1 0 .1 1 .1-5 .1 3 .1-2 .1 2 .1-3 .1-2 0 1 .1-1 .1-4 .1 0 .1 12 .1 1 .1-2 .1 2 .1-6 .1 5 .1-2 .1 6 .1-10 .1 6 .1-5 .1 6 0-6 .1 4 .1-6 .1 4 .1 3 .1-6 .1 7 .1-7 .1 3 .1-12 .1 6 .1 7 .1-5 .1 3 .1-3 .1-1 0 4 .1 5 .1-4 .1-4 .1-1 .1-9 .1 17 .1-9 .1 8 .1 1 .1-9 .1 3 .1 3 .1 0 .1 1 .1 4 0-3 .1-4 .1 3 .1-8 .1 13 .1-6 .1 9 .1-11 .1 6 .1-5 .1-1 .1-2 .1 4 .1-1 .1 6 .1-11 0 5 .1-5 .1 5 .1 3 .1-2 .1-7 .1 1 .1 3 .1-3 .1 9 .1-7 .1-2 .1 3 .1 7 .1-2 .1-7 0 1 .1 0 .1 1 .1-2 .1 1 .1 1 .1 1 .1 4 .1-7 .1-11 .1 17 .1-8 .1 4 .1 3 .1 0 .1-5 0 1 .1 4 .1 0 .1-2 .1 4 .1-1 .1-4 .1 0 .1 3 .1-9 .1 8 .1 0 .1 8 .1-12 .1 3 .1-2 0-5 .1 1 .1 5 .1-2 .1 4 .1 1 .1-2 .1 5 .1-2 .1 1 .1-6 .1-1 .1 6 .1 2 .1-8 .1 6 .1-2 0-1 .1 0 .1 1 .1 1 .1 2 .1 5 .1-10 .1-2 .1 3 .1 1 .1-2 .1-3 .1-1 .1 9 .1-10 .1 6 0 2 .1 7 .1-6 .1-4 .1 5 .1-2 .1-5 .1 6 .1-1 .1 2 .1 0 .1-4 .1 4 .1-8 .1 2 .1 3 0-8 .1 10 .1-7 .1 0 .1 5 .1-3 .1 5 .1-7 .1 3 .1-4 .1 8 .1-4 .1 6 .1 4 .1-5 .1-2 0 0 .1 3 .1-7 .1 4 .1-5 .1 1 .1 1 .1 8 .1-2 .1-1 .1-17 .1 15 .1-3 .1 3 .1-3 .1 1 0 3 .1-1 .1-2 .1 0 .1-2 .1 5 .1-1 .1 7 .1-7 .1-1 .1 2 .1 1 .1-3 .1-3 .1-3 .1 12 0-17 .1 12 .1-2 .1 1 .1 3 .1-5 .1-1 .1 5 .1-13 .1 11 .1 9 .1-9 .1 1 .1 2 .1-4 .1-7 0 5 .1 5 .1-10 .1 13 .1-8 .1 0 .1 0 .1 4 .1-8 .1 8 .1-7 .1 8 .1 0 .1-6 .1-2 .1 0 0 5 .1-7 .1 11 .1-2 .1 7 .1-11 .1 1 .1 6 .1-4 .1 6 .1-5 .1-2 .1 7 .1-5 .1-2 .1 6 .1-4 0 4 .1-6 .1-2 .1 9 .1-7 .1-8 .1 4 .1-7 .1 16 .1-13 .1-4 .1 10 .1 10 .1-5 .1-2 .1 5 0-15 .1 14 .1-1 .1 3 .1-6 .1-3 .1 4 .1-1 .1-4 .1 6 .1 2 .1 0 .1-5 .1 2 .1-3 .1 6 0-8 .1-2 .1 11 .1-5 .1 1 .1 4 .1-3 .1-15 .1 13 .1-3 .1 2 .1-3 .1 9 .1 5 .1-4 .1-7 0-2 .1 3 .1 2 .1-1 .1-5 .1-1 .1 1 .1 9 .1-3 .1-2 .1 2 .1 5 .1-4 .1 0 .1-1 .1-4 0 7 .1-2 .1 3 .1-5 .1 0 .1-2 .1 7 .1-8 .1 4 .1-10 .1 9 .1-7 .1 14 .1-6 .1-13 .1 11 0 5 .1-11 .1 7 .1-1 .1-10 .1 11 .1-2 .1-1 .1 6 .1 0 .1-4 .1 2 .1-4 .1 10 .1-13 .1 1 0 2 .1 10 .1-13 .1 6 .1-5 .1-5 .1-2 .1 10 .1 3 .1 1 .1-4 .1 5 .1-1 .1-6 .1-5 .1-6 0 19 .1-3 .1-5 .1 4 .1-2 .1 3 .1-3 .1-1 .1 5 .1-6 .1 7 .1 1 .1 3 .1-5 .1-4 .1-5 .1 7 0 3 .1 1 .1-6 .1 5 .1-2 .1-2 .1-14 .1 19 .1-7 .1-2 .1 7 .1-5 .1 8 .1-1 .1-18 .1 24 0-11 .1-1 .1 1 .1 3 .1-5 .1 0 .1 4 .1 2 .1-1 .1-4 .1-6 .1 5 .1-4 .1 1 .1 1 .1 5 0-4 .1 12 .1-3 .1-10 .1 8 .1-5 .1-6 .1 6 .1 4 .1-4 .1-3 .1-5 .1 8 .1 6 .1-11 .1 10 0 1 .1-9 .1 4 .1-4 .1 3 .1 4 .1-14 .1 10 .1 3 .1-6 .1 9 .1-7 .1 2 .1-10 .1 13 .1-3 0-5 .1 7 .1-1 .1-3 .1-3 .1-1 .1-2 .1 5 .1 0 .1-1 .1 7 .1-4 .1-3 .1 11 .1-8 .1-4 0 5 .1-4 .1 5 .1-8 .1-4 .1 19 .1-18 .1 7 .1 8 .1 0 .1-17 .1 12 .1 0 .1-4 .1 7 .1-3 0 0 .1 6 .1-11 .1 0 .1 3 .1-18 .1 18 .1 3 .1-9 .1 12 .1-3 .1 4 .1-8 .1-7 .1 12 .1-9 .1 9 0 1 .1 1 .1-12 .1 14 .1-14 .1 10 .1-4 .1 11 .1-7 .1-10 .1 15 .1-16 .1 10 .1-4 .1 9 .1-1 0-3 .1-3 .1 2 .1-12 .1 11 .1 4 .1-6 .1 1 .1 3 .1 3 .1-3 .1 1 .1 2 .1-8 .1 3 .1 0 0 2 .1 3 .1-7 .1 6 .1 0 .1-6 .1 2 .1 0 .1-11 .1 12 .1 2 .1-3 .1 3 .1-5 .1-5 .1 7 0-3 .1 3 .1 3 .1 1 .1 0 .1 0 .1-5 .1 2 .1-2 .1-4 .1 2 .1 1 .1 7 .1-17 .1 6 .1-3 0 12 .1-1 .1-4 .1 0 .1 0 .1 9 .1-9 .1-1 .1-1 .1-2 .1 3 .1 10 .1-8 .1 3 .1-9 .1 11 0 1 .1-5 .1 1 .1 3 .1-7 .1 8 .1-25 .1 7 .1 14 .1-2 .1-7 .1 11 .1-7 .1 0 .1 0 .1 5 0-7 .1 6 .1-4 .1-2 .1 0 .1 11 .1-4 .1 0 .1-2 .1 8 .1-5 .1-8 .1 6 .1 8 .1-6 .1-3 0-5 .1 10 .1-2 .1-2 .1 6 .1-4 .1 1 .1-16 .1 18 .1-6 .1 7 .1-5 .1-6 .1 7 .1 9 .1-13 .1 0 0 7 .1-7 .1-2 .1 8 .1 1 .1-4 .1 1 .1-15 .1 7 .1 10 .1-15 .1 9 .1-1 .1 3 .1 1 .1 3 0-8 .1 2 .1 3 .1 3 .1-10 .1 9 .1-2 .1-2 .1 3 .1 3 .1-5 .1-3 .1 2 .1 4 .1-11 .1 13 0-6 .1 4 .1-7 .1-2 .1 6 .1 0 .1-2 .1-4 .1-1 .1 7 .1 0 .1 2 .1 5 .1-11 .1 2 .1 3 0 2 .1 2 .1-2 .1-6 .1 4 .1 0 .1 0 .1-3 .1 5 .1-2 .1-3 .1-1 .1 7 .1-17 .1 12 .1-2 0 9 .1-5 .1-2 .1 3 .1-1 .1-1 .1-4 .1 3 .1-4 .1-7 .1 13 .1 1 .1-4 .1 4 .1-3 .1-7 0 12 .1-12 .1-3 .1 12 .1 6 .1-8 .1-1 .1 2 .1-3 .1 9 .1-5 .1 0 .1-4 .1 2 .1-1 .1 5 0-11 .1 7 .1 0 .1 1 .1-2 .1-1 .1 5 .1-7 .1 5 .1 2 .1 2 .1-3 .1 4 .1-6 .1-4 .1 5 0 1 .1 3 .1-8 .1 9 .1-7 .1 8 .1-14 .1 10 .1-11 .1 9 .1 2 .1-10 .1 6 .1 6 .1-6 .1-5 .1 12 0-5 .1 2 .1-4 .1 3 .1-2 .1-3 .1 0 .1-1 .1 11 .1-15 .1 1 .1 10 .1-8 .1 9 .1-2 .1-4 0 3 .1 4 .1-6 .1 6 .1-13 .1 3 .1 3 .1 1 .1 0 .1 6 .1-1 .1 0 .1-5 .1-9 .1 8 .1-2 0 4 .1-2 .1 2 .1-2 .1-2 .1 7 .1 3 .1-11 .1 11 .1-3 .1-6 .1 1 .1-1 .1-9 .1 12 .1 3 0-2 .1-1 .1 4 .1-6 .1-5 .1 8 .1-6 .1 8 .1 0 .1-8 .1 15 .1-5 .1 3 .1-15 .1 10 .1-3 0 1 .1-3 .1-7 .1 7 .1 3 .1 0 .1-4 .1 7 .1-3 .1-2 .1 1 .1 1 .1 2 .1-6 .1 0 .1 4 0 1 .1 5 .1-4 .1-15 .1 18 .1-7 .1-2 .1 1 .1 8 .1-8 .1-3 .1-1 .1 14 .1-9 .1 0 .1-5 0-4 .1 11 .1 1 .1-12 .1 20 .1-7 .1-2 .1 4 .1-3 .1 0 .1 2 .1-5 .1 2 .1-1 .1 7 .1-4 0-3 .1 1 .1 5 .1-4 .1-4 .1 2 .1 0 .1-6 .1 2 .1 9 .1-9 .1 5 .1 3 .1-1 .1-2 .1 1 .1-1 0-3 .1 3 .1 3 .1-2 .1 1 .1 1 .1-7 .1 2 .1-2 .1 2 .1 4 .1-2 .1-4 .1 8 .1-12 .1 5 0 1 .1-2 .1 3 .1 0 .1-1 .1-2 .1 7 .1-4 .1-4 .1 3 .1 3 .1-12 .1 10 .1-4 .1 6 .1-4 0 8 .1-3 .1-7 .1 3 .1-1 .1 0 .1-7 .1 11 .1 2 .1-4 .1-12 .1 14 .1 0 .1-4 .1 5 .1-1 0-3 .1-4 .1 4 .1 6 .1-9 .1 10 .1-14 .1 4 .1 2 .1 5 .1-7 .1 8 .1-3 .1-2 .1-5 .1 6 0 5 .1-6 .1 4 .1 3 .1-7 .1 1 .1-2 .1 7 .1 0 .1-6 .1 3 .1 2 .1-3 .1-10 .1 12 .1 0 0-1 .1-3 .1-7 .1 8 .1 3 .1-1 .1-6 .1 12 .1-4 .1-3 .1 5 .1-4 .1-1 .1 0 .1-13 .1 12 0 2 .1-7 .1 5 .1 7 .1-6 .1 2 .1 3 .1-7 .1 1 .1-3 .1 11 .1-5 .1-1 .1-7 .1 8 .1 0 .1-8 0 6 .1 1 .1-2 .1-1 .1 4 .1-5 .1-8 .1 11 .1 1 .1-2 .1-1 .1 0 .1 2 .1-1 .1-2 .1-1 0 2 .1-3 .1 3 .1 1 .1-4 .1-3 .1 14 .1-4 .1-15 .1 20 .1-7 .1-9 .1 7 .1 5 .1 5 .1-14 0 4 .1-1 .1 2 .1-3 .1 1 .1 12 .1-19 .1 0 .1 15 .1 1 .1-2 .1 1 .1-8 .1 5 .1 0 .1-6 0-3 .1 8 .1 4 .1-2 .1-4 .1 4 .1-2 .1-8 .1 5 .1 4 .1-5 .1 2 .1-1 .1-11 .1 16 .1 2 0-6 .1 0 .1-5 .1 9 .1-10 .1 13 .1-7 .1 1 .1-2 .1-7 .1 8 .1-2 .1 4 .1 0 .1 4 .1-8 0 1 .1 5 .1-3 .1 8 .1-11 .1 2 .1-2 .1 5 .1 0 .1 1 .1-13 .1 10 .1 3 .1-3 .1 0 .1-6 0 5 .1 1 .1-5 .1 3 .1 7 .1-4 .1-4 .1 1 .1 6 .1-6 .1 1 .1-2 .1 0 .1 3 .1-2 .1-3 0 4 .1 4 .1-2 .1-7 .1 4 .1 3 .1-7 .1 5 .1 7 .1-13 .1 14 .1-11 .1 5 .1-3 .1 4 .1-12 .1 11 0-5 .1 0 .1 5 .1 2 .1-8 .1 10 .1-14 .1 11 .1 1 .1-5 .1 6 .1-2 .1-3 .1 2 .1-9 .1 7 0 2 .1-3 .1 2 .1-9 .1-1 .1 11 .1-4 .1-8 .1 17 .1-5 .1 6 .1-1 .1-4 .1-4 .1 1 .1 2 0 2 .1-5 .1-1 .1 2 .1 5 .1-3 .1-2 .1 1 .1 0 .1 5 .1-14 .1 7 .1-1 .1 0 .1 7 .1-1 0 2 .1-8 .1 2 .1-3 .1 6 .1 1 .1 1 .1-9 .1 7 .1-2 .1 0 .1 0 .1-7 .1 12 .1-2 .1-19 0 19 .1-6 .1 3 .1 5 .1-2 .1-8 .1 7 .1-5 .1-6 .1 6 .1 2 .1-5 .1 1 .1-2 .1 9 .1-2 0-1 .1 3 .1 3 .1 4 .1-12 .1 8 .1-6 .1 1 .1-14 .1 0 .1 3 .1 12 .1-8 .1 10 .1-4 .1 2 0 0 .1 0 .1-5 .1 3 .1-5 .1 2 .1 8 .1-6 .1 6 .1-6 .1 1 .1-2 .1 5 .1 3 .1-2 .1-3 0 1 .1-6 .1 3 .1-2 .1 2 .1-3 .1-2 .1 13 .1-7 .1 1 .1 2 .1-6 .1 5 .1-11 .1 0 .1 14 .1-7 0 1 .1-6 .1 7 .1-6 .1-2 .1 6 .1 0 .1 5 .1-2 .1-4 .1-3 .1 7 .1 4 .1 1 .1-11 .1-1 0-1 .1 8 .1-1 .1 0 .1-1 .1 0 .1-5 .1 14 .1-11 .1 0 .1-1 .1 11 .1-6 .1 6 .1-3 .1 0 0-2 .1 2 .1-2 .1-1 .1-7 .1 2 .1 10 .1-11 .1 6 .1 0 .1-3 .1 4 .1-7 .1 7 .1-4 .1 6 0-1 .1 1 .1-3 .1-9 .1 8 .1-3 .1 4 .1 4 .1-5 .1 3 .1-5 .1 3 .1 2 .1-3 .1-3 .1 4 0-6 .1 0 .1 4 .1 3 .1 2 .1-5 .1 3 .1-6 .1-2 .1 11 .1-10 .1 5 .1-7 .1 16 .1-4 .1-6 0 5 .1-10 .1 9 .1-9 .1-1 .1 9 .1-3 .1-1 .1 5 .1 2 .1 0 .1-2 .1-5 .1 8 .1-1 .1-3 0-2 .1 5 .1-6 .1 5 .1 2 .1-8 .1 2 .1-5 .1 3 .1 0 .1 1 .1 7 .1-10 .1-1 .1 9 .1-7 0 9 .1-10 .1-3 .1 1 .1 7 .1-3 .1 1 .1 3 .1-1 .1 0 .1-2 .1 6 .1-2 .1-5 .1 8 .1 4 .1-12 0 1 .1 4 .1 1 .1-3 .1-3 .1 1 .1 1 .1 1 .1-14 .1 16 .1 4 .1-6 .1-2 .1 2 .1 1 .1 1 0 4 .1-6 .1-2 .1 4 .1-1 .1-2 .1 5 .1-2 .1-6 .1 7 .1-2 .1 0 .1-2 .1-3 .1 6 .1-4 0 7 .1-6 .1 2 .1 3 .1-6 .1 0 .1 5 .1-11 .1 8 .1 1 .1-4 .1-1 .1-7 .1 10 .1-3 .1 2 0 0 .1-1 .1 4 .1-6 .1 3 .1-6 .1 5 .1-1 .1-3 .1 3 .1 7 .1-2 .1 2 .1-6 .1 5 .1-3 0 4 .1-1 .1 0 .1-3 .1-5 .1 11 .1 1 .1-10 .1 6 .1-4 .1-1 .1 3 .1-2 .1 3 .1 7 .1-7 0-10 .1 9 .1 3 .1 2 .1-7 .1 4 .1-3 .1-6 .1 8 .1-10 .1 10 .1-5 .1-7 .1 11 .1 2 .1-1 0-3 .1-9 .1 14 .1-3 .1-4 .1-2 .1-2 .1 6 .1 5 .1-2 .1-2 .1-2 .1 3 .1-1 .1-2 .1-6 .1 18 0-8 .1-3 .1 4 .1-2 .1-4 .1-6 .1 8 .1-4 .1 4 .1-4 .1 13 .1-4 .1-8 .1 6 .1-3 .1-5 0 2 .1 1 .1 3 .1-3 .1 3 .1-10 .1 9 .1 2 .1-3 .1 5 .1-11 .1-2 .1 11 .1 0 .1-7 .1 9 0-2 .1 4 .1-3 .1-5 .1 10 .1-8 .1-3 .1 8 .1 2 .1-4 .1 0 .1 3 .1-13 .1 11 .1-6 .1 0 0-1 .1 4 .1 7 .1-7 .1 8 .1-18 .1 4 .1 6 .1 5 .1 2 .1-8 .1 3 .1-3 .1 3 .1-4 .1 5 0 0 .1-5 .1 0 .1 3 .1-4 .1 2 .1 1 .1-4 .1 2 .1 5 .1 3 .1-18 .1 14 .1-4 .1 4 .1-6 0 4 .1-6 .1 6 .1-2 .1 2 .1-1 .1 2 .1 1 .1-9 .1 10 .1-5 .1 4 .1 6 .1-11 .1-5 .1 6 0-6 .1 13 .1-6 .1-3 .1 7 .1-6 .1-1 .1 5 .1-3 .1 0 .1 3 .1-9 .1 4 .1 3 .1-4 .1 3 0-2 .1 3 .1 1 .1-8 .1 7 .1 5 .1-3 .1-4 .1 6 .1-7 .1-5 .1 14 .1-4 .1-1 .1 0 .1-1 .1 0 0 2 .1 0 .1-1 .1 0 .1 2 .1-8 .1 10 .1-4 .1 3 .1-3 .1 6 .1-8 .1 0 .1 6 .1-9 .1 9 0-5 .1 1 .1 1 .1-1 .1 2 .1 3 .1-5 .1-6 .1 7 .1-5 .1 3 .1-2 .1 7 .1 0 .1-10 .1 1 0 3 .1 2 .1 1 .1-6 .1 2 .1 10 .1-12 .1-5 .1 6 .1 6 .1-13 .1 15 .1-1 .1-4 .1 0 .1 5 0-10 .1 3 .1 3 .1-5 .1-7 .1 13 .1-4 .1-4 .1 8 .1-1 .1-2 .1-3 .1 4 .1 0 .1-6 .1 9 0-7 .1 5 .1 3 .1-2 .1-6 .1 0 .1 2 .1 5 .1-1 .1-5 .1 5 .1-1 .1-7 .1 0 .1 11 .1 1 0-1 .1-7 .1 2 .1 2 .1-10 .1 4 .1 3 .1 6 .1-3 .1-3 .1 7 .1-11 .1 9 .1-9 .1 8 .1-6 0 15 .1-21 .1 6 .1-2 .1 7 .1 1 .1 1 .1-4 .1-10 .1 0 .1 8 .1 9 .1-3 .1-5 .1-5 .1 6 0 2 .1-17 .1 13 .1 7 .1-9 .1-4 .1-1 .1 8 .1 4 .1-8 .1 4 .1-3 .1 9 .1-5 .1-5 .1 7 .1-3 0-5 .1 11 .1-5 .1-1 .1 8 .1-21 .1 9 .1 6 .1-6 .1 9 .1-2 .1-11 .1 13 .1-1 .1-7 .1-4 0 8 .1 0 .1 4 .1 6 .1-9 .1-2 .1 2 .1 7 .1-25 .1 19 .1 4 .1 2 .1-9 .1-7 .1 1 .1 11 0 1 .1-5 .1 4 .1-4 .1 3 .1-3 .1-1 .1 5 .1-9 .1 4 .1 3 .1-4 .1 11 .1-5 .1-7 .1-6 0 10 .1-2 .1 5 .1 4 .1-15 .1 10 .1-6 .1 6 .1 5 .1-7 .1 0 .1 1 .1-4 .1 9 .1-7 .1-1 0 11 .1-12 .1 6 .1 2 .1-4 .1 2 .1-3 .1-4 .1 9 .1-6 .1 3 .1 3 .1-13 .1 10 .1 1 .1-2 0 0 .1-2 .1-1 .1-1 .1 3 .1-1 .1-3 .1 11 .1-10 .1 1 .1-5 .1-1 .1 7 .1 0 .1 1 .1-3 0 5 .1-1 .1-1 .1 1 .1-10 .1 15 .1-1 .1 1 .1-7 .1-1 .1 5 .1-1 .1-10 .1 6 .1 5 .1-9 0 5 .1 0 .1 4 .1-11 .1 7 .1 1 .1 0 .1-6 .1 9 .1-10 .1 7 .1-5 .1-2 .1 1 .1 11 .1-7 .1 5 0-12 .1 10 .1 5 .1-2 .1-9 .1 7 .1-7 .1 8 .1-1 .1 2 .1 4 .1-5 .1-4 .1-3 .1 6 .1-6 0 4 .1-4 .1 3 .1-9 .1 9 .1 2 .1-5 .1 3 .1 5 .1-2 .1 1 .1-2 .1 2 .1-3 .1-1 .1-1 0 3 .1-3 .1 8 .1-15 .1 8 .1-4 .1 5 .1 1 .1 4 .1 0 .1-4 .1-9 .1 6 .1 2 .1 7 .1-8 0 2 .1-2 .1 1 .1-1 .1 4 .1-4 .1-5 .1 2 .1 6 .1 5 .1-2 .1-6 .1-4 .1 6 .1-1 .1 4 0-5 .1 0 .1-3 .1 10 .1-6 .1 4 .1-6 .1 1 .1 5 .1-7 .1 8 .1-8 .1 2 .1-1 .1 4 .1 0 0-1 .1-2 .1 2 .1-5 .1 1 .1 1 .1 2 .1 9 .1-16 .1 5 .1 1 .1-3 .1-2 .1 1 .1 1 .1 4 0 10 .1-7 .1-7 .1 12 .1-11 .1 7 .1 0 .1-15 .1 13 .1 0 .1-6 .1 6 .1-2 .1 2 .1 3 .1-10 .1 5 0 4 .1 2 .1-9 .1-4 .1 9 .1 4 .1-6 .1 3 .1 2 .1-5 .1-1 .1-2 .1 1 .1-9 .1 10 .1-3 0 8 .1-10 .1 11 .1 0 .1-2 .1-10 .1 5 .1 4 .1-2 .1 0 .1-13 .1 8 .1 9 .1 0 .1-4 .1 0 0-2 .1 8 .1-7 .1 10 .1-12 .1-1 .1 5 .1-3 .1 7 .1-1 .1-6 .1 7 .1 0 .1-17 .1 0 .1 15 0-3 .1-6 .1 9 .1-3 .1 4 .1-8 .1-2 .1 4 .1 4 .1 4 .1-9 .1 7 .1-8 .1 5 .1-5 .1 4 0-3 .1 4 .1 3 .1-2 .1 0 .1-2 .1 1 .1 0 .1-1 .1 0 .1-8 .1 0 .1 17 .1-8 .1 3 .1-2 0-10 .1 12 .1-1 .1-4 .1 2 .1 0 .1 1 .1 8 .1-14 .1 2 .1 4 .1-10 .1 10 .1-1 .1-6 .1 4 0 8 .1-9 .1 0 .1 2 .1 2 .1-4 .1 5 .1-10 .1 7 .1-2 .1-11 .1 19 .1-2 .1-14 .1 5 .1 8 0-7 .1 6 .1 8 .1-18 .1 4 .1 6 .1-5 .1 5 .1-2 .1 0 .1-4 .1 6 .1-14 .1 8 .1 8 .1-10 .1 10 0-13 .1 10 .1-3 .1-7 .1 10 .1-1 .1-5 .1 10 .1-6 .1 1 .1-5 .1 1 .1 5 .1-1 .1-2 .1 0 0-1 .1-6 .1 11 .1-2 .1 1 .1 0 .1-3 .1 6 .1-3 .1 1 .1 5 .1-10 .1-3 .1 5 .1 2 .1 3 0-14 .1 12 .1-3 .1-5 .1 7 .1 2 .1 2 .1-12 .1 10 .1-6 .1 6 .1-4 .1-12 .1 5 .1 3 .1 7 0 1 .1-7 .1 7 .1-2 .1-2 .1-2 .1 0 .1 1 .1-7 .1 9 .1-6 .1 1 .1-7 .1 13 .1 0 .1-1 0-7 .1 6 .1-1 .1 5 .1-7 .1 1 .1 1 .1-2 .1-4 .1 6 .1 1 .1-3 .1 7 .1-5 .1-3 .1 3 0-1 .1-1 .1 6 .1-2 .1-3 .1 4 .1 0 .1-6 .1 5 .1 2 .1-3 .1-4 .1 5 .1-6 .1 3 .1-5 0 6 .1-1 .1-3 .1 0 .1 5 .1 6 .1-10 .1 8 .1-8 .1 6 .1 0 .1 2 .1-8 .1 6 .1-9 .1 4 0 8 .1-9 .1 9 .1-7 .1-1 .1 11 .1-11 .1-5 .1 8 .1 7 .1 0 .1-10 .1 5 .1-10 .1 2 .1 8 .1-4 0-7 .1 9 .1 7 .1-11 .1-5 .1 5 .1 9 .1-7 .1 5 .1-4 .1 2 .1 6 .1-16 .1 9 .1-2 .1 0 0-2 .1 11 .1-12 .1 8 .1 0 .1-17 .1 14 .1 3 .1-7 .1 3 .1 8 .1-17 .1 14 .1-11 .1 6 .1-4 0 7 .1-2 .1 3 .1 5 .1-16 .1 9 .1-1 .1 3 .1-3 .1 6 .1-14 .1 6 .1 3 .1-2 .1 3 .1 2 0-12 .1 2 .1 1 .1-4 .1 8 .1 6 .1 2 .1-5 .1-1 .1-5 .1 3 .1 3 .1-1 .1-9 .1 11 .1-3 0-2 .1-2 .1 5 .1 0 .1 2 .1-3 .1 1 .1-6 .1 8 .1-10 .1 6 .1-12 .1 8 .1 8 .1 0 .1-1 0 2 .1-1 .1 0 .1-2 .1 5 .1-4 .1-1 .1-2 .1 2 .1-5 .1 10 .1-7 .1 4 .1-14 .1 17 .1-5 0-5 .1 4 .1-14 .1 19 .1-9 .1 4 .1 0 .1-1 .1-5 .1 9 .1-4 .1-10 .1 10 .1-5 .1 1 .1 5 0-2 .1-3 .1 1 .1 9 .1-18 .1 11 .1-1 .1 3 .1 7 .1-6 .1-1 .1 2 .1-3 .1 8 .1-5 .1-5 .1 8 0-2 .1-3 .1 8 .1-6 .1-3 .1-2 .1-7 .1 7 .1 6 .1-7 .1-2 .1 12 .1-4 .1-21 .1 21 .1 2 0 3 .1-9 .1-6 .1 7 .1 5 .1 0 .1-2 .1 6 .1-10 .1 7 .1-3 .1-5 .1-4 .1 8 .1-3 .1 0 0 5 .1-5 .1 4 .1 2 .1-11 .1 10 .1-5 .1-2 .1-5 .1 13 .1-9 .1 10 .1-10 .1 13 .1-10 .1-6 0 11 .1 1 .1-5 .1-1 .1 1 .1 1 .1 1 .1 3 .1-8 .1 13 .1-16 .1 6 .1 4 .1 1 .1-16 .1 13 0-5 .1 6 .1-2 .1 2 .1 3 .1-12 .1 5 .1-1 .1 2 .1-5 .1 11 .1-14 .1 9 .1 0 .1 1 .1-5 0 12 .1-8 .1-1 .1 7 .1-4 .1 2 .1-12 .1-7 .1 22 .1-9 .1 2 .1 2 .1-10 .1 6 .1 2 .1-5 0 1 .1 11 .1-11 .1 0 .1 6 .1-6 .1 3 .1-2 .1 11 .1-17 .1 11 .1-1 .1-2 .1 0 .1-2 .1-12 .1 22 0-10 .1 4 .1-3 .1-2 .1 10 .1-3 .1-5 .1-2 .1 6 .1 0 .1 3 .1-12 .1-1 .1 9 .1-3 .1 7 0-4 .1 4 .1-4 .1-4 .1 1 .1 1 .1 5 .1 2 .1-5 .1 3 .1-7 .1-3 .1 9 .1 3 .1-4 .1-5 0 1 .1-5 .1 16 .1-5 .1-5 .1-5 .1 8 .1-4 .1-1 .1 6 .1-4 .1 2 .1-1 .1-1 .1 1 .1-5 0 7 .1-12 .1 7 .1 3 .1-5 .1 8 .1 4 .1-6 .1 6 .1-6 .1-10 .1 14 .1-8 .1 2 .1 7 .1-5 0-9 .1 6 .1-1 .1 3 .1-1 .1 0 .1-1 .1 8 .1-7 .1 8 .1-12 .1 7 .1 3 .1 4 .1-15 .1 8 0 8 .1-9 .1-4 .1 4 .1 3 .1-3 .1 1 .1 0 .1 5 .1-6 .1-6 .1 9 .1-9 .1-5 .1 9 .1 0 0-9 .1 10 .1 2 .1-1 .1-3 .1 6 .1-9 .1 0 .1 4 .1 6 .1-9 .1 8 .1-2 .1 1 .1-10 .1 7 0-4 .1 4 .1 10 .1-16 .1 10 .1 0 .1-7 .1-2 .1 6 .1-6 .1 7 .1 2 .1-9 .1 11 .1-4 .1 0 .1-8 0 4 .1 1 .1 5 .1 1 .1-9 .1 3 .1-4 .1 5 .1 4 .1-6 .1-6 .1 13 .1-3 .1 1 .1-7 .1 8 0-5 .1 0 .1-4 .1 6 .1 1 .1 2 .1-3 .1 0 .1-10 .1 8 .1 7 .1 1 .1-11 .1 3 .1-3 .1 2M176 440l0 0M182 442l0 0M530 449l0 0M535 447l0 0M616.6 365.1l0 0M650.5 420.9l0 0M524.3 432.8l0 0M429.7 456.6l0 0M397.8 465.7l0 0M558.3 445.7l0 0M572.3 438.5l0 0M739 437.5l0 0M775 442.6l0 0M812 440.6l0 0M851 440.6l0 0M858.3 439.5l0 0" fill="none" stroke="none" marker-start="url(#mp)" marker-mid="url(#mp)" marker-end="url(#mp)"/>
<path d="M129.5 534l.1 5 .1-12 .1 18 .1-11 .1-4 .1 2 .1 1 .1 1 0-6 .1 10 .1-10 .1 3 .1 2 .1-2 .1 12 .1-7 .1-10 .1 8 .1-7 .1 15 .1-7 .1-3 .1 9 .1-15 0 2 .1 5 .1-4 .1 4 .1 1 .1 1 .1-1 .1-7 .1 12 .1 4 .1-5 .1-8 .1 4 .1 3 .1-9 .1 11 0 3 .1-3 .1 0 .1-9 .1-2 .1 8 .1 0 .1 0 .1-5 .1 12 .1-5 .1-1 .1 3 .1-10 .1-1 .1 5 0 5 .1-2 .1 10 .1-14 .1-3 .1 1 .1-1 .1-3 .1 7 .1-4 .1-2 .1 9 .1 0 .1-14 .1 6 .1 5 0 3 .1-1 .1-2 .1 9 .1-13 .1-3 .1-2 .1 3 .1 8 .1-1 .1-4 .1 2 .1 3 .1-10 .1 9 .1 1 0 7 .1-11 .1 0 .1 1 .1 2 .1-8 .1 11 .1 7 .1-13 .1 2 .1 2 .1-5 .1 0 .1 4 .1-9 .1 12 0-1 .1-1 .1 9 .1-19 .1 9 .1 5 .1-1 .1-6 .1-7 .1 7 .1-2 .1 6 .1-1 .1-8 .1 1 .1 4 0 2 .1-6 .1 10 .1-2 .1-10 .1 3 .1 5 .1-4 .1-2 .1 1 .1 9 .1-13 .1 2 .1 2 .1-4 .1 21 .1-6 0-11 .1 1 .1 0 .1 2 .1-13 .1 12 .1 5 .1 6 .1-10 .1-1 .1-1 .1-1 .1 6 .1-9 .1 2 .1 11 0 1 .1-8 .1 1 .1-5 .1 13 .1-8 .1 0 .1 4 .1-4 .1-5 .1 10 .1 1 .1-14 .1 5 .1 9 .1-7 0 5 .1-7 .1 3 .1 12 .1-19 .1 11 .1-5 .1-5 .1-1 .1 7 .1 3 .1-6 .1 6 .1 5 .1-12 .1 0 0-3 .1 14 .1 3 .1-13 .1-7 .1 12 .1 0 .1 1 .1 2 .1-11 .1 7 .1 0 .1-4 .1 9 .1-6 .1-6 0-3 .1 5 .1 11 .1-6 .1 7 .1-6 .1 1 .1-3 .1 3 .1-8 .1 3 .1 5 .1-17 .1 10 .1-7 .1 16 0-5 .1 1 .1 2 .1-3 .1 6 .1-14 .1 5 .1-7 .1 8 .1 4 .1-3 .1 1 .1 8 .1-10 .1 1 .1-6 0 3 .1 0 .1-4 .1 10 .1-1 .1-9 .1 7 .1 0 .1-1 .1-1 .1 4 .1 6 .1-9 .1-1 .1-2 .1 6 0 0 .1-8 .1 1 .1 4 .1-6 .1 19 .1-17 .1 9 .1-5 .1 5 .1-10 .1-2 .1 15 .1-7 .1-1 .1 2 .1-3 0 3 .1-4 .1 2 .1 0 .1 2 .1 10 .1-16 .1 3 .1 8 .1-6 .1-4 .1 16 .1-15 .1 5 .1 2 .1-10 0 2 .1 7 .1-2 .1-2 .1 3 .1-5 .1-2 .1 1 .1 3 .1-11 .1 20 .1-7 .1-3 .1 3 .1-13 .1 14 0-1 .1-3 .1 0 .1-1 .1-6 .1 13 .1-4 .1 8 .1-1 .1-6 .1-5 .1 2 .1 1 .1 5 .1-6 .1 16 0-10 .1-5 .1-7 .1 6 .1 1 .1 4 .1 0 .1-1 .1-2 .1-1 .1 0 .1-4 .1 2 .1 0 .1-1 .1 5 0 4 .1-4 .1-8 .1 13 .1-9 .1 6 .1 1 .1-1 .1-5 .1 3 .1-3 .1-1 .1 3 .1-2 .1-5 .1 5 0 0 .1-3 .1 5 .1-4 .1 1 .1 3 .1-1 .1-3 .1 1 .1 15 .1-16 .1 15 .1-13 .1 3 .1-2 .1-2 0 4 .1 3 .1-1 .1 0 .1-1 .1-2 .1-2 .1 1 .1-3 .1 8 .1-4 .1 2 .1-4 .1-4 .1 1 .1 6 .1-3 0-4 .1 8 .1-1 .1-7 .1 3 .1 4 .1-6 .1 6 .1-9 .1 17 .1-13 .1 9 .1-13 .1 8 .1-4 .1 9 0-7 .1-2 .1 9 .1 6 .1-13 .1-1 .1 6 .1-13 .1 6 .1 5 .1 6 .1-13 .1 5 .1 3 .1-8 .1 5 0-2 .1-5 .1 5 .1-4 .1 8 .1-2 .1-4 .1-2 .1 4 .1 8 .1 6 .1-19 .1 8 .1 0 .1 5 .1-8 0-5 .1 6 .1-3 .1 6 .1 1 .1-9 .1 1 .1 1 .1 12 .1-11 .1 0 .1 5 .1-2 .1-1 .1-9 .1 16 0-3 .1-7 .1 2 .1 5 .1-7 .1 1 .1-9 .1 14 .1-5 .1 0 .1 5 .1 0 .1-7 .1-3 .1 10 .1-5 0 4 .1-2 .1-11 .1 14 .1-4 .1 7 .1-10 .1 1 .1 4 .1-2 .1 5 .1-5 .1-5 .1 0 .1 10 .1 3 0-11 .1 8 .1-8 .1 5 .1-2 .1-1 .1 2 .1-8 .1 7 .1 8 .1-8 .1-2 .1-3 .1-3 .1 11 .1-8 0 5 .1-1 .1-3 .1-4 .1 8 .1 6 .1-8 .1-4 .1 9 .1-3 .1 0 .1-7 .1 2 .1 1 .1 10 .1-3 .1 0 0 4 .1-8 .1 4 .1-3 .1-1 .1 9 .1-8 .1 1 .1-1 .1 9 .1-13 .1 2 .1-8 .1 15 .1 5 .1-17 0 8 .1 6 .1-2 .1-5 .1-3 .1 9 .1-5 .1-4 .1 2 .1 6 .1 1 .1-7 .1-2 .1 15 .1-7 .1-2 0 0 .1-8 .1 3 .1 7 .1 0 .1 5 .1-7 .1 2 .1-9 .1-4 .1 16 .1 7 .1-16 .1-5 .1 6 .1-5 0 8 .1-6 .1 6 .1-8 .1-2 .1 5 .1 4 .1-6 .1 14 .1-10 .1-5 .1 1 .1 6 .1-2 .1 6 .1-9 0 1 .1-1 .1 6 .1 4 .1-2 .1 0 .1-5 .1 15 .1-16 .1-3 .1-6 .1 9 .1 2 .1 4 .1-2 .1-6 0 2 .1-1 .1 1M186.5 572l.1-6 .1 3 .1-4 .1 5 .1-1 .1 6 .1 2 .1-8 0 1 .1-5 .1 3 .1-10 .1 14 .1 7 .1-8 .1 0 .1-5 .1 4 .1-1 .1 6 .1 1 .1-8 .1 6 .1-8 0 3 .1-3 .1-4 .1 8 .1 3 .1-14 .1 10 .1-3 .1-2 .1-1 .1 5 .1 1 .1 6 .1-3 .1-3 .1-1 0 1 .1-6 .1 13 .1-1 .1-4 .1-11 .1 15 .1-6 .1 0 .1-4 .1 8 .1-10 .1 10 .1-4 .1 6 .1-1 0-14 .1 16 .1-1 .1-12 .1 10 .1-6 .1 4 .1-2 .1 0 .1 3 .1-9 .1 11 .1-16 .1 12 .1 8 .1-9 0 5 .1-3 .1 7 .1-1 .1-5 .1-2 .1-7 .1 2 .1 3 .1-4 .1 10 .1-1 .1-8 .1 1 .1 4 .1 14 0-3 .1-10 .1-8 .1 1 .1 13 .1-14 .1 14 .1-10 .1 0 .1-2 .1 5 .1 1 .1 10 .1-8 .1-8 .1-1 0 1 .1-1 .1 8 .1-7 .1 20 .1-15 .1 7 .1-11 .1 1 .1 3 .1-1 .1 1 .1-1 .1-2 .1-1 .1 5 0-7 .1 4 .1 5 .1 8 .1-20 .1 0 .1 7 .1 6 .1 0 .1-9 .1 7 .1-7 .1 11 .1 3 .1-9 .1-6 .1 17 0-2 .1-16 .1 6 .1 4 .1 6 .1-11 .1 3 .1 1 .1-3 .1 9 .1-7 .1-12 .1 7 .1-7 .1 15 .1-3 0-2 .1 9 .1-7 .1-4 .1 4 .1-2 .1-1 .1 1 .1 2 .1-2 .1 7 .1-15 .1 8 .1 2 .1-1 .1-4 0-3 .1 17 .1-14 .1 11 .1-6 .1-6 .1 3 .1-3 .1 5 .1-4 .1 4 .1-2 .1 0 .1-8 .1 3 .1 3 0 10 .1-1 .1-12 .1 2 .1 7 .1-3 .1 3 .1-5 .1-1 .1 5 .1 1 .1-7 .1-4 .1 5 .1 0 .1-1 0 4 .1-6 .1 4 .1 2 .1 8 .1-11 .1-2 .1 7 .1-3 .1 9 .1 8 .1-20 .1 14 .1-9 .1 3 .1-5 0 4 .1-11 .1 7 .1 4 .1-10 .1 7 .1 0 .1-2 .1 3 .1-8 .1 5 .1-4 .1 0 .1 2 .1 4 .1 7 0 2 .1-10 .1-4 .1-2 .1 5 .1 1 .1 7 .1-8 .1 10 .1-2 .1-17 .1 3 .1-1 .1 6 .1 11 .1-9 0 1 .1 2 .1-4 .1 5 .1-3 .1 7 .1-9 .1 3 .1-7 .1 5 .1-1 .1 9 .1-1 .1-4 .1 7 .1-22 .1 10 0 5 .1-5 .1 1 .1 3 .1 14 .1-14 .1-6 .1 4 .1 0 .1 9 .1-13 .1 9 .1 9 .1-6 .1-9 .1 5 0-5 .1 3 .1-2 .1 6 .1-4 .1 12 .1-13 .1 1 .1 2 .1-7 .1-6 .1 10 .1-1 .1 1 .1-2 .1 1 0 5 .1-9 .1-2 .1 0 .1 8 .1 1 .1-8 .1 17 .1-13 .1-3 .1 2 .1 5 .1-6 .1 7 .1 1 .1-4 0 7 .1-6 .1-6 .1 10 .1-8 .1 18 .1-12 .1-8 .1 15 .1-9 .1-1 .1 0 .1-3 .1-1 .1 2 .1 3 0-3 .1 8 .1-3 .1-9 .1 12 .1-6 .1 6 .1-7 .1-1 .1-3 .1 0 .1 6 .1-7 .1 4 .1-2 .1 2 0 9 .1-11 .1-2 .1 6 .1-4 .1 2 .1 1 .1 2 .1 5 .1-4 .1-4 .1 7 .1-4 .1 1 .1 0 .1 6 0-11 .1-2 .1 5 .1-10 .1 14 .1-3 .1-8 .1 4 .1 4 .1 2 .1 5 .1-5 .1-1 .1-3 .1 10 .1-1 .1-5 0-14 .1 10 .1 6 .1 1 .1 4 .1-11 .1 8 .1-12 .1 11 .1-9 .1 3 .1 2 .1-6 .1 11 .1-8 .1-1 0 8 .1-11 .1 9 .1-4 .1 0 .1 5 .1-6 .1-4 .1 3 .1-4 .1 4 .1 6 .1-5 .1-3 .1 2 .1 5 0-6 .1 6 .1-6 .1 3 .1 7 .1-8 .1 7 .1-10 .1 8 .1-3 .1-4 .1 4 .1 3 .1-13 .1 5 .1 1 0 8 .1-7 .1-3 .1 0 .1 2 .1 5 .1-8 .1-2 .1 4 .1 3 .1 7 .1-1 .1-3 .1-8 .1 2 .1 14 0-6 .1-4 .1-1 .1-5 .1 11 .1-3 .1-5 .1 2 .1 2 .1-3 .1-9 .1 8 .1 10 .1-11 .1 0 .1 2 0 3 .1-2 .1 4 .1-6 .1-3 .1 9 .1-3 .1 1 .1 3 .1-10 .1 8 .1-3 .1 2 .1-6 .1 0 .1 1 0 4 .1-6 .1 3 .1 7 .1-13 .1 5 .1 10 .1-10 .1-5 .1 8 .1-2 .1-3 .1 15 .1-3 .1-9 .1-1 0 7 .1 2 .1-5 .1 2 .1-12 .1 20 .1-7 .1-1 .1 13 .1-18 .1 4 .1-6 .1 0 .1 5 .1 9 .1-8 .1-2 0 3 .1-8 .1 1 .1 8 .1-2 .1 10 .1-11 .1 4 .1-12 .1 4 .1 1 .1 7 .1-1 .1-5 .1-4 .1 0 0 10 .1-16 .1 19 .1-14 .1 12 .1-9 .1 9 .1-3 .1-12 .1 9 .1-6 .1-3 .1 5 .1 9 .1-6 .1-3 0 1 .1 5 .1 1 .1-4 .1 4 .1-5 .1 11 .1-13 .1-3 .1 2 .1 5 .1-4 .1 6 .1 3 .1-2 .1 2 0-5 .1 4 .1 4 .1-12 .1 4 .1 0 .1 9 .1-11 .1 1 .1 1 .1-3 .1 13 .1 3 .1-10 .1-14 .1 19 0-4 .1-5 .1 11 .1-12 .1 7 .1-11 .1 14 .1-6 .1-11 .1 7 .1-2 .1 1 .1 1 .1 0 .1-4 .1 10 0 9 .1-22 .1 11 .1-10 .1 10 .1-6 .1-1 .1 2 .1-1 .1 10 .1-11 .1 5 .1-7 .1 3 .1 5 .1 2 0-11 .1 10 .1 2 .1-10 .1 1 .1 10 .1-7 .1 6 .1-4 .1-3 .1 5 .1 8 .1-9 .1 5 .1 6 .1-19 0 4 .1 2 .1-5 .1 0 .1 2 .1 7 .1-3 .1-4 .1 6 .1-7 .1-7 .1 15 .1 3 .1-4 .1-7 .1 8 .1 0 0-2 .1-8 .1 12 .1-7 .1 3 .1 4 .1-9 .1 8 .1-7 .1 10 .1-5 .1-8 .1 4 .1-5 .1 8 .1 2 0-3 .1 1 .1-4 .1-1 .1 1 .1 4 .1-4 .1-1 .1 3 .1-3 .1 1 .1-2 .1 4 .1 3 .1-6 .1 3 0 3 .1 4 .1-5 .1-7 .1-3 .1 8 .1-2 .1 7 .1 2 .1-13 .1-1 .1 4 .1 5 .1-4 .1-6 .1 10 0-4 .1 1 .1 2 .1-2 .1 4 .1-7 .1 6 .1 0 .1-5 .1 15 .1-14 .1-4 .1-3 .1 9 .1-2 .1 4 0-2 .1-7 .1 6 .1 9 .1-11 .1 3 .1-1 .1 2 .1 0 .1 3 .1 7 .1-6 .1-9 .1-4 .1 11 .1-6 0-1 .1 0 .1 7 .1-2 .1-4 .1 4 .1 8 .1-10 .1 0 .1-6 .1 13 .1-15 .1 9 .1 5 .1-5 .1 12 0-4 .1-12 .1 2 .1 4 .1-1 .1-13 .1 9 .1 13 .1-3 .1-5 .1-8 .1 3 .1-3 .1 11 .1-4 .1 1 0-10 .1 23 .1-16 .1-8 .1 11 .1-1 .1 1 .1 3 .1-5 .1 8 .1-7 .1-5 .1-3 .1 12 .1-5 .1 1 .1 5 0-7 .1-3 .1 6 .1-12 .1 9 .1-6 .1 4 .1 8 .1-12 .1 13 .1-5 .1-5 .1 3 .1 7 .1-8 .1 0 0 2 .1 3 .1-4 .1-9 .1 12 .1-10 .1 7 .1 1 .1-7 .1 0 .1 6 .1-1 .1 2 .1 3 .1-4 .1 13 0-9 .1-1 .1-3 .1-2 .1-1 .1 10 .1-8 .1 4 .1-14 .1 13 .1 5 .1-3 .1-9 .1 8 .1-5 .1-6 0 8 .1 1 .1-8 .1 5 .1-1 .1 10 .1-6 .1 2 .1 0 .1-8 .1-2 .1 9 .1 1 .1 0 .1-12 .1 6 0 7 .1-6 .1 3 .1-2 .1 5 .1 1 .1-9 .1 3 .1-7 .1-1 .1 12 .1-5 .1 1 .1 0 .1 5 .1 0 0 1 .1-2 .1-7 .1 9 .1-4 .1-3 .1-1 .1 3 .1-7 .1 13 .1 0 .1-13 .1 7 .1 3 .1-4 .1 0 0 6 .1-14 .1 4 .1 8 .1-4 .1 2 .1 2 .1-3 .1-2 .1 4 .1-5 .1 0 .1 3 .1-7 .1 1 .1 5 .1-7 0 20 .1-15 .1 2 .1-1 .1 8 .1-15 .1 6 .1 4 .1-2 .1-5 .1 5 .1-3 .1-8 .1 11 .1-9 .1 7 0 8 .1-12 .1 0 .1 8 .1 4 .1-7 .1 7 .1 2 .1 3 .1-13 .1 4 .1-2 .1 1 .1-9 .1 10 .1 2 0-7 .1 2 .1 0 .1-1 .1 6 .1 0 .1 4 .1-18 .1 14 .1-3 .1 0 .1-7 .1 4 .1 6 .1 2 .1 6 0-20 .1 6 .1-1 .1 10 .1-9 .1 15 .1-18 .1 8 .1 5 .1-11 .1-4 .1 13 .1-4 .1 2 .1-13 .1-1 0 16 .1-7 .1-2 .1-1 .1 4 .1 4 .1-10 .1 4 .1 2 .1-8 .1 16 .1-11 .1 2 .1 0 .1 1 .1 0 0 1 .1-9 .1 11 .1 1 .1-7 .1 5 .1-5 .1 1 .1 5 .1-7 .1 2 .1 0 .1 2 .1 5 .1-5 .1 2 0-6 .1 20 .1-13 .1 2 .1-6 .1-6 .1 1 .1 10 .1 3 .1-3 .1-6 .1-1 .1 11 .1-12 .1 3 .1 3 0-9 .1 12 .1-9 .1 1 .1 5 .1-7 .1 9 .1-8 .1-1 .1 4 .1 9 .1-14 .1 13 .1-3 .1 1 .1-14 .1 2 0 4 .1 8 .1-11 .1 8 .1-5 .1 1 .1 0 .1 15 .1-17 .1 10 .1-13 .1 13 .1-2 .1-6 .1 2 .1-11 0 13 .1-4 .1-3 .1 5 .1 6 .1 8 .1-21 .1 10 .1-4 .1 1 .1 8 .1-10 .1-2 .1 4 .1 0 .1 8 0-14 .1 14 .1-7 .1-3 .1 1 .1 7 .1-10 .1-3 .1 10 .1-2 .1-1 .1-3 .1-3 .1 1 .1 9 .1-3 0 1 .1-6 .1 10 .1-8 .1 7 .1-5 .1-5 .1 6 .1-6 .1-10 .1 13 .1 5 .1-6 .1-5 .1 5 .1-2 0 10 .1-4 .1 4 .1-12 .1 1 .1 13 .1 4 .1-3 .1-11 .1-6 .1 22 .1-17 .1 9 .1 0 .1-1 .1-4 0 7 .1 2 .1-9 .1-5 .1-1 .1-4 .1 22 .1-9 .1-10 .1 10 .1-7 .1 15 .1-10 .1-5 .1-2 .1 9 0-8 .1 14 .1-5 .1-10 .1-1 .1 16 .1-15 .1 4 .1-3 .1-6 .1 12 .1-6 .1 2 .1-7 .1 4 .1 12 0-8 .1-2 .1 6 .1-10 .1-3 .1 2 .1 2 .1 7 .1-1 .1-2 .1 11 .1-6 .1 0 .1 3 .1 0 .1-11 .1-2 0 9 .1 11 .1-15 .1-1 .1 4 .1 8 .1-7 .1-8 .1 11 .1 11 .1-25 .1 20 .1-9 .1 10 .1-2 .1-16 0 4 .1 6 .1-1 .1 4 .1-5 .1 4 .1-16 .1 11 .1-3 .1 0 .1 5 .1 0 .1 3 .1-10 .1 4 .1-1 0 4 .1-7 .1 5 .1-2 .1-4 .1 6 .1 1 .1 4 .1-2 .1-4 .1 2 .1-12 .1 8 .1 2 .1 8 .1-9 0-6 .1 5 .1 2 .1-4 .1-2 .1 14 .1 2 .1-11 .1-8 .1 10 .1-1 .1 6 .1-2 .1-6 .1 2 .1-1 0 1 .1-9 .1 13 .1-6 .1 10 .1-9 .1-3 .1 9 .1-7 .1 10 .1-2 .1-7 .1-2 .1-2 .1 3 .1-5 0 12 .1-12 .1-1 .1 19 .1-9 .1 2 .1-5 .1-9 .1 12 .1-8 .1 6 .1-8 .1 3 .1 7 .1-10 .1 12 0-7 .1 5 .1-4 .1-7 .1 10 .1-1 .1 9 .1-2 .1-9 .1-2 .1 1 .1-4 .1 5 .1 2 .1-1 .1 2 0 0 .1 1 .1 0 .1-2 .1-6 .1 0 .1 3 .1-3 .1 9 .1-14 .1 5 .1 6 .1 11 .1-11 .1-3 .1-4 .1-6 0 9 .1 12 .1-13 .1 0 .1 0 .1 7 .1 5 .1-7 .1 4 .1-3 .1 7 .1-5 .1-9 .1 11 .1-4 .1-2 0-1 .1 1 .1 11 .1-5 .1-14 .1 12 .1-3 .1 10 .1-2 .1-17 .1 9 .1-2 .1 0 .1 6 .1-3 .1-1 0-4 .1 6 .1-4 .1 8 .1-8 .1 3 .1 2 .1 1 .1-5 .1-8 .1 14 .1-10 .1 14 .1-9 .1 1 .1-5 0 2 .1 10 .1-8 .1-5 .1 5 .1 7 .1-19 .1 11 .1-7 .1 9 .1-2 .1 6 .1-10 .1 4 .1 2 .1 4 0-9 .1-2 .1 7 .1-7 .1 4 .1 0 .1-3 .1-3 .1 16 .1-13 .1 3 .1 7 .1-5 .1 10 .1-3 .1-5 0-7 .1-3 .1 8 .1 0 .1 14 .1-13 .1-1 .1 1 .1-7 .1 5 .1-6 .1 14 .1-12 .1 0 .1 8 .1-6 0-1 .1 5 .1-5 .1 1 .1 2 .1-7 .1 11 .1-9 .1 1 .1-4 .1 11 .1-12 .1 10 .1 3 .1 1 .1-9 .1 3 0 2 .1-6 .1 2 .1 13 .1-15 .1 8 .1-17 .1 8 .1-1 .1 10 .1-6 .1 8 .1-6 .1 0 .1 1 .1 0 0-2 .1 0 .1 8 .1-13 .1 5 .1-2 .1 7 .1-6 .1-9 .1-1 .1 8 .1 8 .1-8 .1 2 .1-1 .1 3 0 2 .1-5 .1 7 .1-9 .1-2 .1 8 .1-3 .1 9 .1-4 .1-5 .1 3 .1-3 .1 8 .1-8 .1-5 .1 12 0-2 .1 3 .1-2 .1-10 .1 12 .1-6 .1 7 .1-7 .1 5 .1 2 .1 0 .1-7 .1 2 .1-2 .1 5 .1-10 0-1 .1 14 .1-9 .1 5 .1 3 .1-10 .1 2 .1 0 .1-5 .1 2 .1 7 .1-10 .1 4 .1 5 .1-6 .1 5 0-7 .1 4 .1-1 .1 5 .1-4 .1-3 .1 3 .1 14 .1-5 .1-9 .1-5 .1-1 .1 6 .1 6 .1 2 .1-5 0-4 .1-1 .1 6 .1-10 .1 4 .1 13 .1-9 .1-8 .1-2 .1 8 .1-2 .1-1 .1 3 .1-7 .1 0 .1 8 0-6 .1 8 .1-5 .1 12 .1-5 .1 6 .1-2 .1-10 .1 2 .1 6 .1 1 .1-6 .1 4 .1-9 .1 1 .1 6 .1-8 0 19 .1-22 .1 8 .1 12 .1-13 .1-4 .1 8 .1 3 .1-2 .1-2 .1-1 .1 10 .1-7 .1-9 .1 17 .1-20 0 1 .1 16 .1-6 .1-4 .1 12 .1-11 .1-3 .1 0 .1 0 .1-1 .1 0 .1 6 .1 5 .1 3 .1 0 .1-9 0 3 .1-8 .1-4 .1 6 .1 3 .1 2 .1 2 .1-7 .1-11 .1 16 .1-5 .1 2 .1 1 .1-5 .1 17 .1-9 0 5 .1-11 .1 6 .1-7 .1 0 .1 5 .1-2 .1-2 .1 0 .1 3 .1 1 .1 2 .1-8 .1-1 .1 11 .1-15 0 13 .1 1 .1 8 .1-13 .1 6 .1-6 .1 1 .1 3 .1-10 .1 1 .1 1 .1 8 .1 7 .1-20 .1 3 .1 3 0 4 .1-1 .1 4 .1 2 .1 0 .1-6 .1-11 .1 4 .1 0 .1 18 .1-8 .1-8 .1-1 .1 7 .1 0 .1-4 0 1 .1 4 .1 1 .1-3 .1-1 .1 11 .1-4 .1-2 .1-9 .1 7 .1 1 .1 0 .1-10 .1 7 .1 3 .1-2 0-9 .1 7 .1-2 .1-3 .1 11 .1-3 .1 4 .1-10 .1 4 .1 0 .1-1 .1 2 .1 1 .1-2 .1 2 .1-15 .1 15 0-11 .1 10 .1-8 .1 1 .1 6 .1-5 .1-3 .1-2 .1 25 .1-18 .1 16 .1-15 .1-10 .1 13 .1-2 .1 5 0-4 .1-10 .1 6 .1 1 .1 7 .1-8 .1 13 .1-13 .1-3 .1 15 .1-8 .1-8 .1 4 .1-2 .1 9 .1-7 0-2 .1-3 .1 14 .1-7 .1-6 .1-3 .1 9 .1 1 .1-1 .1 6 .1-5 .1-4 .1 3 .1-1 .1-7 .1 13 0 11 .1-15 .1-4 .1 11 .1-5 .1-2 .1-7 .1-1 .1 7 .1-5 .1 10 .1-2 .1-1 .1-7 .1 12 .1-5 0-3 .1 2 .1-3 .1 11 .1-11 .1 8 .1 1 .1-4 .1-5 .1 4 .1 3 .1-7 .1-4 .1 0 .1 13 .1-5 0-3 .1-6 .1 3 .1-1 .1 13 .1-11 .1-1 .1 2 .1 2 .1 0 .1 2 .1-1 .1-6 .1-1 .1-2 .1 5 0-3 .1 4 .1 3 .1 7 .1-10 .1 4 .1-5 .1-3 .1 4 .1 8 .1-14 .1 5 .1 5 .1-8 .1 9 .1-3 0 4 .1 11 .1-15 .1 7 .1-15 .1 11 .1-4 .1 3 .1-10 .1 1 .1 3 .1-5 .1 17 .1-12 .1 7 .1-4 .1 3 0-6 .1 5 .1 3 .1-7 .1 8 .1-11 .1 1 .1 3 .1 7 .1-5 .1-1 .1 5 .1-8 .1 3 .1 11 .1-6 0-3 .1-2 .1-5 .1 3 .1-3 .1 8 .1-1 .1 0 .1-13 .1 12 .1-5 .1 5 .1 0 .1 6 .1 3 .1-12 0 9 .1-11 .1-2 .1 11 .1-5 .1-5 .1-2 .1 6 .1 2 .1-2 .1 13 .1-3 .1 3 .1-13 .1 14 .1-12 0-1 .1 3 .1-2 .1 5 .1-6 .1-1 .1 1 .1-7 .1 8 .1-4 .1 2 .1 3 .1 2 .1-3 .1 6 .1-5 0-3 .1-3 .1 5 .1-7 .1 3 .1 7 .1-6 .1-4 .1 6 .1 3 .1-10 .1 4 .1 5 .1-3 .1 5 .1 7 0-14 .1-2 .1-2 .1 10 .1-1 .1 2 .1-7 .1 9 .1-2 .1-4 .1-1 .1-2 .1-2 .1 1 .1 4 .1 9 0-6 .1 4 .1-4 .1 4 .1 3 .1-9 .1-7 .1 1 .1 2 .1 17 .1-17 .1-3 .1 9 .1 5 .1 7 .1-4 .1-10 0 0 .1 3 .1 4 .1 8 .1-15 .1 12 .1-13 .1 5 .1 2 .1-7 .1 3 .1-11 .1 13 .1-6 .1 3 .1 13 0-17 .1 0 .1 3 .1-2 .1-8 .1 5 .1 1 .1-2 .1 1 .1 6 .1-3 .1-5 .1 2 .1 1 .1-6 .1 3 0 8 .1 7 .1-12 .1 6 .1-5 .1 1 .1-1 .1 7 .1 5 .1-5 .1 1 .1-13 .1 9 .1-5 .1-2 .1 9 0 1 .1-11 .1 5 .1-2 .1 6 .1-8 .1 4 .1 12 .1-6 .1 6 .1-16 .1 3 .1-4 .1 17 .1-12 .1-3 0-2 .1 6 .1-2 .1-1 .1 2 .1 5 .1-4 .1 7 .1-6 .1 0 .1-5 .1 1 .1-2 .1 2 .1-5 .1 8 0 3 .1-8 .1 7 .1 2 .1-9 .1 0 .1 4 .1 0 .1 5 .1-9 .1 14 .1-17 .1 16 .1-5 .1-4 .1 5 0-13 .1 3 .1 12 .1-9 .1 14 .1-15 .1 2 .1 5 .1-3 .1 1 .1 0 .1-8 .1 3 .1 10 .1-7 .1-4 0 1 .1 2 .1-1 .1 5 .1 0 .1 5 .1-1 .1 4 .1-8 .1-4 .1 3 .1-2 .1 11 .1-13 .1 0 .1 8 .1-2 0 6 .1-13 .1 5 .1 5 .1-2 .1-7 .1 10 .1-11 .1 4 .1-6 .1-4 .1 13 .1-6 .1-2 .1 2 .1 7 0 7 .1-12 .1-1 .1-2 .1 3 .1-5 .1 1 .1 2 .1 2 .1-5 .1 6 .1 12 .1-13 .1-6 .1 5 .1 8 0-1 .1-9 .1 12 .1-18 .1-4 .1 14 .1-3 .1 1 .1 2 .1-6 .1 7 .1-9 .1 8 .1-2 .1 3 .1-4 0 2 .1 2 .1-8 .1 8 .1 5 .1-10 .1-1 .1 2 .1 0 .1 0 .1 0 .1-2 .1-3 .1 6 .1 1 .1 1 0-3 .1 4 .1-2 .1 5 .1-3 .1-2 .1-5 .1 1 .1-3 .1 5 .1 2 .1 1 .1-1 .1 5 .1-5 .1 1 0 1 .1 3 .1-10 .1 7 .1-1 .1-5 .1 1 .1 1 .1-10 .1 13 .1-5 .1 7 .1-1 .1-7 .1-3 .1 5 0 2 .1 5 .1-10 .1-3 .1 12 .1 2 .1-9 .1 10 .1-7 .1 0 .1 9 .1-8 .1-2 .1-4 .1 2 .1-4 0 14 .1-6 .1-1 .1-2 .1-1 .1 7 .1-4 .1-2 .1 6 .1-11 .1 6 .1 1 .1 10 .1-5 .1-2 .1-7 .1 5 0 15 .1-12 .1-6 .1 13 .1-10 .1 4 .1 4 .1-3 .1 1 .1-1 .1-5 .1 1 .1-3 .1-3 .1 6 .1-4 0 4 .1-2 .1 0 .1 8 .1-9 .1 13 .1-15 .1 2 .1 1 .1-7 .1 17 .1-3 .1-10 .1-1 .1 0 .1 9 0-4 .1 2 .1-9 .1 6 .1 2 .1-2 .1-1 .1 4 .1 6 .1-5 .1-13 .1 7 .1 2 .1 0 .1-2 .1 1 0 5 .1-7 .1 14 .1-11 .1 8 .1-2 .1 1 .1-6 .1-2 .1-2 .1 0 .1 0 .1 0 .1-3 .1 11 .1-9 0-10 .1 8 .1 9 .1-1 .1 0 .1-7 .1 3 .1-2 .1 20 .1-20 .1-3 .1 7 .1-1 .1 4 .1-4 .1-4 0 0 .1-1 .1 11 .1-7 .1 1 .1-5 .1 6 .1 10 .1-2 .1-15 .1 4 .1 0 .1-2 .1 17 .1-8 .1-2 0 5 .1-6 .1-2 .1 12 .1-18 .1 0 .1 11 .1-6 .1 9 .1-13 .1 14 .1-8 .1-4 .1 9 .1-9 .1 5 0 4 .1-13 .1 3 .1 21 .1-24 .1 7 .1 9 .1-7 .1-8 .1 6 .1 3 .1-1 .1-8 .1 3 .1 3 .1-1 .1 7 0-3 .1 5 .1 3 .1-7 .1 1 .1-12 .1 13 .1-11 .1 11 .1-5 .1 6 .1 0 .1-7 .1-3 .1 9 .1-8 0 12 .1-9 .1 4 .1-5 .1 5 .1-2 .1 9 .1-15 .1 5 .1 5 .1-6 .1 2 .1 0 .1-1 .1-8 .1 3 0-1 .1 2 .1 3 .1 0 .1 7 .1-5 .1-10 .1 8 .1 0 .1-3 .1 1 .1 2 .1 4 .1 0 .1-7 .1-5 0 6 .1-1 .1-4 .1 3 .1 3 .1-2 .1-3 .1 15 .1-15 .1 7 .1 6 .1-5 .1 3 .1-8 .1 8 .1-3 0-10 .1 6 .1 7 .1-6 .1 3 .1 6 .1-13 .1 6 .1 3 .1-4 .1-4 .1 1 .1 1 .1 4 .1-2 .1-4 0 4 .1 6 .1-1 .1-10 .1 8 .1-1 .1-2 .1-4 .1 0 .1 11 .1-1 .1-11 .1 6 .1 6 .1-12 .1 6 0-1 .1-1 .1 8 .1 4 .1-6 .1-8 .1-1 .1 8 .1-7 .1 4 .1-10 .1 4 .1 10 .1-7 .1-2 .1 2 .1 3 0 1 .1-10 .1 24 .1-9 .1-13 .1 8 .1 1 .1 3 .1-6 .1-1 .1-3 .1-5 .1 6 .1 8 .1-12 .1 7 0 0 .1 6 .1-9 .1 5 .1-6 .1 5 .1-7 .1 2 .1 0 .1 7 .1-2 .1 0 .1 11 .1-4 .1-4 .1-8 0 12 .1-8 .1 2 .1-3 .1-1 .1 7 .1-3 .1-2 .1-5 .1-3 .1 1 .1 4 .1 12 .1-5 .1-12 .1 4 0 4 .1 0 .1-2 .1 11 .1-7 .1 0 .1-1 .1-5 .1 6 .1 3 .1-8 .1-1 .1 4 .1 12 .1-16 .1 0 0 5 .1 0 .1-4 .1 2 .1 15 .1-15 .1-10 .1 7 .1 12 .1-12 .1 7 .1-4 .1-10 .1 19 .1-5 .1 3 0 1 .1-3 .1-6 .1 6 .1 3 .1 2 .1-6 .1 8 .1-1 .1-14 .1 2 .1 13 .1-9 .1-1 .1 1 .1 3 0 2 .1-5 .1 1 .1-5 .1 1 .1 1 .1 4 .1-7 .1 1 .1 15 .1-9 .1-8 .1-4 .1 13 .1-7 .1 0 0 1 .1-11 .1 15 .1 1 .1-14 .1 12 .1-6 .1 3 .1 6 .1-4 .1 2 .1-4 .1 13 .1-23 .1 13 .1-1 .1 10 0-14 .1 4 .1-1 .1-8 .1 12 .1-3 .1-1 .1-2 .1-4 .1 1 .1-1 .1 3 .1-1 .1 13 .1 1 .1-15 0 6 .1-10 .1 4 .1-3 .1 7 .1-5 .1 13 .1 2 .1-14 .1 9 .1-8 .1-8 .1 3 .1 13 .1-13 .1 4 0 2 .1 9 .1 6 .1-17 .1-2 .1 5 .1-1 .1-7 .1 4 .1 13 .1-3 .1-3 .1 2 .1-6 .1 1 .1 5 0-3 .1-2 .1 5 .1 0 .1-9 .1 1 .1 4 .1 2 .1 2 .1-10 .1 0 .1 10 .1-4 .1 1 .1-5 .1 8 0-1 .1-14 .1 5 .1 0 .1 8 .1-4 .1 10 .1-4 .1-7 .1 7 .1 0 .1-2 .1-1 .1-9 .1 6 .1 9 0-1 .1-2 .1-6 .1 5 .1 0 .1 4 .1-4 .1-3 .1 4 .1-9 .1 2 .1 0 .1 8 .1-3 .1 0 .1-4 0 1 .1-4 .1 3 .1 3 .1-7 .1 7 .1-7 .1 7 .1-6 .1 9 .1 3 .1-10 .1 3 .1 4 .1-9 .1 12 0-11 .1 4 .1 2 .1 3 .1-3 .1-2 .1 0 .1 6 .1-5 .1 9 .1-9 .1-1 .1-3 .1-1 .1 11 .1-12 .1 8 0 3 .1-7 .1-4 .1 5 .1 0 .1 5 .1-2 .1-1 .1 8 .1-6 .1-10 .1 22 .1-17 .1 14 .1-12 .1 13 0-16 .1-1 .1 1 .1 0 .1 8 .1-7 .1 10 .1-7 .1-1 .1 0 .1 1 .1-9 .1 12 .1 2 .1 1 .1 3 0-15 .1 8 .1-10 .1 14 .1-4 .1-1 .1-3 .1-1 .1 5 .1-5 .1-5 .1 0 .1 3 .1-3 .1 0 .1 7 0-2 .1 2 .1-2 .1 6 .1-1 .1-1 .1-5 .1-7 .1 10 .1 5 .1-2 .1-1 .1-3 .1-7 .1 8 .1-2 0 4 .1-15 .1 14 .1-5 .1 8 .1-2 .1 10 .1-12 .1-2 .1-2 .1 8 .1-14 .1 14 .1-13 .1 11 .1-5 0 1 .1 4 .1-5 .1 10 .1-7 .1-1 .1 8 .1 2 .1-13 .1 4 .1-1 .1 3 .1 1 .1 8 .1-10 .1-8 0 9 .1-8 .1 13 .1-2 .1-10 .1 18 .1-14 .1-4 .1-2 .1-2 .1 13 .1-4 .1-6 .1 0 .1-2 .1 8 0 2 .1 0 .1-4 .1 13 .1-23 .1 7 .1 4 .1-2 .1 1 .1 3 .1 0 .1-4 .1 1 .1 2 .1-2 .1 2 .1 1 0 1 .1-3 .1-2 .1 5 .1-4 .1-1 .1 12 .1-7 .1 3 .1-12 .1 1 .1 14 .1 1 .1-10 .1 2 .1-4 0 5 .1 2 .1 4 .1-5 .1 4 .1-5 .1-7 .1-2 .1 9 .1 3 .1-9 .1 5 .1-5 .1 3 .1-5 .1 7 0 3 .1-3 .1-7 .1 0 .1 0 .1 1 .1 5 .1 0 .1-3 .1-4 .1 2 .1 1 .1 5 .1-8 .1 7 .1 4 0-8 .1 2 .1 0 .1 2 .1 7 .1-7 .1 5 .1-6 .1-2 .1 1 .1 0 .1-4 .1 11 .1 3 .1-3 .1-10 0 7 .1 4 .1 6 .1-8 .1-14 .1 15 .1-16 .1-2 .1 23 .1-9 .1 5 .1-10 .1-5 .1 7 .1-5 .1 14 0-7 .1 2 .1-11 .1 3 .1 6 .1 0 .1 11 .1-11 .1-6 .1 11 .1-4 .1 1 .1 6 .1-9 .1 5 .1-7 0-5 .1 7 .1-2 .1-1 .1-1 .1 2 .1 5 .1 11 .1-23 .1 12 .1-3 .1 2 .1 12 .1-14 .1 4 .1-9 .1 9 0-14 .1 6 .1 2 .1-2 .1-2 .1 11 .1-7 .1-1 .1 0 .1 2 .1-3 .1 8 .1-2 .1 1 .1-4 .1-3 0 3 .1 3 .1-4 .1 7 .1-3 .1-6 .1 0 .1-1 .1 2 .1 4 .1 0 .1 2 .1-12 .1 14 .1-5 .1-8 0-3 .1 1 .1 18 .1-4 .1-5 .1 8 .1-11 .1 3 .1 0 .1-3 .1 15 .1-12 .1-10 .1 21 .1-1 .1-3 0-5 .1-7 .1 8 .1-3 .1-5 .1 1 .1 8 .1 8 .1-13 .1 7 .1 1 .1-7 .1 0 .1 9 .1-18 .1 6 0 3 .1-1 .1-7 .1 11 .1-1 .1 13 .1-8 .1 1 .1-7 .1-4 .1 12 .1-9 .1 1 .1 1 .1 5 .1-8 0 4 .1 11 .1-9 .1-16 .1 13 .1 3 .1-5 .1-2 .1 1 .1 3 .1-3 .1 4 .1-2 .1 0 .1-2 .1-5 0 7 .1 2 .1-4 .1 2 .1-1 .1 5 .1-7 .1 0 .1-3 .1 9 .1 1 .1-10 .1 2 .1 10 .1-3 .1-1 0-2 .1 5 .1-10 .1 3 .1 1 .1 4 .1-9 .1 3 .1 7 .1-10 .1 6 .1-3 .1-1 .1 4 .1 6 .1-9 .1 5 0-9 .1 16 .1-3 .1-2 .1-6 .1 5 .1-3 .1 2 .1-5 .1-2 .1 2 .1 9 .1-11 .1 5 .1 0 .1 7 0-13 .1 2 .1-1 .1 0 .1 9 .1-5 .1 5 .1-9 .1 3 .1-5 .1 2 .1 12 .1-10 .1 8 .1-9 .1 8 0-2 .1-3 .1-2 .1 2 .1-11 .1 17 .1-4 .1-4 .1 14 .1-17 .1 10 .1-5 .1 3 .1-10 .1 10 .1 0 0-2 .1 0 .1 9 .1-7 .1 3 .1-1 .1 5 .1-12 .1 9 .1-7 .1-6 .1 8 .1 2 .1-4 .1-1 .1-1 0 13 .1-12 .1 5 .1-2 .1 3 .1 6 .1-14 .1 11 .1-7 .1 1 .1 6 .1-3 .1-2 .1-8 .1 4 .1 3 0 2 .1-1 .1-6 .1 4 .1-2 .1 2 .1-4 .1 0 .1 16 .1-20 .1 11 .1-5 .1 7 .1 7 .1-7 .1 2 0-14 .1 4 .1 4 .1-3 .1-3 .1 9 .1 6 .1-8 .1-6 .1 6 .1-2 .1-4 .1 7 .1-8 .1 11 .1-4 0-9 .1 11 .1-1 .1-10 .1-7 .1 8 .1 5 .1-6 .1 7 .1-1 .1 1 .1-7 .1-1 .1 10 .1-2 .1-2 .1-4 0 9 .1-3 .1-1 .1 6 .1 0 .1-1 .1 6 .1-6 .1-2 .1 0 .1-3 .1 11 .1-7 .1-6 .1 2 .1-7 0 11 .1-2 .1-4 .1-4 .1-5 .1 18 .1-1 .1-14 .1 16 .1-8 .1 3 .1 2 .1-8 .1 5 .1-4 .1-2 0 10 .1-1 .1 6 .1-8 .1-6 .1 4 .1 8 .1-2 .1-7 .1-5 .1 7 .1-4 .1 10 .1 3 .1-6 .1-2 0-1 .1-12 .1 8 .1 2 .1-11 .1 14 .1-4 .1 4 .1 1 .1 4 .1-16 .1 9 .1-9 .1 8 .1 8 .1-6 0-1 .1-4 .1-1 .1 15 .1-13 .1 0 .1 3 .1-4 .1 5 .1-4 .1 8 .1-10 .1 1 .1 2 .1-5 .1 11 0-15 .1 5 .1 11 .1-2 .1-6 .1 3 .1-6 .1 8 .1 11 .1-10 .1-2 .1-4 .1-1 .1 4 .1 0 .1-2 0 4 .1-1 .1-3 .1-13 .1 11 .1 6 .1-4 .1-1 .1 6 .1-5 .1 1 .1-6 .1-1 .1 3 .1 11 .1-6 0-7 .1 3 .1 4 .1 2 .1-10 .1 4 .1-1 .1 12 .1-13 .1 4 .1 3 .1-12 .1 4 .1 12 .1-3 .1-6 .1-1 0-1 .1 5 .1 6 .1-12 .1 8 .1 5 .1-13 .1 9 .1-10 .1 9 .1 0 .1-4 .1 9 .1-6 .1 0 .1-5 0 3 .1-2 .1-6 .1 17 .1-7 .1-6 .1 6 .1-1 .1-2 .1 8 .1-10 .1-7 .1 16 .1-8 .1 5 .1-6 0-1 .1 7 .1 5 .1-3 .1 6 .1-1 .1-13 .1 0 .1 3 .1-3 .1-1 .1 7 .1-5 .1 12 .1-15 .1 9 0-11 .1 4 .1 4 .1 3 .1-1 .1-2 .1-5 .1 1 .1 7 .1-5 .1 7 .1-13 .1 6 .1 1 .1 5 .1 1 0 1 .1-10 .1 10 .1-8 .1 15 .1-9 .1-10 .1 1 .1 7 .1 5 .1-11 .1 6 .1-5 .1 2 .1-1 .1 2 0 5 .1 8 .1-5 .1-9 .1 1 .1 4 .1-6 .1 3 .1-4 .1 1 .1 10 .1-14 .1 6 .1-9 .1 9 .1-1 0-5 .1 16 .1-15 .1 6 .1-3 .1 0 .1 2 .1 12 .1-5 .1-9 .1 4 .1-5 .1-1 .1 6 .1 0 .1 2 .1-12 0 6 .1 1 .1 2 .1-2 .1 1 .1-4 .1 10 .1-9 .1-1 .1 2 .1-1 .1 11 .1-6 .1 1 .1-5 .1 1 0-6 .1 11 .1-8 .1-4 .1-2 .1 7 .1-1 .1 5 .1 0 .1-7 .1-5 .1 6 .1 10 .1-12 .1 8 .1 1 0 7 .1-3 .1-4 .1-12 .1 8 .1 3 .1-1 .1-5 .1 12 .1-6 .1-5 .1 5 .1-3 .1-1 .1 0 .1 6 0-3 .1-6 .1 7 .1 2 .1-8 .1 3 .1 1 .1 5 .1 4 .1-20 .1 11 .1 6 .1-1 .1-2 .1-4 .1-8 0 9 .1 4 .1-3 .1 6 .1 3 .1-15 .1 4 .1-1 .1-2 .1 3 .1-9 .1 1 .1 18 .1-7 .1-6 .1-1 0 4 .1-3 .1 1 .1 1 .1 4 .1-2 .1-5 .1 10 .1-12 .1 4 .1 12 .1-7 .1-6 .1 4 .1-1 .1-5 0 2 .1 8 .1-1 .1-9 .1 12 .1-14 .1 21 .1-8 .1-5 .1 2 .1 5 .1-15 .1-2 .1 11 .1-2 .1 3 0-6 .1 3 .1 11 .1-8 .1-9 .1 11 .1-6 .1-2 .1 3 .1 0 .1-4 .1 0 .1-2 .1 2 .1-2 .1 13 .1-8 0 4 .1-7 .1 14 .1-1 .1-6 .1-4 .1 12 .1-15 .1 5 .1 6 .1-9 .1 3 .1 0 .1 2 .1-1 .1-3 0 0 .1 10 .1-9 .1 5 .1-6 .1 2 .1-3 .1-3 .1 22 .1-25 .1 10 .1 1 .1 7 .1-14 .1 10 .1 5 0-12 .1-3 .1 11 .1-9 .1-3 .1 11 .1-11 .1 1 .1 15 .1-7 .1-3 .1-2 .1 7 .1-11 .1 8 .1-5 0 16 .1-14 .1-2 .1 0 .1 14 .1-19 .1 15 .1-4 .1-5 .1 6 .1-1 .1 2 .1-7 .1 1 .1 7 .1-10 0 3 .1-5 .1 10 .1-11 .1 6 .1 2 .1-6 .1 18 .1-10 .1 0M525 534l.1-3 .1 10 .1-2 .1-2 .1-1 .1 11 .1-22 .1 10 0 5 .1-7 .1 7 .1 4 .1-12 .1 6 .1-1 .1 6 .1 0 .1-3 .1-1 .1-5 .1 6 .1-6 .1 2 .1 3 0-14 .1 5 .1-2 .1 8 .1 8 .1-17 .1 3 .1 1 .1 5 .1-8 .1 15 .1-2 .1-1 .1-3 .1 1 .1 5 0-10 .1 2 .1 10 .1-15 .1 3 .1 3 .1 5 .1 3 .1-10 .1 2 .1 7 .1-14 .1 2 .1 12 .1-17 .1 14 0-1 .1-8 .1 9 .1 7 .1-10 .1 7 .1-4 .1 3 .1-9 .1-4 .1 2 .1 6 .1 3 .1-10 .1-1 .1 9 0-9 .1-1 .1 16 .1-6 .1 3 .1-7 .1 9 .1-7 .1-2 .1 0 .1-3 .1 4 .1 4 .1-5 .1-3 .1-3 0 7 .1 6 .1 1 .1-3 .1-13 .1 8 .1 3 .1-2 .1 10 .1 0 .1-8 .1-2 .1 2 .1 0 .1-3 .1-6 0 6 .1 0 .1 1 .1 8 .1-7 .1-2 .1-4 .1 7 .1 2 .1-9 .1 4 .1-1 .1 0 .1 7 .1-6 .1-6 0-1 .1 8 .1 6 .1 1 .1-8 .1-5 .1 9 .1-4 .1 1 .1 2 .1-13 .1 18 .1 4 .1-15 .1 5 .1-6 .1 3 0-5 .1 8 .1-9 .1 6 .1 3 .1 11 .1-11 .1-4 .1-4 .1-1 .1 8 .1 1 .1 6 .1-15 .1 6 .1 5 0 1 .1-8 .1 1 .1 6 .1 5 .1-7 .1 3 .1-10 .1 5 .1-12 .1 21 .1-8 .1 0 .1 5 .1-11 .1 9 0 7 .1-18 .1 4 .1 4 .1-1 .1 3 .1-6 .1 8 .1-5 .1-13 .1 10 .1 7 .1 11 .1-14 .1-2 .1 4 0-3 .1 10 .1-4 .1-5 .1 4 .1-7 .1 12 .1-2 .1-10 .1 2 .1-4 .1-6 .1 11 .1-1 .1 5 .1-1 0-1 .1-1 .1 1 .1 1 .1 1 .1-6 .1 8 .1-1 .1-6 .1-3 .1 8 .1 0 .1-1 .1-11 .1 5 .1 5 0-4 .1-5 .1 3 .1 4 .1-8 .1 12 .1-2 .1 3 .1-4 .1-2 .1-4 .1 6 .1-1 .1-4 .1 8 .1-3 0-3 .1 7 .1-1 .1-11 .1 3 .1 2 .1 5 .1 0 .1-4 .1 3 .1-3 .1 4 .1-8 .1 5 .1-7 .1 10 0-1 .1-7 .1 10 .1-8 .1 1 .1 9 .1-5 .1 2 .1-8 .1 0 .1 2 .1 0 .1 8 .1 0 .1 2 .1-4 .1-7 0 13 .1-5 .1-10 .1 11 .1-5 .1 5 .1-15 .1 6 .1 1 .1 2 .1 3 .1-9 .1 7 .1-10 .1 17 .1-8 0-1 .1 1 .1-2 .1 2 .1 1 .1-3 .1 0 .1 5 .1 4 .1-9 .1 6 .1-7 .1-5 .1 13 .1-9 .1 6 0-4 .1-8 .1 18 .1-9 .1-10 .1 9 .1 14 .1-18 .1 3 .1 10 .1-6 .1 1 .1-4 .1-6 .1 12 .1-10 0 12 .1-9 .1 1 .1 0 .1-1 .1-4 .1 9 .1-3 .1-2 .1 0 .1 2 .1-2 .1 12 .1-15 .1 1 .1-3 0-3 .1 13 .1-5 .1 3 .1-2 .1-6 .1 5 .1 0 .1-2 .1-1 .1 7 .1 2 .1 1 .1 5 .1-12 .1-3 0 13 .1-4 .1-10 .1 4 .1-2 .1 6 .1 4 .1-11 .1 4 .1-1 .1 5 .1-1 .1-3 .1-2 .1-3 .1 1 0 13 .1-14 .1 7 .1-4 .1 10 .1-6 .1-2 .1 5 .1 13 .1-19 .1 4 .1-14 .1 12 .1 1 .1-7 .1 0 .1 3 0 12 .1-8 .1-2 .1-1 .1 8 .1-6 .1 12 .1-13 .1-3 .1-1 .1-2 .1 14 .1-10 .1 6 .1 1 .1-2 0 0 .1 5 .1 10 .1-16 .1-4 .1 4 .1 3 .1-6 .1 3 .1-6 .1-3 .1 10 .1 1 .1-1 .1-2 .1 0 0-3 .1 20 .1-29 .1 21 .1-12 .1 6 .1 0 .1-1 .1-6 .1 0 .1 4 .1 1 .1-1 .1-3 .1 6 .1-14 0 10 .1 11 .1-11 .1-1 .1 4 .1-8 .1 10 .1-5 .1 14 .1-9 .1 9 .1 0 .1-6 .1-2 .1 6 .1-16 0 10 .1-1 .1-7 .1 4 .1-5 .1 1 .1 10 .1-5 .1-3 .1 1 .1-1 .1 10 .1-15 .1 12 .1-8 .1 2 0 1 .1 7 .1-13 .1 7 .1-3 .1-1 .1 5 .1 3 .1 6 .1-12 .1-5 .1 8 .1-3 .1 5 .1-13 .1 11 0-5 .1-6 .1 11 .1-1 .1 9 .1-19 .1 6 .1 3 .1 1 .1-3 .1-2 .1 12 .1-18 .1 9 .1 9 .1-4 0-5 .1-3 .1 15 .1-1 .1-11 .1 13 .1-23 .1 23 .1-12 .1-3 .1 0 .1 0 .1 4 .1 4 .1-7 .1 14 .1-8 0 3 .1-10 .1-1 .1-2 .1 10 .1-1 .1-5 .1 4 .1 1 .1 0 .1-3 .1-3 .1 2 .1 7 .1-6 .1 0 0 6 .1-6 .1 8 .1-9 .1-3 .1 14 .1-11 .1 7 .1-10 .1-6 .1 7 .1 4 .1-6 .1 5 .1 2 .1 7 0-12 .1 5 .1-11 .1 5 .1 3 .1-4 .1 4 .1 0 .1 1 .1 3 .1-5 .1-6 .1 1 .1 14 .1-11 .1-9 0 11 .1-1 .1 6 .1 4 .1-9 .1 0 .1 7 .1-1 .1-4 .1-6 .1 7 .1 12 .1-16 .1 6 .1-1 .1 2 0 0 .1 2 .1 4 .1-16 .1 5 .1 4 .1-6 .1 13 .1-7 .1 2 .1-7 .1-5 .1 5 .1 5 .1-4 .1-2 0-1 .1 6 .1 1 .1-7 .1-5 .1 9 .1 8 .1-4 .1 2 .1-10 .1 6 .1 1 .1-10 .1 17 .1 0 .1-8 0 1 .1-3 .1-2 .1 0 .1-1 .1 19 .1-18 .1-4 .1 13 .1-7 .1-3 .1 8 .1 6 .1-10 .1-2 .1 0 0 0 .1 1 .1-6 .1 2 .1 2 .1 5 .1-9 .1 14 .1-14 .1 5 .1-5 .1 16 .1-13 .1 2 .1 6 .1-9 .1 10 0-2 .1-4 .1 0 .1 6 .1-5 .1-7 .1 0 .1 5 .1-9 .1 0 .1 10 .1-3 .1-1 .1 4 .1 2 .1 0 0-6 .1 3 .1 4 .1 0 .1 1 .1-1 .1 1 .1 8 .1-9 .1 3 .1-11 .1 8 .1-8 .1 0 .1 8 .1-2 0-7 .1 3 .1 11 .1-15 .1 5 .1 7 .1-8 .1-1 .1 9 .1-7 .1-7 .1 10 .1-3 .1 11 .1-11 .1 6 0-1 .1-5 .1 5 .1-12 .1 2 .1-3 .1 6 .1 14 .1-8 .1-4 .1-2 .1 9 .1 1 .1-7 .1 8 .1-11 0 2 .1 9 .1-7 .1-10 .1 13 .1-10 .1 10 .1 2 .1-7 .1 9 .1 2 .1-12 .1 2 .1-10 .1 1 .1 6 0 2 .1 2 .1 2 .1 4 .1-5 .1-5 .1 1 .1-3 .1 3 .1-2 .1 8 .1-1 .1-3 .1 11 .1-7 .1 1 0-17 .1 14 .1-6 .1 12 .1-1 .1 1 .1-15 .1 8 .1 2 .1 3 .1-3 .1-4 .1 10 .1-11 .1 8 .1-3 0 0 .1 1 .1-14 .1 13 .1 0 .1 6 .1-2 .1-9 .1 5 .1-1 .1 3 .1-14 .1 7 .1 10 .1-9 .1 16 .1-17 0-5 .1 4 .1 10 .1-9 .1-5 .1 1 .1 4 .1-4 .1 9 .1-10 .1 3 .1 3 .1-4 .1 11 .1-6 .1 4 0 11 .1-10 .1 2 .1-14 .1 8 .1 0 .1-8 .1 9 .1-2 .1-3 .1 3 .1 1 .1-6 .1 16 .1-15 .1 12 0-2 .1-2 .1 4 .1-8 .1-5 .1 2 .1 3 .1 4 .1 13 .1-24 .1 11 .1-4 .1 0 .1 4 .1-1 .1-7 0 0 .1 12 .1-13 .1 6 .1 2 .1 2 .1-3 .1 0 .1 7 .1-9 .1 0 .1 1 .1-7 .1 10 .1-1 .1-5 0-4 .1 1 .1 8 .1 6 .1-11 .1 11 .1-18 .1 15 .1-14 .1 12 .1-6 .1 8 .1 0 .1-5 .1-3 .1-4 0 7 .1-2 .1 6 .1-11 .1 12 .1-10 .1 3 .1 2 .1-3 .1-1 .1 8 .1-3 .1-5 .1 8 .1-10 .1 6 0-1 .1 0 .1-1 .1-2 .1-8 .1 16 .1-7 .1 2 .1 5 .1 4 .1-4 .1-1 .1-1 .1 7 .1-9 .1 5 .1-3 0-6 .1 4 .1 0 .1 4 .1-6 .1 11 .1-11 .1 3 .1 0 .1 4 .1-10 .1 9 .1-1 .1-4 .1-2 .1-7 0 10 .1 0 .1-4 .1 2 .1 1 .1 1 .1-3 .1 7 .1-11 .1 0 .1-1 .1 7 .1-4 .1 3 .1-1 .1-3 0 1 .1 7 .1 10 .1-17 .1-9 .1 19 .1-10 .1 8 .1-5 .1-5 .1 9 .1 5 .1-2 .1-7 .1 4 .1 0 0-6 .1 5 .1-2 .1-7 .1 13 .1-2 .1-7 .1 1 .1-1 .1 7 .1 7 .1-11 .1-8 .1 12 .1-7 .1 5 0 0 .1-4 .1 1 .1 18 .1-24 .1 8 .1-1 .1 1 .1-6 .1 7 .1-3 .1 3 .1 3 .1 0 .1 0 .1-6 0 0 .1 7 .1-4 .1-5 .1 3 .1-3 .1 15 .1 0 .1-24 .1 15 .1-3 .1 0 .1 7 .1-8 .1 3 .1 4 0-4 .1-3 .1 1 .1-3 .1 6 .1 7 .1-14 .1-2 .1 5 .1 5 .1-7 .1 6 .1-2 .1 2 .1 3 .1-5 0-1 .1-5 .1 2 .1 7 .1 1 .1 1 .1 8 .1-11 .1 13 .1-18 .1 3 .1 3 .1-7 .1-3 .1 3 .1 2 .1 7 0-10 .1 14 .1-1 .1-11 .1 1 .1-1 .1 8 .1-10 .1 7 .1 2 .1-2 .1-3 .1-6 .1 15 .1-5 .1-8 0-4 .1 12 .1-7 .1-2 .1 5 .1 1 .1-8 .1 6 .1-6 .1 1 .1 12 .1-3 .1-4 .1-7 .1 11 .1-3 0-3 .1 0 .1 4 .1 0 .1 4 .1 0 .1 1 .1-3 .1-10 .1 0 .1 5 .1 1 .1 0 .1 11 .1-7 .1-5 0-1 .1 9 .1-11 .1 5 .1-1 .1-8 .1 23 .1-11 .1-1 .1-3 .1 8 .1-8 .1 10 .1-20 .1 17 .1-4 0-7 .1 3 .1 10 .1-8 .1-2 .1 4 .1-5 .1 1 .1 0 .1 3 .1 5 .1-9 .1 1 .1 1 .1-3 .1 2 0 5 .1-4 .1 2 .1-5 .1 3 .1 2 .1-7 .1 4 .1-2 .1 17 .1-5 .1-5 .1-1 .1 6 .1-7 .1 5 0-9 .1 2 .1 6 .1-6 .1 0 .1-2 .1 21 .1-12 .1-7 .1 7 .1-14 .1 16 .1-11 .1 5 .1-2 .1-4 0 1 .1 3 .1-4 .1 8 .1-6 .1 5 .1-6 .1 5 .1 0 .1-6 .1 9 .1-1 .1-7 .1 6 .1-8 .1 6 .1-5 0 5 .1 1 .1-3 .1 12 .1-17 .1 13 .1-7 .1 13 .1-14 .1 13 .1-4 .1-6 .1 5 .1-5 .1-3 .1 0 0-5 .1 8 .1 5 .1-3 .1-4 .1 9 .1-9 .1 4 .1 4 .1-13 .1 0 .1 7 .1 1 .1-7 .1 10 .1-1 0-10 .1 4 .1-2 .1-3 .1 8 .1-4 .1 6 .1-8 .1 9 .1-11 .1 4 .1 5 .1-2 .1-4 .1 0 .1 12 0-9 .1-4 .1 4 .1 0 .1 4 .1 9 .1-6 .1-4 .1-3 .1-2 .1 9 .1-4 .1-1 .1-1 .1 5 .1-11 0 4 .1 4 .1 1 .1 2 .1-6 .1-4 .1 9 .1-13 .1 12 .1 0 .1 0 .1-4 .1-6 .1 8 .1-5 .1 2 0 0 .1 11 .1 1 .1-22 .1 11 .1 8 .1-9 .1 7 .1-1 .1-1 .1-5 .1 4 .1-9 .1 5 .1 0 .1 10 0-11 .1-2 .1 14 .1-9 .1 3 .1-12 .1 12 .1-5 .1-2 .1 13 .1-14 .1 5 .1-8 .1 6 .1-1 .1 8 0-6 .1-6 .1 8 .1-7 .1 5 .1 3 .1-8 .1 12 .1-2 .1-10 .1 14 .1-11 .1 13 .1-6 .1-9 .1 10 .1-14 0 8 .1-7 .1 6 .1 5 .1 4 .1-15 .1 1 .1 6 .1-4 .1-5 .1 9 .1 1 .1 7 .1-9 .1 5 .1-4 0-1 .1-5 .1 7 .1-6 .1 12 .1-3 .1-4 .1 0 .1-6 .1-2 .1 5 .1 3 .1 0 .1 2 .1-6 .1 3 0 7 .1 3 .1-11 .1 5 .1 3 .1-16 .1 4 .1 4 .1-2 .1 6 .1-4 .1 4 .1-1 .1-4 .1 3 .1 3 0 5 .1-8 .1 1 .1 1 .1-1 .1 3 .1-5 .1-1 .1 1 .1 3 .1-8 .1 1 .1 3 .1 11 .1-3 .1-1 0-10 .1 6 .1 1 .1-4 .1 11 .1-11 .1 10 .1-3 .1-9 .1 13 .1-11 .1 5 .1-1 .1-2 .1 6 .1-8 0 0 .1-3 .1 2 .1 2 .1 7 .1-7 .1 5 .1-1 .1-4 .1 9 .1-18 .1 8 .1 14 .1-19 .1 14 .1 5 0-12 .1 8 .1-10 .1 0 .1 5 .1-4 .1 3 .1 2 .1-5 .1-8 .1 8 .1 9 .1-13 .1 7 .1 0 .1 3 .1 0 0-3 .1 1 .1 0 .1 0 .1-10 .1-3 .1 21 .1-15 .1 11 .1-8 .1-2 .1 1 .1 9 .1 3 .1-7 .1-6 0-1 .1-4 .1 9 .1-8 .1 10 .1-1 .1-7 .1 0 .1-6 .1 8 .1 6 .1 1 .1 0 .1-3 .1 0 .1 5 0-3 .1 1 .1-8 .1 8 .1 4 .1-3 .1-8 .1-2 .1 6 .1 4 .1-16 .1 9 .1 0 .1 0 .1 0 .1 2 0 3 .1-10 .1 11 .1 7 .1-8 .1-8 .1 10 .1 2 .1-15 .1 4 .1 11 .1-15 .1 3 .1 14 .1-2 .1-10 0 3 .1-2 .1 8 .1-7 .1 5 .1-6 .1 9 .1-17 .1 10 .1-9 .1 10 .1 6 .1-1 .1-3 .1 1 .1-2 0 10 .1-5 .1-5 .1-5 .1 2 .1-2 .1 7 .1 4 .1-15 .1 14 .1 10 .1-21 .1 3 .1 6 .1-9 .1 21 0-14 .1-2 .1 4 .1-8 .1 12 .1 0 .1-2 .1-10 .1 2 .1 11 .1-12 .1 6 .1-7 .1 2 .1 1 .1 2 0-2 .1 12 .1-17 .1 7 .1-2 .1-1 .1 1 .1 6 .1-15 .1 18 .1-10 .1 5 .1 6 .1-8 .1 10 .1-1 .1-9 0-1 .1 4 .1 5 .1-12 .1 6 .1-12 .1 3 .1 13 .1-11 .1 9 .1 4 .1-14 .1 1 .1 9 .1-11 .1 4 0 4 .1-10 .1 9 .1-2 .1-1 .1-5 .1-6 .1 16 .1-4 .1 4 .1-1 .1-4 .1 11 .1-8 .1-8 .1 5 0 2 .1-8 .1-2 .1 16 .1-8 .1 6 .1 3 .1-10 .1 4 .1 2 .1 9 .1-18 .1 9 .1 0 .1-8 .1 7 0-2 .1 4 .1-9 .1-2 .1 8 .1 0 .1 2 .1-5 .1-2 .1 3 .1 6 .1-8 .1 4 .1-1 .1 3 .1 0 0-3 .1-8 .1 13 .1-1 .1 1 .1 2 .1-9 .1 13 .1-12 .1-4 .1 2 .1 2 .1 3 .1-6 .1-2 .1 6 0-6 .1 2 .1 5 .1-4 .1 7 .1-8 .1 2 .1-4 .1 8 .1-3 .1 4 .1 2 .1-6 .1-3 .1-3 .1 11 0-3 .1-2 .1-2 .1 11 .1-8 .1 3 .1-6 .1-2 .1 11 .1-5 .1-6 .1 6 .1-7 .1 10 .1-3 .1 3 0-4 .1-7 .1-3 .1 2 .1 13 .1-3 .1-2 .1-2 .1-3 .1-1 .1 0 .1 0 .1 9 .1-6 .1 9 .1-10 .1 4 0-1 .1 1 .1 0 .1 10 .1-10 .1-10 .1 17 .1-7 .1 7 .1-8 .1 6 .1-5 .1-3 .1 5 .1-11 .1 13 0-4 .1 18 .1-29 .1 21 .1-12 .1 11 .1-1 .1-10 .1-4 .1 13 .1-9 .1-3 .1 4 .1 11 .1-15 .1 1 0 2 .1-5 .1 9 .1-9 .1 3 .1-2 .1 8 .1-1 .1-2 .1-6 .1-7 .1 19 .1-9 .1-2 .1-2 .1 4 0 5 .1 9 .1-11 .1 2 .1 5 .1-2 .1-9 .1 6 .1-4 .1 6 .1-6 .1 8 .1-10 .1 0 .1 13 .1-10 0 13 .1-10 .1-3 .1 3 .1-5 .1 8 .1 3 .1-17 .1 12 .1-7 .1-5 .1 8 .1-5 .1 8 .1 6 .1-3 0-2 .1-2 .1-8 .1 8 .1-2 .1 6 .1-11 .1 13 .1-8 .1 3 .1 1 .1-4 .1 10 .1-17 .1 9 .1 3 0-14 .1 12 .1 6 .1-1 .1 0 .1-8 .1 2 .1 2 .1-6 .1 2 .1 0 .1-7 .1 8 .1 2 .1-13 .1 17 0 10 .1-24 .1 13 .1-2 .1 2 .1-4 .1 1 .1 1 .1 0 .1 3 .1 1 .1-10 .1-6 .1 6 .1 8 .1-4 .1-7 0 2 .1 21 .1-12 .1-6 .1 7 .1-7 .1 1 .1-2 .1 6 .1-2 .1-11 .1 8 .1 4 .1-3 .1 10 .1-16 0 2 .1 1 .1-2 .1 7 .1 3 .1 6 .1-1 .1-14 .1 9 .1-15 .1 21 .1-14 .1 8 .1-7 .1-8 .1 16 0-10 .1 1 .1 20 .1-15 .1-6 .1 10 .1 9 .1-15 .1-3 .1 2 .1 1 .1-7 .1 7 .1 1 .1 7 .1 2 0-7 .1 6 .1-6 .1-4 .1 2 .1-2 .1-5 .1-1 .1 16 .1-12 .1 2 .1 0 .1-3 .1 8 .1-2 .1-1 0 6 .1 0 .1-13 .1 1 .1 9 .1-14 .1 14 .1-13 .1 26 .1-16 .1-5 .1 1 .1-1 .1 8 .1-6 .1 3 0-7 .1 5 .1-6 .1 13 .1-6 .1 0 .1 7 .1-3 .1-7 .1 17 .1-12 .1-4 .1 5 .1 3 .1-5 .1 4 0-4 .1-10 .1 6 .1-1 .1 8 .1-13 .1 5 .1 6 .1-7 .1 0 .1 11 .1 4 .1-5 .1-3 .1-10 .1 11 .1 0 0 11 .1-11 .1-1 .1 4 .1 1 .1-9 .1 0 .1-3 .1 13 .1-17 .1 10 .1-4 .1 7 .1 4 .1-5 .1 1 0-6 .1 13 .1-15 .1-1 .1 5 .1-2 .1 9 .1-11 .1 15 .1-11 .1 1 .1 15 .1-12 .1-4 .1-2 .1 3 0-1 .1 0 .1 5 .1-8 .1 1 .1-2 .1 10 .1-10 .1-2 .1-4 .1 18 .1-14 .1 9 .1-7 .1 7 .1 5 0-5 .1-8 .1 10 .1 4 .1-3 .1-15 .1 15 .1-12 .1-2 .1 15 .1-8 .1 2 .1-4 .1 0 .1 2 .1 2 0 0 .1 4 .1-1 .1-10 .1 10 .1-5 .1 4 .1 4 .1-12 .1 8 .1-2 .1 0 .1-8 .1 2 .1 12 .1-9 0 4 .1-4 .1 6 .1-1 .1-8 .1 7 .1-10 .1 8 .1-3 .1 0 .1 2 .1-5 .1 14 .1-6 .1 5 .1 4 0-9 .1 7 .1-3 .1-4 .1-1 .1-1 .1 0 .1 1 .1 2 .1 2 .1 1 .1-7 .1 3 .1 2 .1 2 .1-8 0 5 .1-4 .1 0 .1 6 .1-5 .1-3 .1 9 .1-8 .1 4 .1 1 .1 1 .1-5 .1 7 .1-4 .1-9 .1 10 .1-2 0-3 .1 8 .1-5 .1 7 .1-8 .1 6 .1-9 .1 2 .1 9 .1-7 .1 1 .1 0 .1-8 .1 7 .1 1 .1 5 0 3 .1 1 .1-14 .1-2 .1 5 .1 3 .1-1 .1-9 .1 9 .1 6 .1-13 .1 14 .1-9 .1-1 .1 8 .1-10 0 2 .1-8 .1 21 .1-6 .1-11 .1 1 .1 2 .1 1 .1-6 .1 7 .1 3 .1-12 .1 11 .1-10 .1 2 .1 8 0 3 .1 3 .1-11 .1-1 .1 10 .1-1 .1-12 .1 6 .1-1 .1 9 .1-6 .1-1 .1-2 .1 7 .1-4 .1 15 0-11 .1-9 .1 7 .1-5 .1 6 .1-4 .1-3 .1 10 .1-6 .1 0 .1 3 .1-12 .1 8 .1-2 .1-1 .1-6 0 13 .1 2 .1-7 .1 12 .1-6 .1-2 .1-3 .1 0 .1 4 .1 1 .1-8 .1 5 .1-8 .1 0 .1 5 .1 0 0 15 .1-24 .1 23 .1-6 .1-13 .1 13 .1-1 .1-9 .1 6 .1 1 .1-2 .1-2 .1-4 .1 5 .1-2 .1-2 0 4 .1-4 .1 2 .1-2 .1 0 .1 4 .1 2 .1 13 .1-16 .1 2 .1 2 .1 7 .1 2 .1-17 .1-1 .1-1 .1 8 0 3 .1-6 .1-1 .1 11 .1-14 .1 3 .1 9 .1-6 .1 2 .1-3 .1-3 .1 0 .1 2 .1 3 .1-6 .1 6 0-2 .1-7 .1 14 .1-1 .1-1 .1-1 .1-3 .1-3 .1 6 .1-3 .1-10 .1 8 .1 13 .1-13 .1-2 .1-2 0 6 .1-3 .1 6 .1-2 .1-4 .1 0 .1 10 .1-6 .1-10 .1 7 .1 0 .1 13 .1-10 .1-5 .1 3 .1 9 0 1 .1 0 .1-20 .1 20 .1-17 .1 8 .1-3 .1 6 .1-6 .1 1 .1 1 .1 9 .1-10 .1-3 .1 0 .1 14 0-10 .1 0 .1 2 .1 6 .1-5 .1 0 .1-5 .1-4 .1 8 .1-2 .1 6 .1-8 .1 3 .1-4 .1-3 .1 2 0 5 .1-1 .1-3 .1 1 .1-4 .1 18 .1-10 .1-9 .1 3 .1 3 .1 1 .1-2 .1 12 .1-14 .1 1 .1-2 0 3 .1 2 .1 0 .1-5 .1 4 .1-8 .1 13 .1-6 .1 6 .1-8 .1 10 .1-9 .1 1 .1 0 .1 3 .1 6 0-10 .1 2 .1 4 .1 2 .1-10 .1 7 .1 4 .1-7 .1 4 .1-7 .1 4 .1-6 .1 9 .1 0 .1 0 .1-3 .1 1 0 3 .1 9 .1-10 .1-6 .1 6 .1-5 .1 4 .1 3 .1-1 .1-5 .1-4 .1 6 .1 4 .1-3 .1-2 .1-9 0 5 .1 1 .1 14 .1 1 .1-17 .1 8 .1-6 .1 3 .1-4 .1 15 .1-10 .1 5 .1-3 .1 6 .1-15 .1 4 0 8 .1-6 .1-9 .1 13 .1-17 .1 9 .1 2 .1-1 .1 8 .1 2 .1-2 .1-3 .1 12 .1-9 .1 3 .1-13 0 6 .1-3 .1 2 .1-1 .1-4 .1 16 .1-12 .1 1 .1-2 .1 4 .1-8 .1 1 .1 9 .1-3 .1 0 .1 4 0 1 .1-5 .1-2 .1 0 .1 6 .1-1 .1 3 .1 0 .1-11 .1 0 .1-3 .1 7 .1-3 .1 6 .1 3 .1-5 0 2 .1 0 .1 5 .1-10 .1 12 .1-2 .1-8 .1 0 .1 5 .1-1 .1-6 .1 9 .1-3 .1 2 .1-9 .1 7 0-12 .1 13 .1-11 .1 6 .1 2 .1-3 .1-3 .1-1 .1 17 .1-15 .1 3 .1 6 .1-8 .1-4 .1 7 .1 5 .1-10 0 0 .1 8 .1 2 .1-2 .1-9 .1 1 .1 13 .1-13 .1 0 .1 9 .1-5 .1-2 .1 7 .1-3 .1-3 .1 9 0-13 .1 2 .1 5 .1 9 .1-11 .1 1 .1 3 .1 0 .1-5 .1 1 .1 5 .1-5 .1 6 .1-6 .1-3 .1 4 0 2 .1-3 .1 1 .1 4 .1 2 .1 0 .1-2 .1-3 .1 5 .1 2 .1-6 .1-2 .1 7 .1-8 .1 16 .1-14 0-4 .1-1 .1 7 .1-6 .1 0 .1-4 .1 7 .1-1 .1 3 .1-6 .1 11 .1-14 .1 13 .1-2 .1 0 .1 8 0-10 .1-6 .1-1 .1-7 .1 7 .1 9 .1 1 .1-7 .1 3 .1-5 .1-4 .1 4 .1 13 .1-3 .1-14 .1 7 0 5 .1-8 .1-2 .1 9 .1 3 .1 3 .1-14 .1 0 .1 8 .1-13 .1 10 .1-14 .1 13 .1-1 .1 7 .1-12 0 4 .1 4 .1 10 .1-16 .1 11 .1-13 .1 8 .1-7 .1 4 .1 0 .1-2 .1 16 .1-13 .1 5 .1-1 .1-6 0 1 .1-1 .1 2 .1-3 .1 4 .1 4 .1-10 .1 3 .1 11 .1-9 .1-9 .1 2 .1 12 .1-8 .1 0 .1 9 .1-2 0-4 .1-12 .1 2 .1 10 .1 2 .1 1 .1-8 .1 1 .1 1 .1 10 .1-8 .1 6 .1 5 .1-10 .1-7 .1 16 0 0 .1-2 .1-8 .1 9 .1-9 .1 7 .1-5 .1 6 .1-9 .1 7 .1-6 .1-3 .1 1 .1-3 .1 4 .1 5 0-7 .1 8 .1-10 .1 9 .1-3 .1-2 .1 3 .1-5 .1 0 .1 2 .1 6 .1-3 .1 6 .1-6 .1-1 .1-3 0 9 .1-2 .1 2 .1-6 .1 1 .1-4 .1 2 .1 3 .1-11 .1 13 .1-9 .1 4 .1-4 .1 8 .1 3 .1-11 0 9 .1-6 .1 0 .1 3 .1-1 .1 7 .1 6 .1-18 .1 0 .1 7 .1 6 .1-8 .1-5 .1 1 .1-3 .1 2 0 9 .1-2 .1-1 .1 8 .1-15 .1 15 .1-6 .1 0 .1-2 .1 3 .1 10 .1-20 .1 1 .1 11 .1-1 .1-7 0-3 .1 8 .1 11 .1-18 .1 2 .1 8 .1-13 .1 8 .1 1 .1-6 .1 6 .1 1 .1 2 .1 0 .1-5 .1 0 0-1 .1 8 .1-14 .1 8 .1-4 .1-2 .1 5 .1 10 .1-12 .1-7 .1 4 .1 7 .1-3 .1-1 .1 4 .1 0 .1 1 0 13 .1-14 .1 9 .1-11 .1-3 .1 5 .1-12 .1 13 .1 1 .1-10 .1-3 .1 13 .1-8 .1 2 .1 2 .1 0 0-3 .1 5 .1 0 .1-2 .1-3 .1 9 .1-11 .1-3 .1 12 .1-4 .1 1 .1-4 .1 11 .1 2 .1-13 .1 4 0-5 .1 6 .1 3 .1 1 .1-3 .1 6 .1-14 .1 3 .1-3 .1 14 .1-15 .1 1 .1 4 .1-1 .1 2 .1 0 0-7 .1 8 .1 5 .1-5 .1 1 .1 10 .1-14 .1-1 .1 1 .1 4 .1 1 .1 0 .1-1 .1-2 .1-1 .1-3 0 4 .1-4 .1 1 .1-6 .1 21 .1-11 .1-14 .1 12 .1 1 .1 7 .1 0 .1-10 .1 1 .1 2 .1-7 .1 5 0 15 .1-15 .1-12 .1 16 .1-6 .1 4 .1-6 .1 2 .1 7 .1 2 .1-1 .1 2 .1-13 .1 11 .1-1 .1 5 0-6 .1-5 .1 8 .1-2 .1-2 .1-4 .1 5 .1 11 .1-6 .1-13 .1 11 .1 6 .1-7 .1-4 .1 6 .1-5 0-5 .1 10 .1-2 .1-1 .1 0 .1-6 .1 8 .1-11 .1 0 .1 8 .1-2 .1-3 .1 5 .1-5 .1-1 .1 7 .1-10 0 5 .1-2 .1 7 .1-7 .1 0 .1-1 .1 7 .1-10 .1 1 .1 9 .1 3 .1-12 .1 11 .1-4 .1 2 .1-3 0 0 .1 2 .1 1 .1-3 .1-2 .1 9 .1-5 .1 10 .1-9 .1-1 .1 1 .1-8 .1 13 .1-2 .1-13 .1 12 0-5 .1 2 .1 1 .1-2 .1-2 .1 4 .1-6 .1 4 .1 4 .1-2 .1 4 .1-4 .1-4 .1 12 .1-8 .1-4 0 3 .1 0 .1-3 .1-4 .1 4 .1 1 .1-1 .1 9 .1-4 .1 2 .1-10 .1 1 .1 5 .1 6 .1-10 .1 0 0-1 .1 10 .1-11 .1 8 .1-5 .1 5 .1-9 .1 4 .1 3 .1-4 .1 15 .1-2 .1-8 .1-6 .1 8 .1 3 0 7 .1-14 .1-1 .1-2 .1 4 .1 1 .1-5 .1 3 .1-9 .1 10 .1-6 .1-1 .1 2 .1 3 .1-2 .1 6 0-7 .1 9 .1 7 .1-16 .1 7 .1 0 .1-1 .1-5 .1 4 .1-4 .1 2 .1 5 .1-4 .1 0 .1-2 .1 1 .1-3 0 8 .1-6 .1 5 .1-4 .1 7 .1-2 .1-1 .1-7 .1 9 .1-1 .1-8 .1 9 .1 1 .1 2 .1-14 .1-3 0 8 .1 5 .1 3 .1-11 .1 12 .1-8 .1 9 .1-15 .1 5 .1-3 .1 10 .1-6 .1-11 .1 14 .1 4 .1-7 0-2 .1 3 .1 6 .1-3 .1-2 .1 2 .1-4 .1 5 .1 4 .1-5 .1-4 .1 7 .1 8 .1-16 .1-7 .1 5 0-7 .1 23 .1-14 .1 3 .1-6 .1 8 .1-5 .1 4 .1-4 .1 2 .1 10 .1-16 .1 10 .1-4 .1-3 .1-1 0 4 .1 8 .1-15 .1 9 .1 4 .1-6 .1 0 .1-5 .1 1 .1 5 .1-3 .1 2 .1 5 .1 2 .1 0 .1-12 0 7 .1-1 .1 1 .1 4 .1-12 .1 6 .1-7 .1 10 .1-11 .1 8 .1 5 .1-3 .1 5 .1-12 .1-2 .1 6 0 6 .1-4 .1-7 .1 10 .1-9 .1 8 .1 3 .1-7 .1 6 .1-11 .1 2 .1-4 .1 4 .1-1 .1 2 .1 5 0-6 .1-6 .1 6 .1 0 .1 6 .1 3 .1-12 .1 10 .1-6 .1-2 .1 1 .1 1 .1 7 .1-7 .1-4 .1 12 .1-8 0 4 .1 1 .1-9 .1 4 .1-3 .1 3 .1 12 .1-10 .1-11 .1 5 .1 10 .1-11 .1 2 .1-1 .1 15 .1-14 0 9 .1 7 .1-15 .1 0 .1 12 .1-11 .1 2 .1 0 .1-2 .1 7 .1-5 .1-6 .1 9 .1-4 .1 1 .1-2 0 11 .1-1 .1-4 .1 0 .1-7 .1 5 .1-4 .1 6 .1 2 .1-4 .1 3 .1 6 .1-10 .1-1 .1 7 .1-6 0 6 .1-13 .1 5 .1 17 .1-18 .1-7 .1 8 .1-1 .1 6 .1-4 .1 1 .1-7 .1 6 .1 5 .1-5 .1-3 0 11 .1-9 .1-3 .1 6 .1-5 .1-3 .1-1 .1 7 .1 8 .1-13 .1 13 .1-2 .1-14 .1 10 .1-10 .1 15 0-7 .1-1 .1 7 .1-7 .1 0 .1 4 .1 1 .1-1 .1 1 .1-2 .1-6 .1 12 .1-3 .1 3 .1-1 .1-8 0-4 .1 8 .1-6 .1 3 .1 3 .1-7 .1 1 .1 1 .1 1 .1 3 .1-8 .1 5 .1 6 .1-4 .1-12 .1 6 0 1 .1 7 .1-7 .1 5 .1-5 .1 2 .1-2 .1 6 .1-5 .1 13 .1-11 .1-2 .1-3 .1 15 .1-7 .1-4 .1 3 0-2 .1 7 .1-3 .1-6 .1-1 .1 7 .1-7 .1 3 .1 6 .1-6 .1 4 .1-8 .1 5 .1 2 .1 2 .1-4 0 8 .1-3 .1-12 .1 6 .1-2 .1 5 .1-4 .1 3 .1 2 .1-4 .1 4 .1-8 .1 5 .1-2 .1 3 .1 3 0-5 .1 2 .1-7 .1 10 .1 0 .1-4 .1 0 .1-5 .1 5 .1-1 .1 6 .1-9 .1 3 .1 0 .1 0 .1 9 0-9 .1-8 .1 7 .1 0 .1-2 .1 3 .1-3 .1 4 .1-4 .1 10 .1-1 .1-5 .1 1 .1-4 .1 0 .1 3 0-5 .1 6 .1 13 .1-10 .1-5 .1 8 .1-7 .1 6 .1 2 .1-17 .1 13 .1-5 .1 7 .1 0 .1-8 .1 8 0-5 .1-4 .1 4 .1-1 .1 2 .1 0 .1 0 .1-4 .1 5 .1 0 .1-5 .1 10 .1-8 .1 8 .1-13 .1 2 0-1 .1 3 .1-2 .1 1 .1-2 .1 3 .1 3 .1 3 .1-2 .1-3 .1 7 .1-10 .1 11 .1 0 .1-7 .1 2 0 13 .1-18 .1 9 .1-5 .1 9 .1-7 .1-4 .1 4 .1-3 .1-1 .1 1 .1 4 .1-5 .1-2 .1 1 .1 6 .1-1 0-2 .1-8 .1 11 .1-12 .1 6 .1 12 .1-12 .1 3 .1 1 .1-3 .1 12 .1-16 .1 9 .1-6 .1 2 .1-2 0 9 .1-12 .1 4 .1-2 .1 3 .1-6 .1 0 .1 11 .1-5 .1-5 .1 3 .1-1 .1 4 .1 4 .1-8 .1 1 0 8 .1-1 .1-6 .1-3 .1-1 .1 6 .1 1 .1 1 .1-10 .1 9 .1-1 .1 2 .1-7 .1 8 .1 1 .1-8 0-2 .1 11 .1-1 .1-15 .1 5 .1 13 .1-6 .1 3 .1 0 .1-9 .1 6 .1 6 .1-2 .1-3 .1-8 .1 9 0-10 .1 11 .1-4 .1-5 .1 26 .1-13 .1-14 .1 2 .1-2 .1 5 .1 5 .1 1 .1-12 .1-2 .1 19 .1-12 0-5 .1 0 .1 1 .1 2 .1 8 .1-1 .1-4 .1-8 .1 1 .1 18 .1-10 .1-1 .1-1 .1-7 .1 5 .1 5 0-2 .1-1 .1 0 .1 5 .1-5 .1 4 .1-3 .1 3 .1-9 .1 2 .1 6 .1-2 .1 4 .1 2 .1-8 .1 8 .1 4 0-11 .1-4 .1 3 .1 1 .1 2 .1-2 .1 2 .1 4 .1-7 .1-2 .1-1 .1 12 .1-6 .1-2 .1 5 .1 3 0-15 .1 3 .1 5 .1 4 .1-11 .1 7 .1-3 .1-4 .1 4 .1 3 .1 7 .1-13 .1 9 .1-2 .1 3 .1-5 0 8 .1 1 .1-1 .1-9 .1 1 .1-6 .1 2 .1 10 .1-8 .1-1 .1 0 .1 10 .1-9 .1 3 .1 6 .1-10 0-4 .1 9 .1-1 .1-2 .1 0 .1 6 .1-8 .1 3 .1 2 .1-1 .1-4 .1 5 .1 3 .1-5 .1 1 .1 1 0-3 .1 3 .1-1 .1-1 .1 0 .1-5 .1 6 .1-3 .1 1 .1 1 .1-3 .1 4 .1 4 .1-6 .1 3 .1-2 0-4 .1-3 .1-3 .1 20 .1-7 .1-5 .1 6 .1 3 .1-2 .1-11 .1 6 .1-1 .1 0 .1 3 .1 9 .1-12 0-8 .1 14 .1 6 .1-14 .1-1 .1 12 .1-1 .1-7 .1-2 .1 3 .1 2 .1-6 .1-3 .1 8 .1-2 .1-9 0 2 .1 12 .1-10 .1 8 .1-4 .1 9 .1-11 .1 5 .1 11 .1-19 .1 1 .1 11 .1-10 .1 5 .1 1 .1-2 .1-3 0-3 .1-3 .1 18 .1-8 .1-9 .1 17 .1-13 .1 1 .1 8 .1-11 .1 17 .1-11 .1 2 .1-8 .1 13 .1 1 0-10 .1-4 .1 17 .1-9 .1-3 .1-7 .1 9 .1 1 .1-5 .1 1 .1 1 .1 1 .1 0 .1 2 .1-9 .1 10 0 3 .1-3 .1 7 .1 2 .1-13 .1-3 .1 3 .1-1 .1 5 .1-7 .1 12 .1-10 .1-2 .1 14 .1-8 .1 1 0-7 .1 1 .1 6 .1 2 .1-1 .1-7 .1 6 .1 5 .1 0 .1-8 .1-9 .1 9 .1 6 .1-7 .1-3 .1 5 0-2 .1 3 .1-3 .1-1 .1 3 .1-2 .1 3 .1-3 .1 4 .1-9 .1 9 .1 11 .1-6 .1-7 .1 1 .1-4 0 2 .1 0 .1 2 .1-1 .1 0 .1 0 .1-1 .1 0 .1 1 .1-10 .1 4 .1 2 .1-1 .1 6 .1-2 .1 6 0-9 .1 13 .1-9 .1-6 .1 14 .1-5 .1-5 .1 12 .1-13 .1 3 .1-2 .1-1 .1-1 .1 8 .1-5 .1 0 0-2 .1 5 .1 0 .1-8 .1 6 .1 4 .1 1 .1-7 .1 2 .1 4 .1-8 .1 7 .1 9 .1-12 .1 0 .1 15 .1-6 0-13 .1 5 .1-3 .1 2 .1-4 .1 8 .1-8 .1 5 .1 0 .1-5 .1 15 .1-14 .1 8 .1 2 .1 4 .1-11 0 7 .1-12 .1 6 .1-5 .1 15 .1-13 .1-13 .1 20 .1-8 .1 10 .1 0 .1-13 .1 3 .1 4 .1-9 .1 13 0-5 .1-6 .1-2 .1-1 .1 15 .1-10 .1-3 .1 5 .1 3 .1-5 .1 2 .1 3 .1-5 .1 6 .1-8 .1 7 0 3 .1-13 .1 15 .1 2 .1-4 .1-8 .1 13 .1-12 .1-1 .1 4 .1-3 .1 2 .1-1 .1-1 .1 8 .1-13 0 10 .1-5 .1 2 .1 6 .1 2 .1-10 .1 1 .1 1 .1-2 .1 1 .1 4 .1 2 .1-7 .1 0 .1-5 .1 4 0 4 .1-2 .1-1 .1 7 .1 3 .1-12 .1 10 .1-6 .1 7 .1-6 .1-1 .1-5 .1 9 .1-9 .1 9 .1-4 0 6 .1 0 .1-17 .1 20 .1-11 .1-4 .1-1 .1 1 .1 4 .1-2 .1 18 .1-19 .1 4 .1 4 .1 1 .1-3 0-9 .1 17 .1-6 .1 3 .1-3 .1-3 .1-2 .1-3 .1 6 .1-5 .1 5 .1 9 .1-8 .1-3 .1 0 .1-7 .1 6 0-2 .1 15 .1-10 .1 8 .1-20 .1 21 .1 1 .1-11 .1 2 .1-4 .1 6 .1-1 .1-10 .1 2 .1 10 .1-2 0-2 .1 0 .1 2 .1-6 .1 3 .1-6 .1 3 .1 2 .1-1 .1 0 .1 3 .1-4 .1 2 .1 2 .1-1 .1 6 0 2 .1-3 .1-9 .1 4 .1-3 .1 4 .1 0 .1 2 .1-6 .1 10 .1-10 .1 2 .1-3 .1 5 .1-12 .1 5 0 9 .1-6 .1-4 .1 14 .1-12 .1 4 .1 3 .1 3 .1 7 .1-19 .1 11 .1 7 .1-13 .1 3 .1-9 .1 1 0 12 .1-5 .1-2 .1 3 .1 2 .1-8 .1 2 .1-1 .1 1 .1 3 .1-2 .1 2 .1-5 .1-3 .1 12 .1-7 0 9 .1-16 .1 2 .1 13 .1 4 .1-3 .1-11 .1 3 .1 5 .1-8 .1 4 .1 14 .1-5 .1-8 .1-7 .1 12 0-4 .1 1 .1-2 .1 0 .1 5 .1-12 .1 13 .1-6 .1-6 .1 9 .1-2 .1 5 .1-9 .1 8 .1-7 .1 2 .1 0 0 0 .1-1 .1 3 .1-3 .1-1 .1 1 .1 2 .1 2 .1 3 .1-6 .1-2 .1 2 .1 8 .1-12 .1 8 .1-5 0 7 .1-6 .1 2 .1-4 .1-5 .1 12 .1 0 .1-5 .1-5 .1 4 .1 6 .1-9 .1-3 .1 12 .1-1 .1-6 0 4 .1-7 .1 9 .1-6 .1-1 .1 3 .1 5 .1-4 .1-1 .1 6 .1-12 .1-1 .1 7 .1-4 .1 5 .1 3 0 2 .1 2 .1-9 .1 6 .1-2 .1 2 .1-7 .1-10 .1 5 .1 15 .1 6 .1-23 .1 5 .1 10 .1-14 .1 4 0 9 .1 4 .1-11 .1 2 .1 3 .1 0 .1-4 .1 7 .1-19 .1 4 .1-1 .1 7 .1 1 .1-1 .1 7 .1-5 0 0 .1 10 .1-10 .1 1 .1-1 .1 6 .1-10 .1 3 .1-2 .1 5 .1 3 .1-12 .1 13 .1 1 .1-10 .1 11 0 0 .1-14 .1 13 .1 3 .1 1 .1-10 .1 3 .1-2 .1-6 .1 2 .1 7 .1-7 .1 10 .1-11 .1 11 .1-9 0 9 .1-3 .1-4 .1-6 .1 2 .1-1 .1 4 .1 0 .1-4 .1 11 .1-13 .1 6 .1-1 .1 7 .1 9 .1-15 .1 1 0 3 .1-7 .1 19 .1-11 .1-2 .1 1 .1-1 .1-7 .1 3 .1 9 .1-13 .1 4 .1 5 .1-10 .1 12 .1 2 0-10 .1 2 .1 13 .1-12 .1-3 .1 6 .1-4 .1 2 .1-1 .1 8 .1-4 .1-6 .1 3 .1 4 .1-13 .1 23" fill="none" stroke="none" marker-start="url(#mo)" marker-mid="url(#mo)" marker-end="url(#mo)"/>
<rect x="129.5" y="64.5" width="775" height="715" fill="none" stroke="#262626" stroke-width="1"/>
<path d="M139.5 779.5v-9M139.5 64.5v9M207.5 779.5v-9M207.5 64.5v9M276.5 779.5v-9M276.5 64.5v9M345.5 779.5v-9M345.5 64.5v9M413.5 779.5v-9M413.5 64.5v9M482.5 779.5v-9M482.5 64.5v9M550.5 779.5v-9M550.5 64.5v9M619.5 779.5v-9M619.5 64.5v9M687.5 779.5v-9M687.5 64.5v9M756.5 779.5v-9M756.5 64.5v9M824.5 779.5v-9M824.5 64.5v9M893.5 779.5v-9M893.5 64.5v9M129.5 174.5h9M904.5 174.5h-9M129.5 300.5h9M904.5 300.5h-9M129.5 425.5h9M904.5 425.5h-9M129.5 551.5h9M904.5 551.5h-9M129.5 676.5h9M904.5 676.5h-9" stroke="#262626" stroke-width="1" fill="none"/>
<g font-family="Liberation Sans, sans-serif" fill="#262626" stroke="#262626" stroke-width="0.35"><g font-size="23.32"><text x="111.42" y="807.60" textLength="13.49" lengthAdjust="spacingAndGlyphs">2</text><text x="124.91" y="807.60" textLength="13.49" lengthAdjust="spacingAndGlyphs">0</text><text x="138.40" y="807.60" textLength="13.49" lengthAdjust="spacingAndGlyphs">0</text><text x="151.89" y="807.60" textLength="13.49" lengthAdjust="spacingAndGlyphs">3</text></g><g font-size="23.32"><text x="179.97" y="807.60" textLength="13.49" lengthAdjust="spacingAndGlyphs">2</text><text x="193.46" y="807.60" textLength="13.49" lengthAdjust="spacingAndGlyphs">0</text><text x="206.94" y="807.60" textLength="13.49" lengthAdjust="spacingAndGlyphs">0</text><text x="220.43" y="807.60" textLength="13.49" lengthAdjust="spacingAndGlyphs">5</text></g><g font-size="23.32"><text x="248.51" y="807.60" textLength="13.49" lengthAdjust="spacingAndGlyphs">2</text><text x="262.00" y="807.60" textLength="13.49" lengthAdjust="spacingAndGlyphs">0</text><text x="275.49" y="807.60" textLength="13.49" lengthAdjust="spacingAndGlyphs">0</text><text x="288.98" y="807.60" textLength="13.49" lengthAdjust="spacingAndGlyphs">7</text></g><g font-size="23.32"><text x="317.06" y="807.60" textLength="13.49" lengthAdjust="spacingAndGlyphs">2</text><text x="330.55" y="807.60" textLength="13.49" lengthAdjust="spacingAndGlyphs">0</text><text x="344.03" y="807.60" textLength="13.49" lengthAdjust="spacingAndGlyphs">0</text><text x="357.52" y="807.60" textLength="13.49" lengthAdjust="spacingAndGlyphs">9</text></g><g font-size="23.32"><text x="385.60" y="807.60" textLength="13.49" lengthAdjust="spacingAndGlyphs">2</text><text x="399.09" y="807.60" textLength="13.49" lengthAdjust="spacingAndGlyphs">0</text><text x="412.58" y="807.60" textLength="13.49" lengthAdjust="spacingAndGlyphs">1</text><text x="426.07" y="807.60" textLength="13.49" lengthAdjust="spacingAndGlyphs">1</text></g><g font-size="23.32"><text x="454.15" y="807.60" textLength="13.49" lengthAdjust="spacingAndGlyphs">2</text><text x="467.64" y="807.60" textLength="13.49" lengthAdjust="spacingAndGlyphs">0</text><text x="481.12" y="807.60" textLength="13.49" lengthAdjust="spacingAndGlyphs">1</text><text x="494.61" y="807.60" textLength="13.49" lengthAdjust="spacingAndGlyphs">3</text></g><g font-size="23.32"><text x="522.69" y="807.60" textLength="13.49" lengthAdjust="spacingAndGlyphs">2</text><text x="536.18" y="807.60" textLength="13.49" lengthAdjust="spacingAndGlyphs">0</text><text x="549.67" y="807.60" textLength="13.49" lengthAdjust="spacingAndGlyphs">1</text><text x="563.16" y="807.60" textLength="13.49" lengthAdjust="spacingAndGlyphs">5</text></g><g font-size="23.32"><text x="591.24" y="807.60" textLength="13.49" lengthAdjust="spacingAndGlyphs">2</text><text x="604.73" y="807.60" textLength="13.49" lengthAdjust="spacingAndGlyphs">0</text><text x="618.22" y="807.60" textLength="13.49" lengthAdjust="spacingAndGlyphs">1</text><text x="631.70" y="807.60" textLength="13.49" lengthAdjust="spacingAndGlyphs">7</text></g><g font-size="23.32"><text x="659.78" y="807.60" textLength="13.49" lengthAdjust="spacingAndGlyphs">2</text><text x="673.27" y="807.60" textLength="13.49" lengthAdjust="spacingAndGlyphs">0</text><text x="686.76" y="807.60" textLength="13.49" lengthAdjust="spacingAndGlyphs">1</text><text x="700.25" y="807.60" textLength="13.49" lengthAdjust="spacingAndGlyphs">9</text></g><g font-size="23.32"><text x="728.33" y="807.60" textLength="13.49" lengthAdjust="spacingAndGlyphs">2</text><text x="741.82" y="807.60" textLength="13.49" lengthAdjust="spacingAndGlyphs">0</text><text x="755.30" y="807.60" textLength="13.49" lengthAdjust="spacingAndGlyphs">2</text><text x="768.79" y="807.60" textLength="13.49" lengthAdjust="spacingAndGlyphs">1</text></g><g font-size="23.32"><text x="796.87" y="807.60" textLength="13.49" lengthAdjust="spacingAndGlyphs">2</text><text x="810.36" y="807.60" textLength="13.49" lengthAdjust="spacingAndGlyphs">0</text><text x="823.85" y="807.60" textLength="13.49" lengthAdjust="spacingAndGlyphs">2</text><text x="837.34" y="807.60" textLength="13.49" lengthAdjust="spacingAndGlyphs">3</text></g><g font-size="23.32"><text x="865.42" y="807.60" textLength="13.49" lengthAdjust="spacingAndGlyphs">2</text><text x="878.91" y="807.60" textLength="13.49" lengthAdjust="spacingAndGlyphs">0</text><text x="892.39" y="807.60" textLength="13.49" lengthAdjust="spacingAndGlyphs">2</text><text x="905.88" y="807.60" textLength="13.49" lengthAdjust="spacingAndGlyphs">5</text></g><g font-size="22.83"><text x="86.68" y="182.20" textLength="12.85" lengthAdjust="spacingAndGlyphs">0</text><text x="99.53" y="182.20" textLength="6.42" lengthAdjust="spacingAndGlyphs">.</text><text x="105.95" y="182.20" textLength="12.85" lengthAdjust="spacingAndGlyphs">3</text></g><g font-size="22.83"><text x="73.82" y="307.70" textLength="12.85" lengthAdjust="spacingAndGlyphs">0</text><text x="86.68" y="307.70" textLength="6.42" lengthAdjust="spacingAndGlyphs">.</text><text x="93.10" y="307.70" textLength="12.85" lengthAdjust="spacingAndGlyphs">2</text><text x="105.95" y="307.70" textLength="12.85" lengthAdjust="spacingAndGlyphs">5</text></g><g font-size="22.83"><text x="86.68" y="433.20" textLength="12.85" lengthAdjust="spacingAndGlyphs">0</text><text x="99.53" y="433.20" textLength="6.42" lengthAdjust="spacingAndGlyphs">.</text><text x="105.95" y="433.20" textLength="12.85" lengthAdjust="spacingAndGlyphs">2</text></g><g font-size="22.83"><text x="73.82" y="558.70" textLength="12.85" lengthAdjust="spacingAndGlyphs">0</text><text x="86.68" y="558.70" textLength="6.42" lengthAdjust="spacingAndGlyphs">.</text><text x="93.10" y="558.70" textLength="12.85" lengthAdjust="spacingAndGlyphs">1</text><text x="105.95" y="558.70" textLength="12.85" lengthAdjust="spacingAndGlyphs">5</text></g><g font-size="22.83"><text x="86.68" y="684.20" textLength="12.85" lengthAdjust="spacingAndGlyphs">0</text><text x="99.53" y="684.20" textLength="6.42" lengthAdjust="spacingAndGlyphs">.</text><text x="105.95" y="684.20" textLength="12.85" lengthAdjust="spacingAndGlyphs">1</text></g></g>
<g transform="translate(60 650.8) rotate(-90)" font-family="Liberation Sans, sans-serif" fill="#262626" stroke="#262626" stroke-width="0.35"><g font-size="24.49"><text x="0.00" y="0.00" textLength="17.28" lengthAdjust="spacingAndGlyphs">N</text><text x="17.28" y="0.00" textLength="14.13" lengthAdjust="spacingAndGlyphs">o</text><text x="31.41" y="0.00" textLength="6.42" lengthAdjust="spacingAndGlyphs">i</text><text x="37.83" y="0.00" textLength="12.04" lengthAdjust="spacingAndGlyphs">s</text><text x="49.87" y="0.00" textLength="14.21" lengthAdjust="spacingAndGlyphs">e</text><text x="71.42" y="0.00" textLength="14.60" lengthAdjust="spacingAndGlyphs">E</text><text x="86.02" y="0.00" textLength="14.66" lengthAdjust="spacingAndGlyphs">q</text><text x="100.68" y="0.00" textLength="14.64" lengthAdjust="spacingAndGlyphs">u</text><text x="115.32" y="0.00" textLength="6.42" lengthAdjust="spacingAndGlyphs">i</text><text x="121.74" y="0.00" textLength="13.67" lengthAdjust="spacingAndGlyphs">v</text><text x="135.41" y="0.00" textLength="14.16" lengthAdjust="spacingAndGlyphs">a</text><text x="149.56" y="0.00" textLength="6.42" lengthAdjust="spacingAndGlyphs">l</text><text x="155.98" y="0.00" textLength="14.21" lengthAdjust="spacingAndGlyphs">e</text><text x="170.19" y="0.00" textLength="14.64" lengthAdjust="spacingAndGlyphs">n</text><text x="184.83" y="0.00" textLength="9.06" lengthAdjust="spacingAndGlyphs">t</text><text x="201.23" y="0.00" textLength="17.79" lengthAdjust="spacingAndGlyphs">D</text><text x="219.02" y="0.00" textLength="14.21" lengthAdjust="spacingAndGlyphs">e</text><text x="233.23" y="0.00" textLength="6.42" lengthAdjust="spacingAndGlyphs">l</text><text x="239.65" y="0.00" textLength="9.06" lengthAdjust="spacingAndGlyphs">t</text><text x="248.71" y="0.00" textLength="14.16" lengthAdjust="spacingAndGlyphs">a</text><text x="270.21" y="0.00" textLength="14.11" lengthAdjust="spacingAndGlyphs">T</text><text x="284.32" y="0.00" textLength="10.29" lengthAdjust="spacingAndGlyphs">e</text><text x="294.60" y="0.00" textLength="22.50" lengthAdjust="spacingAndGlyphs">m</text><text x="317.11" y="0.00" textLength="14.66" lengthAdjust="spacingAndGlyphs">p</text><text x="331.77" y="0.00" textLength="14.21" lengthAdjust="spacingAndGlyphs">e</text><text x="345.98" y="0.00" textLength="9.50" lengthAdjust="spacingAndGlyphs">r</text><text x="355.48" y="0.00" textLength="14.16" lengthAdjust="spacingAndGlyphs">a</text><text x="369.64" y="0.00" textLength="9.06" lengthAdjust="spacingAndGlyphs">t</text><text x="378.69" y="0.00" textLength="14.64" lengthAdjust="spacingAndGlyphs">u</text><text x="393.33" y="0.00" textLength="9.50" lengthAdjust="spacingAndGlyphs">r</text><text x="402.83" y="0.00" textLength="13.70" lengthAdjust="spacingAndGlyphs">e</text><text x="423.88" y="0.00" textLength="9.01" lengthAdjust="spacingAndGlyphs">(</text><text x="432.89" y="0.00" textLength="15.15" lengthAdjust="spacingAndGlyphs">K</text><text x="448.04" y="0.00" textLength="9.01" lengthAdjust="spacingAndGlyphs">)</text></g></g>
<g font-family="Liberation Sans, sans-serif" fill="#000" stroke="#000" stroke-width="0.25"><g font-size="24.17" font-weight="bold"><text x="298.30" y="22.60" textLength="17.65" lengthAdjust="spacingAndGlyphs">A</text><text x="315.95" y="22.60" textLength="8.48" lengthAdjust="spacingAndGlyphs">I</text><text x="324.43" y="22.60" textLength="17.56" lengthAdjust="spacingAndGlyphs">R</text><text x="341.99" y="22.60" textLength="16.42" lengthAdjust="spacingAndGlyphs">S</text><text x="366.34" y="22.60" textLength="16.73" lengthAdjust="spacingAndGlyphs">C</text><text x="383.08" y="22.60" textLength="16.23" lengthAdjust="spacingAndGlyphs">h</text><text x="399.31" y="22.60" textLength="15.39" lengthAdjust="spacingAndGlyphs">a</text><text x="414.69" y="22.60" textLength="16.23" lengthAdjust="spacingAndGlyphs">n</text><text x="430.93" y="22.60" textLength="16.23" lengthAdjust="spacingAndGlyphs">n</text><text x="447.16" y="22.60" textLength="15.46" lengthAdjust="spacingAndGlyphs">e</text><text x="462.62" y="22.60" textLength="7.82" lengthAdjust="spacingAndGlyphs">l</text><text x="478.37" y="22.60" textLength="15.86" lengthAdjust="spacingAndGlyphs">1</text><text x="494.24" y="22.60" textLength="15.86" lengthAdjust="spacingAndGlyphs">4</text><text x="510.10" y="22.60" textLength="15.86" lengthAdjust="spacingAndGlyphs">5</text><text x="525.97" y="22.60" textLength="15.86" lengthAdjust="spacingAndGlyphs">5</text><text x="549.77" y="22.60" textLength="19.08" lengthAdjust="spacingAndGlyphs">N</text><text x="568.85" y="22.60" textLength="15.57" lengthAdjust="spacingAndGlyphs">E</text><text x="584.43" y="22.60" textLength="16.32" lengthAdjust="spacingAndGlyphs">d</text><text x="600.75" y="22.60" textLength="15.55" lengthAdjust="spacingAndGlyphs">T</text><text x="624.24" y="22.60" textLength="10.42" lengthAdjust="spacingAndGlyphs">(</text><text x="634.66" y="22.60" textLength="22.80" lengthAdjust="spacingAndGlyphs">@</text><text x="657.46" y="22.60" textLength="15.86" lengthAdjust="spacingAndGlyphs">2</text><text x="673.32" y="22.60" textLength="15.86" lengthAdjust="spacingAndGlyphs">5</text><text x="689.18" y="22.60" textLength="15.86" lengthAdjust="spacingAndGlyphs">0</text><text x="705.05" y="22.60" textLength="17.67" lengthAdjust="spacingAndGlyphs">K</text><text x="722.72" y="22.60" textLength="10.42" lengthAdjust="spacingAndGlyphs">)</text></g><g font-size="24.17" font-weight="bold"><text x="363.30" y="52.60" textLength="10.42" lengthAdjust="spacingAndGlyphs">[</text><text x="373.72" y="52.60" textLength="22.69" lengthAdjust="spacingAndGlyphs">M</text><text x="396.41" y="52.60" textLength="9.46" lengthAdjust="spacingAndGlyphs">-</text><text x="405.87" y="52.60" textLength="15.86" lengthAdjust="spacingAndGlyphs">0</text><text x="421.74" y="52.60" textLength="15.86" lengthAdjust="spacingAndGlyphs">4</text><text x="437.60" y="52.60" textLength="13.52" lengthAdjust="spacingAndGlyphs">c</text><text x="451.12" y="52.60" textLength="8.66" lengthAdjust="spacingAndGlyphs">,</text><text x="467.72" y="52.60" textLength="15.86" lengthAdjust="spacingAndGlyphs">1</text><text x="483.58" y="52.60" textLength="15.86" lengthAdjust="spacingAndGlyphs">3</text><text x="499.44" y="52.60" textLength="15.86" lengthAdjust="spacingAndGlyphs">3</text><text x="515.31" y="52.60" textLength="15.86" lengthAdjust="spacingAndGlyphs">4</text><text x="531.17" y="52.60" textLength="8.66" lengthAdjust="spacingAndGlyphs">.</text><text x="539.83" y="52.60" textLength="15.86" lengthAdjust="spacingAndGlyphs">6</text><text x="555.70" y="52.60" textLength="15.86" lengthAdjust="spacingAndGlyphs">0</text><text x="571.56" y="52.60" textLength="15.86" lengthAdjust="spacingAndGlyphs">5</text><text x="595.36" y="52.60" textLength="13.52" lengthAdjust="spacingAndGlyphs">c</text><text x="608.88" y="52.60" textLength="23.76" lengthAdjust="spacingAndGlyphs">m</text><text x="632.64" y="52.60" textLength="9.46" lengthAdjust="spacingAndGlyphs">-</text><text x="642.10" y="52.60" textLength="15.86" lengthAdjust="spacingAndGlyphs">1</text><text x="657.96" y="52.60" textLength="10.42" lengthAdjust="spacingAndGlyphs">]</text></g></g>
<!-- legend -->
<rect x="937.5" y="64.5" width="138" height="86" fill="#fff" stroke="#262626" stroke-width="1"/>
<path d="M972.8 76.8l9 9m0-9l-9 9" stroke="#0f0" fill="none"/>
<path d="M970.8 107h13M977.3 100.5v13" stroke="#f00" fill="none"/>
<circle cx="977.3" cy="132.8" r="6" stroke="#00f" fill="none"/>
<g font-family="Liberation Sans, sans-serif" fill="#000" stroke="#000" stroke-width="0.15"><g font-size="20.14"><text x="1014.50" y="88.20" textLength="16.39" lengthAdjust="spacingAndGlyphs">M</text><text x="1030.89" y="88.20" textLength="11.69" lengthAdjust="spacingAndGlyphs">e</text><text x="1042.58" y="88.20" textLength="11.64" lengthAdjust="spacingAndGlyphs">a</text><text x="1054.23" y="88.20" textLength="12.04" lengthAdjust="spacingAndGlyphs">n</text></g><g font-size="20.14"><text x="1014.50" y="113.90" textLength="16.39" lengthAdjust="spacingAndGlyphs">M</text><text x="1030.89" y="113.90" textLength="11.64" lengthAdjust="spacingAndGlyphs">a</text><text x="1042.54" y="113.90" textLength="11.24" lengthAdjust="spacingAndGlyphs">x</text></g><g font-size="20.14"><text x="1014.50" y="139.80" textLength="16.39" lengthAdjust="spacingAndGlyphs">M</text><text x="1030.89" y="139.80" textLength="5.28" lengthAdjust="spacingAndGlyphs">i</text><text x="1036.17" y="139.80" textLength="12.04" lengthAdjust="spacingAndGlyphs">n</text></g></g>
<!-- JPL logo -->
<g>
<circle cx="936" cy="25.8" r="20.9" fill="#1f45a4"/>
<path d="M925.5 12.5 Q931 22 937.5 34.5" stroke="#c9d6f2" stroke-width="0.9" fill="none" opacity="0.85"/>
<g fill="#fff" opacity="0.9"><circle cx="927" cy="15" r="0.7"/><circle cx="941" cy="9" r="0.6"/><circle cx="921" cy="37" r="0.6"/><circle cx="948" cy="37" r="0.6"/><circle cx="944" cy="33" r="0.5"/><circle cx="929" cy="40" r="0.5"/></g>
<path d="M913 32 L935 24 Q948 19.5 954.5 14.5 L964.2 7.3 Q960.5 14.5 956.5 18.5 Q949.5 23.5 938 26 L913.5 32.3Z" fill="#e63a2a"/>
<path d="M913 32 L936 25" stroke="#b0303a" stroke-width="0.8"/>
<text x="918.5" y="29.8" font-family="Liberation Sans, sans-serif" font-size="10.5" font-weight="bold" fill="#fff" textLength="36" lengthAdjust="spacingAndGlyphs">NASA</text>
</g>
<text x="966.5" y="24.5" font-family="Liberation Sans, sans-serif" font-size="13" font-weight="bold" fill="#000" textLength="173.5" lengthAdjust="spacingAndGlyphs">Jet Propulsion Laboratory</text>
<text x="966.8" y="37.6" font-family="Liberation Sans, sans-serif" font-size="10.2" fill="#000" textLength="172" lengthAdjust="spacingAndGlyphs">California Institute of Technology</text>
</svg>
</body></html>
